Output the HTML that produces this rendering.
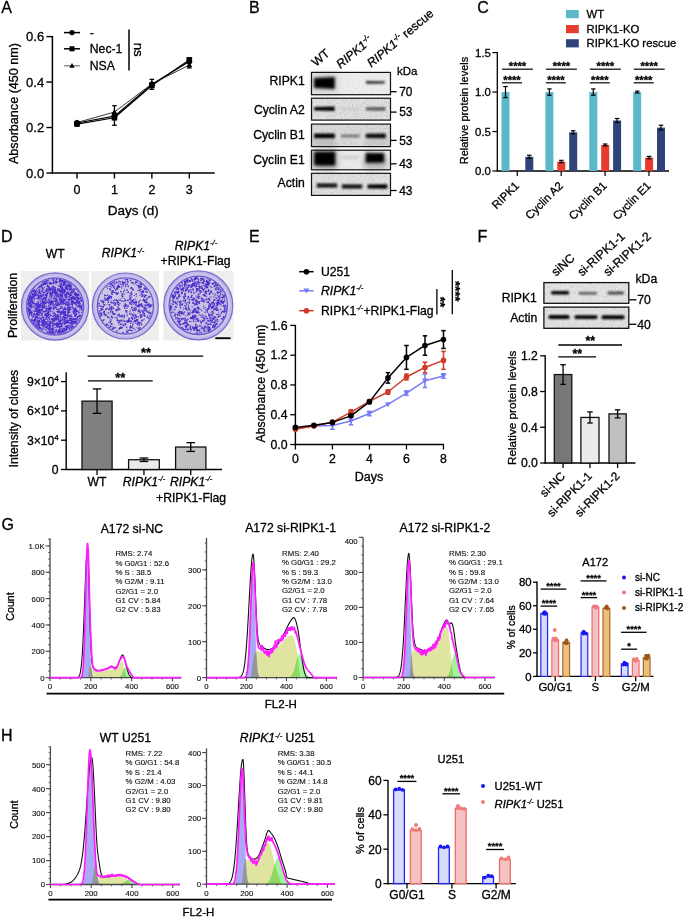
<!DOCTYPE html>
<html><head><meta charset="utf-8"><title>Figure</title>
<style>
html,body{margin:0;padding:0;background:#fff;width:685px;height:919px;overflow:hidden}
svg{display:block;font-family:"Liberation Sans",sans-serif}
text{stroke:#000;stroke-width:0.3px;stroke-linejoin:round}
</style></head><body>
<svg width="685" height="919" viewBox="0 0 685 919"><defs><filter id="bl1" x="-30%" y="-100%" width="160%" height="300%"><feGaussianBlur stdDeviation="1.3"/></filter><filter id="bl2" x="-30%" y="-80%" width="160%" height="260%"><feGaussianBlur stdDeviation="2"/></filter><filter id="bl05" x="-30%" y="-150%" width="160%" height="400%"><feGaussianBlur stdDeviation="0.9"/></filter><filter id="noise" x="0" y="0" width="100%" height="100%"><feTurbulence type="fractalNoise" baseFrequency="0.9" numOctaves="2" seed="3"/><feColorMatrix type="matrix" values="0 0 0 0 0  0 0 0 0 0  0 0 0 0 0  0 0 0 0.35 -0.05"/></filter><filter id="grain" x="0" y="0" width="100%" height="100%"><feTurbulence type="fractalNoise" baseFrequency="0.95" numOctaves="2" seed="4"/><feColorMatrix type="matrix" values="0 0 0 0 0  0 0 0 0 0  0 0 0 0 0  -0.9 0 0 0 0.5"/><feComposite in2="SourceGraphic" operator="in"/></filter><filter id="grainw" x="0" y="0" width="100%" height="100%"><feTurbulence type="fractalNoise" baseFrequency="0.6" numOctaves="2" seed="8"/><feColorMatrix type="matrix" values="0 0 0 0 1  0 0 0 0 1  0 0 0 0 1  1.3 0 0 0 -0.55"/><feComposite in2="SourceGraphic" operator="in"/></filter><filter id="bl15" x="-30%" y="-80%" width="160%" height="260%"><feGaussianBlur stdDeviation="1.5"/></filter><filter id="bl3" x="-30%" y="-80%" width="160%" height="260%"><feGaussianBlur stdDeviation="3"/></filter><clipPath id="cpD1"><circle cx="55.1" cy="306.5" r="28"/></clipPath><clipPath id="cpD2"><circle cx="125.4" cy="306" r="27.5"/></clipPath><clipPath id="cpD3"><circle cx="198.3" cy="305.4" r="28.6"/></clipPath><filter id="dblur"><feGaussianBlur stdDeviation="0.35"/></filter></defs><text x="1.3" y="13.4" text-anchor="start" fill="#000" style="font-size:16px">A</text>
<line x1="52.4" y1="36" x2="52.4" y2="173.7" stroke="#000" stroke-width="1.5"/>
<line x1="51.7" y1="173" x2="214.7" y2="173" stroke="#000" stroke-width="1.5"/>
<line x1="46.4" y1="173" x2="52.4" y2="173" stroke="#000" stroke-width="1.4"/>
<text x="44.2" y="177.6" text-anchor="end" fill="#000" style="font-size:13px">0.0</text>
<line x1="46.4" y1="127.53" x2="52.4" y2="127.53" stroke="#000" stroke-width="1.4"/>
<text x="44.2" y="132.13" text-anchor="end" fill="#000" style="font-size:13px">0.2</text>
<line x1="46.4" y1="82.07" x2="52.4" y2="82.07" stroke="#000" stroke-width="1.4"/>
<text x="44.2" y="86.67" text-anchor="end" fill="#000" style="font-size:13px">0.4</text>
<line x1="46.4" y1="36.6" x2="52.4" y2="36.6" stroke="#000" stroke-width="1.4"/>
<text x="44.2" y="41.2" text-anchor="end" fill="#000" style="font-size:13px">0.6</text>
<line x1="77" y1="173" x2="77" y2="178.5" stroke="#000" stroke-width="1.4"/>
<text x="77" y="193.6" text-anchor="middle" fill="#000" style="font-size:12.5px">0</text>
<line x1="114.43" y1="173" x2="114.43" y2="178.5" stroke="#000" stroke-width="1.4"/>
<text x="114.43" y="193.6" text-anchor="middle" fill="#000" style="font-size:12.5px">1</text>
<line x1="151.86" y1="173" x2="151.86" y2="178.5" stroke="#000" stroke-width="1.4"/>
<text x="151.86" y="193.6" text-anchor="middle" fill="#000" style="font-size:12.5px">2</text>
<line x1="189.29" y1="173" x2="189.29" y2="178.5" stroke="#000" stroke-width="1.4"/>
<text x="189.29" y="193.6" text-anchor="middle" fill="#000" style="font-size:12.5px">3</text>
<text x="133.3" y="214.6" text-anchor="middle" fill="#000" style="font-size:13.5px">Days (d)</text>
<text x="18.1" y="103.5" text-anchor="middle" fill="#000" style="font-size:12.6px" transform="rotate(-90 18.1 103.5)">Absorbance (450 nm)</text>
<polyline points="77,122.99 114.43,116.17 151.86,84.34 189.29,61.61" fill="none" stroke="#000" stroke-width="1.2" stroke-linejoin="round"/>
<polyline points="77,124.12 114.43,117.76 151.86,85.48 189.29,60.02" fill="none" stroke="#000" stroke-width="1.2" stroke-linejoin="round"/>
<polyline points="77,122.53 114.43,112.07 151.86,83.89 189.29,65.02" fill="none" stroke="#222" stroke-width="0.9" stroke-linejoin="round"/>
<line x1="77" y1="121.85" x2="77" y2="124.58" stroke="#000" stroke-width="1.3"/>
<line x1="74.75" y1="121.85" x2="79.25" y2="121.85" stroke="#000" stroke-width="1.3"/>
<line x1="74.75" y1="124.58" x2="79.25" y2="124.58" stroke="#000" stroke-width="1.3"/>
<line x1="114.43" y1="105.71" x2="114.43" y2="125.26" stroke="#000" stroke-width="1.3"/>
<line x1="112.18" y1="105.71" x2="116.68" y2="105.71" stroke="#000" stroke-width="1.3"/>
<line x1="112.18" y1="125.26" x2="116.68" y2="125.26" stroke="#000" stroke-width="1.3"/>
<line x1="151.86" y1="79.34" x2="151.86" y2="89.34" stroke="#000" stroke-width="1.3"/>
<line x1="149.61" y1="79.34" x2="154.11" y2="79.34" stroke="#000" stroke-width="1.3"/>
<line x1="149.61" y1="89.34" x2="154.11" y2="89.34" stroke="#000" stroke-width="1.3"/>
<line x1="189.29" y1="57.74" x2="189.29" y2="67.97" stroke="#000" stroke-width="1.3"/>
<line x1="187.04" y1="57.74" x2="191.54" y2="57.74" stroke="#000" stroke-width="1.3"/>
<line x1="187.04" y1="67.97" x2="191.54" y2="67.97" stroke="#000" stroke-width="1.3"/>
<circle cx="77" cy="122.99" r="2.9" fill="#000" stroke="none" stroke-width="1"/>
<circle cx="114.43" cy="116.17" r="2.9" fill="#000" stroke="none" stroke-width="1"/>
<circle cx="151.86" cy="84.34" r="2.9" fill="#000" stroke="none" stroke-width="1"/>
<circle cx="189.29" cy="61.61" r="2.9" fill="#000" stroke="none" stroke-width="1"/>
<rect x="74.2" y="121.32" width="5.6" height="5.6" fill="#000" stroke="none" stroke-width="1"/>
<rect x="111.63" y="114.96" width="5.6" height="5.6" fill="#000" stroke="none" stroke-width="1"/>
<rect x="149.06" y="82.68" width="5.6" height="5.6" fill="#000" stroke="none" stroke-width="1"/>
<rect x="186.49" y="57.22" width="5.6" height="5.6" fill="#000" stroke="none" stroke-width="1"/>
<path d="M77 119.53L74 124.73L80 124.73Z" fill="#000" stroke="none" stroke-width="1"/>
<path d="M114.43 109.07L111.43 114.27L117.43 114.27Z" fill="#000" stroke="none" stroke-width="1"/>
<path d="M151.86 80.89L148.86 86.09L154.86 86.09Z" fill="#000" stroke="none" stroke-width="1"/>
<path d="M189.29 62.02L186.29 67.22L192.29 67.22Z" fill="#000" stroke="none" stroke-width="1"/>
<line x1="64" y1="32.6" x2="80" y2="32.6" stroke="#000" stroke-width="1.5"/>
<circle cx="72" cy="32.6" r="2.61" fill="#000" stroke="none" stroke-width="1"/>
<text x="89.8" y="37" text-anchor="start" fill="#000" style="font-size:12.2px">-</text>
<line x1="64" y1="48.8" x2="80" y2="48.8" stroke="#000" stroke-width="1.5"/>
<rect x="69.48" y="46.28" width="5.04" height="5.04" fill="#000" stroke="none" stroke-width="1"/>
<text x="89.8" y="53.2" text-anchor="start" fill="#000" style="font-size:12.2px">Nec-1</text>
<line x1="64" y1="65.8" x2="80" y2="65.8" stroke="#777" stroke-width="1.2"/>
<path d="M72 63.1L69.3 67.78L74.7 67.78Z" fill="#000" stroke="none" stroke-width="1"/>
<text x="89.8" y="70.2" text-anchor="start" fill="#000" style="font-size:12.2px">NSA</text>
<line x1="129" y1="29.5" x2="129" y2="70.4" stroke="#000" stroke-width="1.5"/>
<text x="134.3" y="49.7" text-anchor="middle" fill="#000" style="font-size:13.2px" transform="rotate(90 134.3 49.7)">ns</text>
<text x="249" y="13.4" text-anchor="start" fill="#000" style="font-size:16px">B</text>
<rect x="311.5" y="72.4" width="79" height="22.3" fill="#ededed" stroke="none" stroke-width="1"/>
<text x="304.7" y="85.1" text-anchor="end" fill="#000" style="font-size:12.2px">RIPK1</text>
<line x1="390.8" y1="91.7" x2="396.6" y2="91.7" stroke="#000" stroke-width="1.3"/>
<text x="399.2" y="96" text-anchor="start" fill="#000" style="font-size:11.9px">70</text>
<rect x="311.5" y="72.4" width="79" height="22.3" fill="#fff" filter="url(#grain)" opacity="0.15"/>
<rect x="311.5" y="98.2" width="79" height="21.9" fill="#e2e2e2" stroke="none" stroke-width="1"/>
<text x="304.7" y="114.1" text-anchor="end" fill="#000" style="font-size:12.2px">Cyclin A2</text>
<line x1="390.8" y1="112.1" x2="396.6" y2="112.1" stroke="#000" stroke-width="1.3"/>
<text x="399.2" y="116.4" text-anchor="start" fill="#000" style="font-size:11.9px">53</text>
<rect x="311.5" y="98.2" width="79" height="21.9" fill="#fff" filter="url(#grain)" opacity="0.45"/>
<rect x="311.5" y="124.1" width="79" height="22.5" fill="#dedede" stroke="none" stroke-width="1"/>
<text x="304.7" y="139.2" text-anchor="end" fill="#000" style="font-size:12.2px">Cyclin B1</text>
<line x1="390.8" y1="140.4" x2="396.6" y2="140.4" stroke="#000" stroke-width="1.3"/>
<text x="399.2" y="144.7" text-anchor="start" fill="#000" style="font-size:11.9px">53</text>
<rect x="311.5" y="124.1" width="79" height="22.5" fill="#fff" filter="url(#grain)" opacity="0.45"/>
<rect x="311.5" y="150.2" width="79" height="19.6" fill="#ededed" stroke="none" stroke-width="1"/>
<text x="304.7" y="163.6" text-anchor="end" fill="#000" style="font-size:12.2px">Cyclin E1</text>
<line x1="390.8" y1="163.8" x2="396.6" y2="163.8" stroke="#000" stroke-width="1.3"/>
<text x="399.2" y="168.1" text-anchor="start" fill="#000" style="font-size:11.9px">43</text>
<rect x="311.5" y="150.2" width="79" height="19.6" fill="#fff" filter="url(#grain)" opacity="0.2"/>
<rect x="311.5" y="173.3" width="79" height="22.1" fill="#e2e2e2" stroke="none" stroke-width="1"/>
<text x="304.7" y="187.2" text-anchor="end" fill="#000" style="font-size:12.2px">Actin</text>
<line x1="390.8" y1="190.5" x2="396.6" y2="190.5" stroke="#000" stroke-width="1.3"/>
<text x="399.2" y="194.8" text-anchor="start" fill="#000" style="font-size:11.9px">43</text>
<rect x="311.5" y="173.3" width="79" height="22.1" fill="#fff" filter="url(#grain)" opacity="0.4"/>
<text x="397" y="74.6" text-anchor="start" fill="#000" style="font-size:11.5px">kDa</text>
<rect x="312" y="73" width="26" height="21" fill="#d4d4d4" filter="url(#bl3)"/>
<rect x="313" y="139" width="23" height="7" fill="#bdbdbd" filter="url(#bl2)"/>
<rect x="365" y="139" width="23" height="7" fill="#c4c4c4" filter="url(#bl2)"/>
<rect x="313" y="151" width="24" height="18" fill="#9a9a9a" filter="url(#bl3)"/>
<rect x="364" y="156" width="23" height="13" fill="#b0b0b0" filter="url(#bl3)"/>
<path d="M314 78 Q324.4 77.5 334.8 77 L334.8 89 Q324.4 88.5 314 88 Z" fill="#000" opacity="1" filter="url(#bl15)"/>
<path d="M366 81.1 Q375.4 81.2 384.8 81.3 L384.8 83.5 Q375.4 83.6 366 83.7 Z" fill="#2a2a2a" opacity="1" filter="url(#bl05)"/>
<path d="M314.2 107 Q324.4 106.75 334.6 106.5 L334.6 111.1 Q324.4 110.85 314.2 110.6 Z" fill="#050505" opacity="1" filter="url(#bl05)"/>
<path d="M341 108 Q350.5 108 360 108 L360 110 Q350.5 110 341 110 Z" fill="#c8c8c8" opacity="1" filter="url(#bl1)"/>
<path d="M366 107.2 Q375.7 107.1 385.4 107 L385.4 110.8 Q375.7 110.7 366 110.6 Z" fill="#5a5a5a" opacity="1" filter="url(#bl05)"/>
<path d="M314.2 133.6 Q324.5 133.55 334.8 133.5 L334.8 138.3 Q324.5 138.25 314.2 138.2 Z" fill="#050505" opacity="1" filter="url(#bl05)"/>
<path d="M341 134.5 Q350.3 134.5 359.6 134.5 L359.6 137.5 Q350.3 137.5 341 137.5 Z" fill="#7a7a7a" opacity="1" filter="url(#bl05)"/>
<path d="M365.8 133.8 Q375.8 133.7 385.8 133.6 L385.8 138.2 Q375.8 138.1 365.8 138 Z" fill="#0a0a0a" opacity="1" filter="url(#bl05)"/>
<path d="M314.2 151.65 Q324.7 151.53 335.2 151.4 L335.2 165.4 Q324.7 165.28 314.2 165.15 Z" fill="#000" opacity="1" filter="url(#bl15)"/>
<path d="M341 155.2 Q350 155.2 359 155.2 L359 159.2 Q350 159.2 341 159.2 Z" fill="#d0d0d0" opacity="1" filter="url(#bl15)"/>
<path d="M365.6 152.8 Q374.9 152.93 384.2 153.05 L384.2 162.55 Q374.9 162.68 365.6 162.8 Z" fill="#000" opacity="1" filter="url(#bl15)"/>
<path d="M316.8 183.6 Q326.95 183.6 337.1 183.6 L337.1 187.6 Q326.95 187.6 316.8 187.6 Z" fill="#0a0a0a" opacity="1" filter="url(#bl05)"/>
<path d="M341.9 184.5 Q352.05 184.5 362.2 184.5 L362.2 188.5 Q352.05 188.5 341.9 188.5 Z" fill="#0a0a0a" opacity="1" filter="url(#bl05)"/>
<path d="M367.6 184.4 Q377.45 184.35 387.3 184.3 L387.3 188.7 Q377.45 188.65 367.6 188.6 Z" fill="#050505" opacity="1" filter="url(#bl05)"/>
<rect x="311.5" y="72.4" width="79" height="22.3" fill="none" stroke="#111" stroke-width="1.2"/>
<rect x="311.5" y="98.2" width="79" height="21.9" fill="none" stroke="#111" stroke-width="1.2"/>
<rect x="311.5" y="124.1" width="79" height="22.5" fill="none" stroke="#111" stroke-width="1.2"/>
<rect x="311.5" y="150.2" width="79" height="19.6" fill="none" stroke="#111" stroke-width="1.2"/>
<rect x="311.5" y="173.3" width="79" height="22.1" fill="none" stroke="#111" stroke-width="1.2"/>
<text x="316" y="67" text-anchor="start" fill="#000" style="font-size:12.2px" transform="rotate(-40 316 67)">WT</text>
<text x="340.5" y="69" text-anchor="start" fill="#000" style="font-size:12.2px" transform="rotate(-40 340.5 69)"><tspan style="font-style:italic">RIPK1</tspan><tspan dy="-4.6" style="font-size:7.8px;font-style:italic">-/-</tspan></text>
<text x="371.3" y="67.8" text-anchor="start" fill="#000" style="font-size:12.2px" transform="rotate(-40 371.3 67.8)"><tspan style="font-style:italic">RIPK1</tspan><tspan dy="-4.6" style="font-size:7.8px;font-style:italic">-/-</tspan><tspan dy="4.6"> rescue</tspan></text>
<text x="477.3" y="13.3" text-anchor="start" fill="#000" style="font-size:16px">C</text>
<rect x="566" y="10" width="12.8" height="8.2" fill="#5bb8c8" stroke="none" stroke-width="1"/>
<text x="586.5" y="18.2" text-anchor="start" fill="#000" style="font-size:11.3px">WT</text>
<rect x="566" y="25" width="12.8" height="8.2" fill="#e63b2e" stroke="none" stroke-width="1"/>
<text x="586.5" y="33.2" text-anchor="start" fill="#000" style="font-size:11.3px">RIPK1-KO</text>
<rect x="566" y="39.2" width="12.8" height="8.2" fill="#2e4479" stroke="none" stroke-width="1"/>
<text x="586.5" y="47.4" text-anchor="start" fill="#000" style="font-size:11.3px">RIPK1-KO rescue</text>
<line x1="497.3" y1="52" x2="497.3" y2="171.6" stroke="#000" stroke-width="1.3"/>
<line x1="496.7" y1="171" x2="669" y2="171" stroke="#000" stroke-width="1.3"/>
<line x1="492.4" y1="171" x2="497.3" y2="171" stroke="#000" stroke-width="1.2"/>
<text x="490.9" y="175.1" text-anchor="end" fill="#000" style="font-size:11.4px">0.0</text>
<line x1="492.4" y1="131.53" x2="497.3" y2="131.53" stroke="#000" stroke-width="1.2"/>
<text x="490.9" y="135.63" text-anchor="end" fill="#000" style="font-size:11.4px">0.5</text>
<line x1="492.4" y1="92.07" x2="497.3" y2="92.07" stroke="#000" stroke-width="1.2"/>
<text x="490.9" y="96.17" text-anchor="end" fill="#000" style="font-size:11.4px">1.0</text>
<line x1="492.4" y1="52.6" x2="497.3" y2="52.6" stroke="#000" stroke-width="1.2"/>
<text x="490.9" y="56.7" text-anchor="end" fill="#000" style="font-size:11.4px">1.5</text>
<text x="468" y="110.5" text-anchor="middle" fill="#000" style="font-size:11px" transform="rotate(-90 468 110.5)">Relative protein levels</text>
<rect x="501.5" y="92.07" width="8" height="78.93" fill="#5bb8c8" stroke="none" stroke-width="1"/>
<line x1="505.5" y1="86.54" x2="505.5" y2="97.6" stroke="#000" stroke-width="1.2"/>
<line x1="503.25" y1="86.54" x2="507.75" y2="86.54" stroke="#000" stroke-width="1.2"/>
<line x1="503.25" y1="97.6" x2="507.75" y2="97.6" stroke="#000" stroke-width="1.2"/>
<rect x="513.4" y="171" width="8" height="0" fill="#e63b2e" stroke="none" stroke-width="1"/>
<rect x="525.3" y="156.79" width="8" height="14.21" fill="#2e4479" stroke="none" stroke-width="1"/>
<line x1="529.3" y1="155.21" x2="529.3" y2="158.37" stroke="#000" stroke-width="1.2"/>
<line x1="527.05" y1="155.21" x2="531.55" y2="155.21" stroke="#000" stroke-width="1.2"/>
<line x1="527.05" y1="158.37" x2="531.55" y2="158.37" stroke="#000" stroke-width="1.2"/>
<line x1="517.3" y1="171" x2="517.3" y2="176" stroke="#000" stroke-width="1.2"/>
<text x="519.8" y="186.5" text-anchor="end" fill="#000" style="font-size:11.4px" transform="rotate(-45 519.8 186.5)">RIPK1</text>
<line x1="502" y1="69.2" x2="533" y2="69.2" stroke="#000" stroke-width="1.2"/>
<line x1="502" y1="82.8" x2="522" y2="82.8" stroke="#000" stroke-width="1.2"/>
<text x="517.5" y="69.88" text-anchor="middle" fill="#000" style="font-size:11.2px;font-weight:bold">****</text>
<text x="512" y="84.38" text-anchor="middle" fill="#000" style="font-size:11.2px;font-weight:bold">****</text>
<rect x="545.4" y="92.07" width="8" height="78.93" fill="#5bb8c8" stroke="none" stroke-width="1"/>
<line x1="549.4" y1="88.91" x2="549.4" y2="95.23" stroke="#000" stroke-width="1.2"/>
<line x1="547.15" y1="88.91" x2="551.65" y2="88.91" stroke="#000" stroke-width="1.2"/>
<line x1="547.15" y1="95.23" x2="551.65" y2="95.23" stroke="#000" stroke-width="1.2"/>
<rect x="557.3" y="161.53" width="8" height="9.47" fill="#e63b2e" stroke="none" stroke-width="1"/>
<line x1="561.3" y1="160.34" x2="561.3" y2="162.71" stroke="#000" stroke-width="1.2"/>
<line x1="559.05" y1="160.34" x2="563.55" y2="160.34" stroke="#000" stroke-width="1.2"/>
<line x1="559.05" y1="162.71" x2="563.55" y2="162.71" stroke="#000" stroke-width="1.2"/>
<rect x="569.2" y="132.32" width="8" height="38.68" fill="#2e4479" stroke="none" stroke-width="1"/>
<line x1="573.2" y1="130.75" x2="573.2" y2="133.9" stroke="#000" stroke-width="1.2"/>
<line x1="570.95" y1="130.75" x2="575.45" y2="130.75" stroke="#000" stroke-width="1.2"/>
<line x1="570.95" y1="133.9" x2="575.45" y2="133.9" stroke="#000" stroke-width="1.2"/>
<line x1="561.2" y1="171" x2="561.2" y2="176" stroke="#000" stroke-width="1.2"/>
<text x="563.7" y="186.5" text-anchor="end" fill="#000" style="font-size:11.4px" transform="rotate(-45 563.7 186.5)">Cyclin A2</text>
<line x1="545.9" y1="69.2" x2="576.9" y2="69.2" stroke="#000" stroke-width="1.2"/>
<line x1="545.9" y1="82.8" x2="565.9" y2="82.8" stroke="#000" stroke-width="1.2"/>
<text x="561.4" y="69.88" text-anchor="middle" fill="#000" style="font-size:11.2px;font-weight:bold">****</text>
<text x="555.9" y="84.38" text-anchor="middle" fill="#000" style="font-size:11.2px;font-weight:bold">****</text>
<rect x="589.3" y="92.07" width="8" height="78.93" fill="#5bb8c8" stroke="none" stroke-width="1"/>
<line x1="593.3" y1="88.91" x2="593.3" y2="95.23" stroke="#000" stroke-width="1.2"/>
<line x1="591.05" y1="88.91" x2="595.55" y2="88.91" stroke="#000" stroke-width="1.2"/>
<line x1="591.05" y1="95.23" x2="595.55" y2="95.23" stroke="#000" stroke-width="1.2"/>
<rect x="601.2" y="144.95" width="8" height="26.05" fill="#e63b2e" stroke="none" stroke-width="1"/>
<line x1="605.2" y1="144.01" x2="605.2" y2="145.9" stroke="#000" stroke-width="1.2"/>
<line x1="602.95" y1="144.01" x2="607.45" y2="144.01" stroke="#000" stroke-width="1.2"/>
<line x1="602.95" y1="145.9" x2="607.45" y2="145.9" stroke="#000" stroke-width="1.2"/>
<rect x="613.1" y="120.48" width="8" height="50.52" fill="#2e4479" stroke="none" stroke-width="1"/>
<line x1="617.1" y1="118.51" x2="617.1" y2="122.46" stroke="#000" stroke-width="1.2"/>
<line x1="614.85" y1="118.51" x2="619.35" y2="118.51" stroke="#000" stroke-width="1.2"/>
<line x1="614.85" y1="122.46" x2="619.35" y2="122.46" stroke="#000" stroke-width="1.2"/>
<line x1="605.1" y1="171" x2="605.1" y2="176" stroke="#000" stroke-width="1.2"/>
<text x="607.6" y="186.5" text-anchor="end" fill="#000" style="font-size:11.4px" transform="rotate(-45 607.6 186.5)">Cyclin B1</text>
<line x1="589.8" y1="69.2" x2="620.8" y2="69.2" stroke="#000" stroke-width="1.2"/>
<line x1="589.8" y1="82.8" x2="609.8" y2="82.8" stroke="#000" stroke-width="1.2"/>
<text x="605.3" y="69.88" text-anchor="middle" fill="#000" style="font-size:11.2px;font-weight:bold">****</text>
<text x="599.8" y="84.38" text-anchor="middle" fill="#000" style="font-size:11.2px;font-weight:bold">****</text>
<rect x="633.2" y="92.07" width="8" height="78.93" fill="#5bb8c8" stroke="none" stroke-width="1"/>
<line x1="637.2" y1="91.12" x2="637.2" y2="93.02" stroke="#000" stroke-width="1.2"/>
<line x1="634.95" y1="91.12" x2="639.45" y2="91.12" stroke="#000" stroke-width="1.2"/>
<line x1="634.95" y1="93.02" x2="639.45" y2="93.02" stroke="#000" stroke-width="1.2"/>
<rect x="645.1" y="157.58" width="8" height="13.42" fill="#e63b2e" stroke="none" stroke-width="1"/>
<line x1="649.1" y1="156.4" x2="649.1" y2="158.77" stroke="#000" stroke-width="1.2"/>
<line x1="646.85" y1="156.4" x2="651.35" y2="156.4" stroke="#000" stroke-width="1.2"/>
<line x1="646.85" y1="158.77" x2="651.35" y2="158.77" stroke="#000" stroke-width="1.2"/>
<rect x="657" y="127.59" width="8" height="43.41" fill="#2e4479" stroke="none" stroke-width="1"/>
<line x1="661" y1="125.22" x2="661" y2="129.96" stroke="#000" stroke-width="1.2"/>
<line x1="658.75" y1="125.22" x2="663.25" y2="125.22" stroke="#000" stroke-width="1.2"/>
<line x1="658.75" y1="129.96" x2="663.25" y2="129.96" stroke="#000" stroke-width="1.2"/>
<line x1="649" y1="171" x2="649" y2="176" stroke="#000" stroke-width="1.2"/>
<text x="651.5" y="186.5" text-anchor="end" fill="#000" style="font-size:11.4px" transform="rotate(-45 651.5 186.5)">Cyclin E1</text>
<line x1="633.7" y1="69.2" x2="664.7" y2="69.2" stroke="#000" stroke-width="1.2"/>
<line x1="633.7" y1="82.8" x2="653.7" y2="82.8" stroke="#000" stroke-width="1.2"/>
<text x="649.2" y="69.88" text-anchor="middle" fill="#000" style="font-size:11.2px;font-weight:bold">****</text>
<text x="643.7" y="84.38" text-anchor="middle" fill="#000" style="font-size:11.2px;font-weight:bold">****</text>
<text x="1.1" y="241.8" text-anchor="start" fill="#000" style="font-size:16px">D</text>
<text x="55.2" y="258" text-anchor="middle" fill="#000" style="font-size:12.2px">WT</text>
<text x="123" y="257.2" text-anchor="middle" fill="#000" style="font-size:12.2px"><tspan style="font-style:italic">RIPK1</tspan><tspan dy="-4.64" style="font-size:7.56px;font-style:italic">-/-</tspan></text>
<text x="196" y="249.5" text-anchor="middle" fill="#000" style="font-size:12.2px"><tspan style="font-style:italic">RIPK1</tspan><tspan dy="-4.64" style="font-size:7.56px;font-style:italic">-/-</tspan></text>
<text x="195.6" y="264.7" text-anchor="middle" fill="#000" style="font-size:12.2px">+RIPK1-Flag</text>
<text x="17.2" y="305.5" text-anchor="middle" fill="#000" style="font-size:12.2px" transform="rotate(-90 17.2 305.5)">Proliferation</text>
<rect x="20.9" y="271" width="68" height="69.4" fill="#eeeeec" stroke="none" stroke-width="1"/>
<circle cx="55.1" cy="306.5" r="33.6" fill="#bfb8e6" stroke="#7868d4" stroke-width="1.2"/>
<circle cx="55.1" cy="306.5" r="31.2" fill="#cbc6ea" stroke="none" stroke-width="1"/>
<circle cx="55.1" cy="306.5" r="28.6" fill="#bcb6e0" stroke="#6a58d0" stroke-width="1.3"/>
<g clip-path="url(#cpD1)"><g filter="url(#dblur)">
<path d="M82.9 310.0h0M81.7 308.1h0M71.6 297.5h0M72.5 298.5h0M43.3 284.6h0M66.9 326.5h0M43.0 330.7h0M63.3 291.8h0M38.1 307.7h0M63.6 283.1h0M39.4 286.5h0M39.6 287.3h0M37.4 322.3h0M36.9 323.9h0M38.2 320.3h0M37.6 320.7h0M50.1 287.8h0M48.3 287.8h0M30.1 304.5h0M68.7 310.8h0M67.9 308.8h0M71.3 307.5h0M78.2 298.1h0M41.2 288.3h0M52.7 319.4h0M45.1 284.2h0M66.9 326.8h0M42.0 322.9h0M42.9 326.1h0M76.0 307.3h0M79.3 305.1h0M79.7 305.1h0M40.3 293.5h0M51.0 307.6h0M61.5 289.6h0M72.5 319.9h0M73.0 319.7h0M71.5 323.6h0M71.3 324.1h0M46.0 311.1h0M50.6 309.3h0M40.2 295.6h0M69.4 286.0h0M65.5 309.0h0M57.2 316.9h0M57.8 327.8h0M69.2 297.7h0M73.7 321.7h0M55.9 303.2h0M56.1 302.2h0M47.8 289.7h0M47.2 286.5h0M54.2 319.9h0M51.8 320.8h0M27.4 304.1h0M31.4 313.1h0M32.6 303.7h0M33.1 302.2h0M61.0 283.9h0M61.4 283.0h0M67.6 327.5h0M51.4 319.2h0M66.0 281.9h0M65.8 281.9h0M80.6 297.8h0M41.7 307.0h0M69.0 300.1h0M69.1 300.9h0M52.5 283.5h0M29.7 310.3h0M30.5 311.1h0M41.9 303.0h0M65.3 328.8h0M30.1 298.9h0M77.0 299.0h0M45.9 295.6h0M52.9 313.5h0M54.7 314.2h0M27.4 308.8h0M52.4 301.5h0M65.8 290.1h0M65.4 291.6h0M29.5 310.6h0M41.6 309.6h0M71.2 327.1h0M72.5 327.7h0M32.8 290.9h0M39.3 297.9h0M39.5 297.7h0M46.8 289.0h0M73.8 311.8h0M73.3 313.0h0M60.6 293.7h0M58.7 321.1h0M54.4 305.1h0M71.1 295.0h0M71.3 294.1h0M56.5 281.3h0M75.8 323.2h0M81.1 309.4h0M64.1 324.2h0M62.3 310.7h0M71.4 288.7h0M63.7 279.5h0M41.9 319.4h0M42.6 321.7h0M34.4 287.8h0M62.0 316.6h0M72.5 297.4h0M73.3 297.0h0M64.9 313.1h0M48.0 332.6h0M60.6 308.6h0M67.0 287.3h0M56.6 297.0h0M58.1 296.7h0M58.4 297.3h0M63.0 304.5h0M75.8 294.5h0M38.4 296.5h0M29.6 297.4h0M63.9 291.9h0M57.9 303.3h0M63.3 289.7h0M44.6 315.9h0M45.1 314.6h0M49.1 309.6h0M66.6 287.4h0M58.5 302.7h0M76.3 300.2h0M52.9 332.8h0M74.5 294.6h0M58.9 302.5h0M63.5 314.2h0M42.7 314.9h0M42.6 316.9h0M41.6 321.2h0M43.5 321.8h0M60.3 279.2h0M61.3 282.1h0M39.4 314.7h0M64.8 300.6h0M73.7 298.7h0M75.9 294.3h0M76.4 294.1h0M46.8 325.1h0M65.6 310.7h0M30.7 310.1h0M78.0 316.8h0M64.7 295.5h0M65.6 296.0h0M51.0 308.4h0M70.1 294.8h0M54.8 295.6h0M54.5 298.2h0M66.2 315.5h0M81.4 312.3h0M38.3 304.7h0M48.2 279.9h0M55.3 324.6h0M66.7 321.3h0M69.3 328.8h0M36.1 322.3h0M42.6 304.3h0M44.4 305.2h0M64.1 294.5h0M62.1 294.7h0M39.1 310.1h0M64.1 282.9h0M65.6 284.1h0M74.8 301.9h0M43.8 307.7h0M33.9 297.2h0M44.3 321.2h0M79.0 313.6h0M64.4 280.6h0M65.0 330.5h0M60.8 286.5h0M60.1 286.8h0M34.1 323.1h0M34.9 323.3h0M33.8 323.7h0M59.9 326.4h0M52.4 293.4h0M58.5 301.0h0M35.1 298.4h0M51.1 304.1h0M51.3 318.7h0M49.9 288.8h0M43.8 282.0h0M44.6 281.5h0M70.2 282.9h0M69.9 282.3h0M45.2 295.2h0M47.4 295.6h0M29.7 303.7h0M59.3 312.9h0M59.6 311.4h0M46.9 283.2h0M57.1 304.8h0M52.5 289.0h0M52.6 283.2h0M65.8 293.9h0M65.0 294.7h0M57.3 289.8h0M65.7 311.1h0M67.6 310.6h0M62.2 329.6h0M61.3 328.8h0M40.4 318.3h0M65.6 290.8h0M67.2 287.2h0M66.8 293.6h0M32.0 305.5h0M28.6 311.2h0M62.4 318.4h0M31.8 321.6h0M47.5 287.0h0M31.8 312.5h0M59.6 301.2h0M52.8 288.6h0M50.7 289.3h0M46.3 294.8h0M59.4 281.3h0M82.3 301.5h0M31.7 305.7h0M59.2 323.2h0M36.2 315.6h0M35.0 314.3h0M46.8 291.0h0M50.9 331.6h0M53.5 309.5h0M54.6 301.6h0M68.7 332.0h0M67.7 331.9h0M67.4 331.7h0M76.9 295.1h0M45.0 314.4h0M34.4 309.8h0M65.4 314.7h0M50.7 315.5h0M51.4 315.4h0M63.7 312.9h0M71.5 298.8h0M67.9 292.2h0M66.6 293.7h0M39.3 323.0h0M56.0 314.7h0M57.8 315.2h0M39.6 321.2h0M53.3 315.9h0M52.6 316.5h0M53.7 285.0h0M72.4 301.9h0M44.6 287.4h0M69.7 289.9h0M47.1 309.8h0M81.5 299.8h0M70.0 329.5h0M44.0 299.8h0M36.5 310.7h0M37.2 310.2h0M50.1 322.5h0M60.8 319.8h0M34.5 320.4h0M34.9 318.6h0M64.7 324.4h0M64.5 324.1h0M56.7 305.6h0M57.8 305.3h0M46.3 306.4h0M26.9 300.1h0M26.8 299.4h0M65.5 286.8h0M66.1 287.4h0M71.7 318.5h0M49.5 282.8h0M71.2 300.2h0M72.1 302.6h0M61.4 285.8h0M49.3 283.0h0M67.9 290.8h0M29.5 296.4h0M59.6 289.1h0M60.5 281.3h0M60.7 279.9h0M61.3 280.1h0M63.0 285.7h0M69.2 300.8h0M39.6 320.4h0M50.2 323.4h0M66.1 326.4h0M64.4 328.2h0M62.9 330.7h0M73.2 291.1h0M57.5 300.0h0M40.8 297.0h0M41.2 295.9h0M50.3 327.4h0M50.0 327.4h0M74.9 318.8h0M59.4 330.5h0M40.7 311.9h0M41.1 310.8h0M39.4 317.4h0M37.4 316.8h0M70.6 308.1h0M64.1 290.6h0M35.9 308.2h0M43.7 294.5h0M54.1 317.2h0M53.1 318.2h0M59.9 328.3h0M35.0 315.8h0M29.3 303.3h0M35.9 325.9h0M66.0 301.8h0M66.3 301.6h0M44.0 305.9h0M42.6 305.4h0M60.7 315.5h0M47.0 307.3h0M45.8 307.1h0M65.5 305.4h0M42.1 305.9h0M63.3 291.7h0M59.8 290.7h0M55.5 304.2h0M45.8 295.2h0M83.3 304.9h0M82.5 304.4h0M71.3 320.6h0M61.7 284.4h0M67.1 282.0h0M35.6 303.7h0M65.7 307.5h0M51.7 303.5h0M58.7 319.6h0M39.8 311.4h0M39.9 311.2h0M69.6 318.5h0M41.3 286.8h0M40.0 287.9h0M50.2 329.8h0M50.1 331.3h0M51.5 330.8h0M51.8 301.9h0M52.8 316.3h0M35.5 320.0h0M35.5 321.2h0M38.7 287.5h0M38.9 286.8h0M45.9 279.6h0M47.9 292.2h0M53.8 309.5h0M57.3 295.3h0M41.1 294.2h0M41.3 294.7h0M48.2 308.9h0M64.4 322.8h0M49.1 288.7h0M47.5 290.6h0M46.2 322.5h0M46.5 283.2h0M61.5 287.6h0M43.3 298.7h0M63.4 298.2h0M49.1 305.1h0M54.4 318.9h0M67.2 332.0h0M65.4 332.3h0M53.4 279.3h0M37.3 326.9h0M79.4 318.5h0M60.8 314.2h0M58.2 321.2h0M36.9 311.3h0M48.6 302.3h0M49.1 300.9h0M52.2 298.1h0M29.6 313.3h0M45.6 306.5h0M47.6 326.4h0M63.4 299.5h0M67.1 292.1h0M54.7 299.6h0M55.2 300.3h0M52.4 331.8h0M76.3 288.9h0M66.5 318.0h0M53.9 328.0h0M38.9 307.6h0M40.1 310.5h0M50.4 315.1h0M48.5 314.2h0M51.6 323.2h0M62.5 307.8h0M63.4 279.7h0M63.1 280.7h0M60.9 306.7h0M69.5 293.3h0M31.4 299.1h0M72.6 292.7h0M58.6 317.3h0M60.1 317.0h0M48.2 282.8h0M37.1 324.7h0M47.0 303.8h0M57.7 333.0h0M66.1 284.0h0M68.8 300.4h0M67.7 299.7h0M75.5 322.7h0M53.6 306.9h0M67.5 288.7h0M77.6 294.5h0M38.8 327.8h0M69.7 298.4h0M63.1 304.3h0M39.6 312.5h0M47.3 302.3h0M42.3 324.0h0M42.5 323.3h0M44.1 323.2h0M35.9 296.0h0M74.2 310.5h0M73.2 309.2h0M75.3 304.7h0M76.7 305.4h0M67.7 321.2h0M39.3 290.6h0M36.2 294.0h0M67.6 314.0h0M57.7 333.1h0M37.6 311.3h0M38.4 306.7h0M57.1 323.9h0M49.3 298.5h0M71.7 320.2h0M73.0 298.3h0M67.0 317.5h0M56.0 330.8h0M38.1 314.3h0M53.7 281.1h0M40.2 306.6h0M66.7 321.1h0M41.8 303.6h0M78.5 299.7h0M27.0 310.3h0M40.5 319.7h0M68.7 314.7h0M40.7 321.7h0M41.5 320.1h0M42.4 292.6h0M76.1 323.2h0M76.2 324.0h0M58.9 330.2h0M74.9 312.8h0M61.4 283.5h0M62.1 331.7h0M67.8 314.3h0M59.5 333.2h0M34.9 321.6h0M70.7 289.4h0M65.0 294.2h0M40.0 325.5h0M35.6 309.0h0M53.6 333.7h0M58.6 334.6h0M49.3 328.8h0M63.6 313.1h0M55.6 290.0h0M49.2 331.2h0M50.1 331.3h0M78.8 304.4h0M55.6 283.1h0M56.2 284.0h0M50.6 293.9h0M51.6 294.8h0M56.7 291.4h0M55.2 292.3h0M68.4 312.0h0M67.9 311.7h0M52.6 332.3h0M42.3 307.6h0M64.4 329.5h0M54.6 323.5h0M71.5 329.7h0M72.8 328.4h0M44.7 292.9h0M42.7 291.1h0M44.5 292.3h0M69.7 295.4h0M65.0 317.4h0M37.3 322.3h0M49.2 287.1h0M48.3 299.4h0M47.8 314.1h0M75.3 293.1h0M58.7 290.8h0M68.1 296.7h0M56.4 331.3h0M55.1 319.6h0M62.4 330.7h0M74.5 296.7h0M46.9 324.5h0M63.9 308.7h0M63.5 330.3h0M34.3 299.5h0M35.8 295.6h0M63.5 315.6h0M63.6 317.3h0M51.7 295.2h0M51.5 294.4h0M55.7 306.6h0M54.4 307.3h0M58.0 310.9h0M58.6 312.6h0M29.5 295.8h0M73.8 320.9h0M57.0 326.5h0M38.8 309.9h0M70.7 286.2h0M41.4 314.2h0M62.9 298.3h0M60.9 285.6h0M49.9 289.6h0M58.8 332.8h0M58.5 332.3h0M32.3 289.3h0M57.1 279.2h0M44.9 304.2h0M63.3 331.5h0M68.0 325.9h0M68.5 325.4h0M43.6 326.1h0M31.6 312.6h0M46.7 315.5h0M47.0 314.4h0M76.5 314.5h0M54.0 313.8h0M75.3 293.3h0M40.9 315.3h0M72.0 325.7h0M55.2 317.6h0M42.3 309.2h0M53.7 334.1h0M59.4 324.0h0M60.0 330.2h0M60.7 299.3h0M48.7 330.7h0M80.2 299.1h0M64.1 291.7h0M36.1 316.2h0M57.2 323.9h0M30.4 313.7h0M63.9 287.8h0M46.8 330.3h0M32.8 293.2h0M52.8 328.1h0M52.3 320.8h0M61.9 298.8h0M54.3 314.0h0M58.3 306.2h0M80.0 301.7h0M67.7 305.5h0M38.7 313.1h0M40.4 311.9h0M40.0 328.0h0M36.7 312.2h0M52.8 326.1h0M34.6 295.9h0M71.1 318.1h0M47.6 313.0h0M67.7 321.2h0M28.6 307.4h0M28.3 309.5h0M27.5 309.7h0M71.1 304.7h0M69.6 304.5h0M67.3 308.6h0M42.0 296.5h0M67.9 296.6h0M37.8 318.8h0M32.4 302.5h0M42.2 323.2h0M33.7 290.1h0M51.8 318.5h0M50.8 297.1h0M40.4 295.7h0M72.2 298.5h0M79.0 295.9h0M37.0 326.8h0M66.1 302.4h0M42.8 324.0h0M75.4 316.1h0M62.7 327.3h0M61.3 328.1h0M44.7 319.9h0M50.9 289.9h0M49.3 290.0h0M51.3 278.8h0M52.7 301.2h0M51.8 301.4h0M33.6 294.3h0M34.2 293.9h0M48.4 312.6h0M44.7 324.7h0M33.4 293.9h0M62.6 331.8h0M62.1 333.3h0M57.7 312.3h0M57.6 312.2h0M63.4 290.0h0M45.9 319.1h0M55.6 306.8h0M55.5 307.4h0M36.4 290.6h0M37.8 316.1h0M73.5 323.7h0M72.9 323.2h0M54.3 281.2h0M40.1 293.5h0M37.9 295.1h0M55.4 287.6h0M75.7 302.9h0M56.9 301.4h0M57.2 300.1h0M32.0 300.4h0M33.1 298.8h0M38.3 327.9h0M46.8 326.7h0M56.5 281.9h0M36.9 292.0h0M49.5 293.9h0M44.9 283.5h0M48.6 313.1h0M37.1 325.0h0M56.0 282.6h0M37.2 291.6h0M67.3 321.4h0M43.0 302.1h0M74.2 288.6h0M73.3 288.6h0M46.7 296.9h0M48.0 319.0h0M50.1 320.9h0M56.1 303.6h0M55.5 303.6h0M32.3 310.8h0M76.0 289.5h0M52.6 311.8h0M66.9 292.8h0M68.2 294.5h0M51.3 282.8h0M43.5 320.2h0M43.3 285.8h0M45.8 308.6h0M49.1 293.2h0M71.8 324.6h0M62.5 294.2h0M33.3 322.6h0M46.1 297.2h0M70.2 285.9h0M68.8 286.4h0M67.8 285.5h0M67.5 316.9h0M61.5 304.7h0M44.3 284.3h0M77.9 291.8h0M73.2 297.8h0M48.8 289.5h0" stroke="#4a28cc" stroke-width="1.0" stroke-linecap="round" opacity="0.92"/>
<path d="M66.4 326.6h0M67.3 325.6h0M40.2 304.6h0M63.2 293.0h0M63.4 283.2h0M70.1 324.0h0M70.0 322.3h0M39.1 287.0h0M38.2 318.5h0M49.9 325.5h0M50.2 325.4h0M49.0 287.4h0M69.1 309.5h0M71.4 314.8h0M70.8 315.5h0M41.5 284.6h0M70.7 306.8h0M77.9 298.8h0M42.5 287.8h0M63.6 321.4h0M61.9 323.3h0M71.1 297.6h0M42.6 302.1h0M66.9 323.2h0M50.0 295.6h0M49.5 296.9h0M50.2 309.3h0M47.7 285.0h0M66.7 328.8h0M58.7 331.9h0M42.7 324.5h0M79.8 303.5h0M40.9 293.5h0M63.6 316.7h0M59.8 282.1h0M73.5 318.6h0M53.6 306.6h0M76.0 297.0h0M69.6 296.8h0M66.5 329.8h0M43.4 303.3h0M44.5 304.0h0M71.3 320.3h0M72.1 321.2h0M67.3 303.7h0M49.3 287.4h0M26.3 305.4h0M72.5 306.6h0M33.0 302.7h0M59.9 283.4h0M55.3 318.0h0M49.8 319.5h0M59.3 294.5h0M58.8 295.3h0M59.2 293.6h0M64.8 282.0h0M39.3 305.9h0M42.3 308.3h0M58.8 321.1h0M62.3 325.3h0M68.5 299.4h0M44.1 298.8h0M33.9 301.0h0M38.0 321.0h0M71.4 302.1h0M69.8 312.5h0M69.9 310.9h0M29.1 309.6h0M39.2 320.9h0M74.0 322.5h0M54.6 292.4h0M69.9 315.8h0M53.8 286.4h0M42.0 302.1h0M42.6 300.9h0M29.6 315.8h0M32.2 307.3h0M33.8 307.5h0M29.9 298.9h0M77.5 298.6h0M54.4 313.9h0M28.8 308.8h0M50.3 303.2h0M64.2 292.7h0M30.7 311.7h0M71.7 328.5h0M65.3 319.7h0M46.1 289.3h0M48.0 315.6h0M59.8 322.2h0M60.0 321.2h0M55.9 307.1h0M69.5 309.6h0M68.8 309.6h0M68.8 309.2h0M45.3 291.7h0M56.8 279.5h0M31.2 319.6h0M48.9 324.3h0M50.7 304.2h0M81.9 309.4h0M61.7 324.2h0M27.7 307.9h0M66.1 330.2h0M71.1 286.9h0M42.0 320.1h0M65.6 315.7h0M55.5 316.8h0M55.9 316.6h0M75.3 310.2h0M58.5 309.6h0M57.2 304.6h0M50.5 329.8h0M34.7 311.6h0M33.7 311.1h0M67.2 289.4h0M53.3 288.9h0M63.6 303.4h0M62.8 301.8h0M75.2 293.4h0M37.8 294.4h0M61.3 292.6h0M55.9 293.3h0M55.8 301.8h0M65.0 291.6h0M43.6 294.5h0M60.5 302.7h0M49.8 308.1h0M49.9 308.2h0M67.3 285.7h0M57.7 302.6h0M64.7 321.9h0M36.0 292.8h0M64.4 313.7h0M42.4 321.1h0M52.5 304.2h0M41.6 315.2h0M40.9 329.9h0M64.9 299.6h0M65.2 300.2h0M31.2 313.9h0M51.2 283.6h0M30.7 312.4h0M66.7 309.4h0M59.6 288.9h0M28.9 302.8h0M36.6 289.7h0M37.7 288.4h0M37.3 307.8h0M28.7 308.9h0M69.6 294.9h0M62.5 313.3h0M68.5 312.4h0M68.2 311.9h0M82.1 312.6h0M49.5 308.1h0M60.1 280.6h0M65.8 299.4h0M58.0 330.3h0M55.7 323.8h0M79.1 312.4h0M77.8 323.7h0M69.9 285.9h0M63.9 291.1h0M72.1 317.2h0M38.9 310.8h0M58.0 331.2h0M64.9 283.2h0M58.6 311.9h0M58.9 312.1h0M65.8 281.9h0M63.9 283.4h0M64.8 280.8h0M45.3 303.0h0M60.9 331.8h0M52.0 287.7h0M32.3 295.4h0M44.5 322.0h0M70.1 327.2h0M63.8 311.3h0M41.0 284.9h0M59.9 326.9h0M54.2 291.0h0M33.9 306.3h0M59.6 298.3h0M47.3 313.3h0M52.0 332.2h0M34.4 298.4h0M50.7 303.0h0M81.6 301.0h0M47.9 325.5h0M76.5 297.4h0M70.1 282.4h0M76.7 301.3h0M78.5 320.3h0M59.3 312.4h0M51.0 310.7h0M75.6 302.8h0M75.7 299.9h0M75.8 302.4h0M35.9 318.1h0M70.4 309.2h0M70.8 309.2h0M75.2 316.0h0M75.4 314.9h0M60.2 323.4h0M30.2 307.0h0M31.0 308.3h0M62.8 329.1h0M39.0 317.7h0M67.1 294.9h0M62.2 302.6h0M62.6 301.1h0M31.8 304.8h0M38.2 298.8h0M51.3 288.9h0M36.9 316.4h0M44.9 326.4h0M31.9 314.3h0M54.0 325.4h0M52.0 324.5h0M76.4 294.0h0M75.1 318.7h0M57.9 281.7h0M74.4 321.6h0M75.0 321.9h0M74.4 322.8h0M42.4 309.9h0M59.6 323.6h0M72.5 305.0h0M62.4 313.6h0M61.3 314.2h0M47.8 292.6h0M50.8 333.0h0M76.3 288.5h0M66.4 322.8h0M51.7 300.2h0M53.2 283.3h0M53.7 282.9h0M39.7 304.8h0M39.8 304.7h0M65.6 314.8h0M48.7 303.2h0M50.8 315.4h0M30.0 298.2h0M62.2 313.5h0M72.0 297.2h0M73.1 297.0h0M30.4 296.5h0M29.0 297.9h0M68.2 293.8h0M58.8 314.9h0M53.7 316.0h0M73.1 302.6h0M71.7 301.3h0M69.4 290.1h0M69.8 289.3h0M55.8 331.5h0M50.2 283.7h0M38.4 310.2h0M51.2 322.6h0M78.9 319.7h0M62.4 280.5h0M64.6 329.0h0M46.6 309.8h0M51.6 301.6h0M55.2 327.3h0M39.5 320.8h0M31.7 320.4h0M66.3 328.5h0M34.8 311.5h0M66.0 285.3h0M70.1 319.5h0M70.9 318.4h0M47.3 283.2h0M33.3 290.7h0M47.4 335.0h0M62.1 286.0h0M79.6 309.8h0M48.2 286.5h0M45.0 282.0h0M41.3 281.2h0M31.8 302.7h0M30.5 302.4h0M31.7 301.8h0M33.0 303.1h0M33.5 303.0h0M36.8 304.7h0M51.8 332.0h0M52.4 291.4h0M52.6 292.3h0M82.2 300.8h0M29.4 296.8h0M30.4 294.3h0M56.1 291.5h0M48.2 288.5h0M75.6 308.8h0M76.1 310.1h0M63.3 285.3h0M68.5 302.2h0M49.2 308.2h0M52.1 278.1h0M52.4 278.6h0M60.9 294.1h0M61.9 294.6h0M62.5 294.0h0M72.4 292.7h0M73.9 291.9h0M42.0 295.9h0M49.2 327.3h0M77.0 319.5h0M58.7 329.8h0M42.1 311.1h0M39.0 296.6h0M40.4 318.7h0M59.9 300.2h0M68.9 308.4h0M67.4 309.1h0M67.8 308.0h0M35.8 317.6h0M36.2 316.8h0M57.8 294.2h0M58.0 294.0h0M68.7 308.2h0M63.2 291.2h0M29.4 312.5h0M74.8 322.8h0M75.9 321.9h0M64.8 308.5h0M53.3 303.7h0M42.0 295.2h0M46.3 315.8h0M54.0 318.7h0M75.0 312.3h0M36.0 307.9h0M64.5 308.8h0M60.3 328.8h0M59.9 329.0h0M50.8 289.0h0M51.8 289.3h0M30.1 305.1h0M30.9 304.2h0M66.7 301.9h0M29.8 303.1h0M60.1 316.9h0M58.9 316.8h0M60.2 291.6h0M46.0 295.8h0M60.6 290.6h0M61.3 288.9h0M60.4 303.8h0M83.5 303.7h0M72.1 319.2h0M59.5 308.6h0M60.0 309.0h0M68.3 280.8h0M67.7 281.9h0M32.8 316.9h0M35.9 304.2h0M64.9 307.4h0M60.5 295.7h0M53.8 298.7h0M53.5 298.6h0M65.2 309.3h0M70.9 292.3h0M40.5 293.2h0M50.7 301.7h0M48.2 309.8h0M48.1 309.5h0M47.9 308.5h0M81.3 300.1h0M51.9 302.5h0M52.9 302.0h0M71.1 316.4h0M41.7 286.0h0M53.3 301.1h0M35.6 319.6h0M33.9 296.2h0M60.6 285.6h0M52.0 293.6h0M50.5 292.5h0M55.9 295.2h0M45.8 281.2h0M80.1 305.0h0M50.5 291.9h0M57.0 297.8h0M75.6 293.7h0M48.7 309.2h0M59.8 297.3h0M49.1 290.2h0M46.3 293.8h0M48.1 310.4h0M45.9 323.0h0M45.4 321.5h0M42.9 302.8h0M57.7 325.5h0M60.8 287.5h0M61.4 298.0h0M36.9 322.6h0M50.2 302.9h0M65.3 286.9h0M54.2 307.5h0M79.9 316.9h0M59.0 314.8h0M60.9 308.0h0M60.4 322.2h0M59.9 322.2h0M49.3 301.3h0M66.4 280.8h0M48.8 328.5h0M56.1 318.4h0M76.5 296.6h0M44.9 325.4h0M32.7 322.7h0M70.2 287.8h0M51.8 331.8h0M50.4 329.6h0M74.7 290.0h0M62.1 292.2h0M57.4 282.1h0M28.6 308.1h0M57.8 322.8h0M46.1 314.0h0M70.6 320.6h0M71.9 320.5h0M62.2 308.2h0M61.1 306.6h0M71.6 287.0h0M62.1 307.0h0M60.3 312.2h0M54.0 320.8h0M32.3 299.9h0M78.7 298.5h0M46.7 282.6h0M36.0 325.7h0M45.5 306.4h0M65.4 285.0h0M48.7 280.0h0M66.5 304.0h0M65.3 304.6h0M64.3 284.2h0M67.5 288.8h0M38.2 329.2h0M70.7 298.2h0M69.4 296.2h0M61.6 301.6h0M63.2 299.9h0M46.8 317.9h0M46.4 316.5h0M48.6 300.2h0M69.1 284.2h0M50.8 304.2h0M64.9 303.6h0M52.4 305.8h0M46.9 301.1h0M44.8 301.0h0M44.3 302.3h0M67.0 322.7h0M38.7 292.4h0M49.2 333.9h0M31.1 297.6h0M45.3 319.3h0M39.9 322.2h0M39.3 320.1h0M74.5 297.8h0M75.7 298.7h0M38.1 307.1h0M39.7 307.7h0M77.1 296.9h0M50.3 299.4h0M49.9 300.8h0M53.8 329.2h0M52.5 330.8h0M37.6 314.8h0M37.8 312.9h0M55.3 315.5h0M41.2 306.8h0M56.9 311.3h0M43.3 327.1h0M44.0 328.7h0M41.1 303.7h0M63.6 303.0h0M68.2 288.5h0M69.5 309.0h0M69.1 308.7h0M69.1 308.9h0M77.8 300.6h0M77.9 301.7h0M42.4 320.7h0M70.2 289.2h0M77.2 295.3h0M75.9 294.8h0M68.4 284.7h0M68.3 282.4h0M34.9 321.4h0M33.4 322.6h0M53.8 333.9h0M75.9 308.2h0M50.4 328.7h0M49.4 329.7h0M38.1 305.7h0M79.3 315.7h0M69.4 304.8h0M68.2 305.5h0M54.4 290.5h0M80.3 303.8h0M61.1 312.7h0M61.8 313.7h0M74.3 299.3h0M68.6 311.9h0M52.2 332.7h0M42.1 307.0h0M43.2 306.6h0M31.8 305.8h0M79.7 298.1h0M79.9 298.6h0M30.0 302.3h0M68.4 294.2h0M43.0 317.0h0M54.5 291.8h0M61.6 326.0h0M61.0 326.4h0M64.7 316.0h0M56.0 324.3h0M48.2 285.7h0M49.0 286.8h0M55.5 289.3h0M76.1 314.6h0M69.0 284.6h0M69.1 285.5h0M47.2 313.0h0M46.6 313.6h0M76.0 294.4h0M75.7 295.1h0M63.3 331.2h0M62.8 330.1h0M45.4 324.6h0M63.7 309.5h0M63.1 330.1h0M36.1 295.0h0M36.4 298.3h0M62.8 317.2h0M47.3 319.6h0M56.0 308.3h0M59.3 310.8h0M50.5 289.2h0M71.4 301.3h0M42.0 298.6h0M67.4 321.6h0M72.5 321.5h0M57.1 325.9h0M39.0 310.2h0M71.0 285.5h0M62.6 296.7h0M49.6 288.9h0M33.7 291.2h0M56.0 279.0h0M44.2 302.7h0M64.0 331.4h0M65.1 332.3h0M43.3 323.3h0M42.7 326.6h0M55.9 292.1h0M64.6 281.4h0M39.2 291.3h0M29.8 312.1h0M48.6 314.7h0M50.0 316.4h0M74.8 314.7h0M55.3 313.7h0M54.0 312.1h0M72.8 300.8h0M54.6 334.2h0M60.0 299.5h0M49.7 331.8h0M62.0 291.1h0M57.5 323.5h0M61.3 319.8h0M33.6 290.5h0M39.1 289.3h0M45.7 329.6h0M32.6 294.4h0M56.7 326.8h0M56.9 325.7h0M54.6 301.1h0M61.6 298.1h0M61.2 303.0h0M62.2 301.9h0M54.8 315.4h0M53.7 313.1h0M34.9 323.9h0M79.9 301.4h0M46.6 281.5h0M49.8 332.1h0M47.7 334.6h0M36.4 311.5h0M34.6 295.1h0M63.9 313.0h0M68.8 316.6h0M69.7 318.2h0M45.4 290.8h0M64.5 318.2h0M41.4 287.1h0M34.7 290.0h0M30.8 298.7h0M66.9 320.5h0M71.6 304.3h0M43.8 295.6h0M68.9 306.7h0M44.5 297.3h0M65.7 296.1h0M52.9 332.4h0M35.2 319.0h0M40.0 300.3h0M40.6 300.9h0M32.2 319.0h0M79.5 302.3h0M34.7 291.4h0M52.1 318.6h0M40.1 296.0h0M37.8 325.0h0M74.2 319.2h0M45.0 324.0h0M56.3 307.3h0M68.2 315.4h0M73.0 319.3h0M73.0 319.1h0M59.9 327.3h0M43.5 320.5h0M47.0 319.3h0M77.8 299.4h0M53.3 296.0h0M51.5 297.4h0M51.6 296.4h0M70.4 294.7h0M71.8 295.5h0M65.1 287.1h0M38.0 299.0h0M47.1 326.3h0M76.0 315.4h0M78.8 302.4h0M61.9 331.8h0M58.1 311.6h0M45.2 317.7h0M55.9 307.4h0M33.9 320.5h0M33.1 290.9h0M77.5 295.8h0M76.5 295.1h0M36.2 316.6h0M64.4 328.4h0M66.3 326.6h0M74.6 323.6h0M55.5 332.2h0M71.2 285.0h0M68.3 282.6h0M40.0 292.8h0M29.9 298.5h0M53.6 286.8h0M54.0 287.6h0M46.4 317.1h0M56.3 298.8h0M62.7 295.8h0M39.3 327.2h0M28.8 299.3h0M56.1 282.7h0M57.1 282.3h0M51.8 295.3h0M77.8 305.5h0M48.4 313.2h0M36.8 327.2h0M36.8 326.8h0M35.7 292.3h0M37.2 291.3h0M73.6 289.2h0M48.8 321.2h0M50.4 283.6h0M43.8 321.3h0M43.9 322.7h0M61.1 288.2h0M46.0 310.7h0M59.8 330.9h0M46.3 297.1h0M46.3 295.6h0M58.9 324.7h0M62.3 323.2h0M63.2 303.1h0" stroke="#4a28cc" stroke-width="1.35" stroke-linecap="round" opacity="0.92"/>
<path d="M65.6 326.3h0M77.8 306.5h0M79.3 305.8h0M71.5 301.1h0M71.5 299.0h0M43.8 284.2h0M42.1 284.5h0M38.4 304.8h0M66.9 326.3h0M64.1 292.8h0M46.2 294.1h0M57.1 322.7h0M55.2 323.8h0M69.7 322.9h0M70.6 295.2h0M53.0 289.6h0M56.7 299.9h0M71.8 300.7h0M38.3 321.5h0M50.6 326.0h0M77.6 317.6h0M77.5 316.9h0M42.2 284.8h0M44.7 283.4h0M70.7 293.6h0M65.1 321.8h0M66.2 293.9h0M38.9 315.0h0M43.3 302.6h0M43.7 302.2h0M65.6 322.4h0M66.7 321.9h0M54.3 304.8h0M45.3 284.0h0M59.8 330.4h0M60.2 330.6h0M42.4 323.7h0M76.2 304.3h0M41.5 325.0h0M48.9 307.6h0M60.0 280.1h0M35.3 305.7h0M36.6 306.8h0M59.2 285.9h0M44.0 311.4h0M45.7 311.3h0M50.6 307.2h0M69.6 286.5h0M68.5 286.5h0M57.4 316.2h0M58.2 315.9h0M71.5 321.3h0M68.3 305.1h0M55.8 301.2h0M69.0 302.9h0M67.5 302.5h0M46.1 322.4h0M53.1 321.2h0M28.0 304.1h0M39.6 306.8h0M39.3 305.3h0M72.9 307.9h0M55.1 319.4h0M82.2 297.1h0M32.1 296.9h0M32.5 297.8h0M58.5 319.4h0M61.5 325.9h0M44.5 297.4h0M43.7 298.1h0M31.0 300.9h0M32.5 301.8h0M74.7 302.9h0M72.4 302.2h0M56.5 318.0h0M56.8 319.5h0M72.2 321.7h0M71.6 322.7h0M52.9 291.8h0M52.6 292.0h0M69.6 316.2h0M70.5 316.3h0M46.6 297.1h0M48.8 309.6h0M49.1 309.6h0M51.4 302.1h0M56.7 316.4h0M57.9 318.2h0M67.0 318.4h0M35.3 291.4h0M39.1 298.5h0M47.0 289.1h0M73.3 311.9h0M60.8 320.6h0M61.8 320.7h0M61.2 295.6h0M61.2 294.8h0M49.2 314.4h0M70.7 295.4h0M55.7 281.3h0M48.8 324.1h0M47.3 323.5h0M81.9 309.8h0M63.0 323.0h0M61.9 311.6h0M33.7 286.9h0M66.1 315.0h0M63.4 312.8h0M35.8 293.9h0M51.4 329.0h0M52.3 328.4h0M47.1 333.6h0M71.9 330.2h0M38.2 296.9h0M38.9 292.7h0M57.3 293.0h0M62.1 300.2h0M60.7 300.8h0M66.4 286.9h0M65.1 322.0h0M66.5 322.8h0M78.3 299.6h0M45.5 299.2h0M40.7 328.0h0M74.4 294.2h0M58.8 303.5h0M62.1 281.3h0M42.3 329.2h0M67.6 321.2h0M29.6 313.5h0M30.7 312.0h0M50.6 283.2h0M30.8 311.7h0M57.8 288.9h0M58.2 289.7h0M30.4 310.0h0M78.0 316.8h0M71.0 318.9h0M65.2 296.9h0M43.0 322.9h0M51.1 308.3h0M54.9 297.0h0M31.2 306.4h0M29.8 306.8h0M30.0 305.4h0M38.5 303.0h0M49.4 309.3h0M47.5 280.3h0M56.0 324.4h0M78.1 311.7h0M76.9 323.8h0M81.7 305.8h0M80.4 306.7h0M35.8 324.5h0M64.7 290.7h0M44.1 304.4h0M59.8 327.1h0M62.1 295.4h0M39.4 310.2h0M58.7 311.7h0M65.3 281.7h0M76.9 301.1h0M42.3 305.6h0M40.7 304.6h0M27.3 309.0h0M27.4 308.7h0M51.1 288.6h0M42.8 307.8h0M44.0 307.6h0M43.0 288.4h0M43.3 321.4h0M63.9 282.8h0M62.8 282.1h0M68.0 327.1h0M68.4 327.5h0M64.8 309.0h0M49.7 322.9h0M50.2 322.8h0M44.4 321.0h0M58.9 326.2h0M46.2 314.7h0M53.3 334.8h0M51.9 333.7h0M41.2 296.6h0M39.9 295.3h0M33.0 297.5h0M49.9 301.9h0M50.4 290.0h0M77.2 301.9h0M28.4 303.1h0M28.4 305.0h0M81.2 318.9h0M47.3 315.8h0M41.5 309.8h0M50.4 311.5h0M57.2 304.9h0M35.5 317.3h0M76.2 311.7h0M75.0 316.0h0M59.3 324.3h0M60.8 323.5h0M28.6 314.7h0M69.9 307.3h0M61.8 300.1h0M30.4 303.6h0M28.9 310.8h0M28.3 311.3h0M63.0 319.5h0M37.2 317.3h0M45.4 327.3h0M75.9 318.9h0M74.6 319.0h0M52.9 290.9h0M45.9 294.9h0M47.4 293.4h0M82.1 299.9h0M58.6 323.7h0M71.3 304.1h0M72.1 304.1h0M62.1 312.1h0M46.3 291.1h0M53.2 308.4h0M75.5 320.9h0M76.8 321.8h0M53.8 282.4h0M46.4 314.8h0M28.6 298.5h0M29.5 297.9h0M29.8 298.3h0M38.3 324.3h0M39.0 324.6h0M47.8 312.1h0M48.2 312.9h0M57.5 315.7h0M39.1 321.4h0M81.3 300.3h0M69.5 328.8h0M50.6 283.9h0M49.6 282.6h0M38.7 305.6h0M40.5 305.5h0M45.7 298.6h0M59.8 320.7h0M59.7 320.5h0M60.7 280.5h0M60.8 280.6h0M54.7 293.3h0M38.0 307.8h0M56.2 329.8h0M55.8 332.4h0M63.5 328.6h0M46.2 308.5h0M52.5 302.0h0M34.5 319.7h0M64.7 323.6h0M38.8 321.3h0M66.6 329.6h0M66.7 328.7h0M35.4 311.1h0M29.5 300.6h0M74.1 303.2h0M72.6 304.1h0M71.6 304.2h0M34.7 303.7h0M36.8 304.5h0M71.6 303.4h0M33.5 291.3h0M47.2 332.1h0M50.4 283.4h0M42.7 282.4h0M38.3 301.9h0M33.6 303.5h0M50.2 332.6h0M68.1 292.3h0M54.8 292.2h0M59.7 280.8h0M76.6 310.3h0M63.4 284.6h0M50.0 323.7h0M65.4 295.8h0M66.0 296.0h0M66.0 295.1h0M66.3 327.6h0M53.4 279.5h0M46.4 327.0h0M64.0 332.3h0M62.0 331.5h0M73.7 290.9h0M73.2 291.4h0M73.5 291.2h0M55.0 288.0h0M59.5 298.5h0M60.7 299.5h0M78.1 302.8h0M54.1 291.9h0M68.4 307.7h0M64.6 289.9h0M54.5 335.1h0M57.1 309.3h0M76.7 321.3h0M43.4 294.9h0M61.6 301.4h0M78.4 294.2h0M48.8 328.9h0M34.7 326.3h0M27.8 303.3h0M52.5 286.8h0M34.8 314.7h0M34.4 313.6h0M83.2 307.6h0M81.4 306.8h0M62.1 289.9h0M65.0 315.2h0M65.6 312.2h0M61.0 292.1h0M56.3 305.3h0M43.5 318.3h0M59.7 304.6h0M72.9 321.8h0M60.6 286.3h0M65.1 308.9h0M60.2 296.1h0M74.2 321.7h0M71.0 292.0h0M49.9 302.8h0M52.2 302.8h0M59.8 279.6h0M60.3 279.2h0M61.3 281.2h0M34.2 296.0h0M33.3 296.3h0M61.2 284.3h0M40.2 286.2h0M56.6 294.8h0M55.8 294.3h0M68.2 312.2h0M70.4 286.4h0M49.7 325.9h0M65.6 288.6h0M69.7 325.9h0M57.0 296.2h0M38.6 292.8h0M75.5 294.3h0M76.5 293.8h0M37.9 314.0h0M38.0 312.2h0M37.4 312.8h0M31.7 297.7h0M49.8 290.2h0M49.6 309.3h0M57.8 326.7h0M43.8 298.7h0M37.5 321.8h0M50.5 304.7h0M65.2 330.4h0M53.2 280.4h0M53.3 279.0h0M38.8 325.9h0M39.3 326.2h0M46.9 302.0h0M45.6 302.9h0M53.8 308.4h0M72.1 289.8h0M60.7 314.0h0M45.2 311.5h0M43.3 311.8h0M37.5 310.0h0M44.3 305.9h0M43.7 307.1h0M74.4 308.9h0M74.9 309.5h0M74.3 310.0h0M52.6 329.9h0M49.3 326.9h0M56.3 319.7h0M30.8 292.4h0M31.9 293.3h0M31.1 291.5h0M49.0 305.6h0M64.4 299.6h0M68.7 294.0h0M33.2 320.5h0M70.5 288.4h0M55.4 298.7h0M47.1 324.5h0M36.9 303.4h0M66.5 317.8h0M38.8 309.4h0M61.5 302.7h0M74.2 313.7h0M47.8 315.3h0M45.3 314.2h0M48.3 317.0h0M50.0 322.8h0M49.4 323.5h0M53.4 330.9h0M53.0 331.3h0M75.5 295.2h0M57.9 290.4h0M41.5 310.1h0M59.8 312.2h0M38.0 310.5h0M54.6 320.9h0M71.8 291.8h0M59.2 296.0h0M64.4 284.5h0M69.4 299.8h0M46.5 280.5h0M66.1 287.0h0M31.1 292.2h0M77.8 294.8h0M38.4 328.7h0M79.8 307.3h0M80.1 306.8h0M71.1 299.1h0M63.6 302.2h0M63.9 300.7h0M75.5 298.3h0M40.0 312.1h0M39.9 313.0h0M46.0 302.2h0M50.1 321.7h0M64.9 303.4h0M68.4 322.4h0M39.5 290.2h0M42.2 313.5h0M43.8 311.7h0M38.1 295.6h0M36.0 294.8h0M43.6 320.3h0M44.1 319.9h0M58.4 332.5h0M37.8 311.8h0M38.6 311.2h0M39.3 320.6h0M56.2 324.9h0M56.5 324.3h0M45.5 315.0h0M57.4 314.8h0M51.3 293.1h0M49.8 292.7h0M48.2 290.7h0M65.0 320.2h0M65.6 321.6h0M76.2 309.9h0M76.6 311.1h0M41.0 303.1h0M41.6 317.5h0M66.6 288.7h0M43.5 292.4h0M75.8 311.6h0M75.4 293.7h0M62.3 330.7h0M60.8 332.9h0M71.0 289.6h0M69.7 289.4h0M35.8 309.2h0M49.5 327.2h0M48.8 325.6h0M37.9 306.2h0M79.9 315.2h0M67.8 305.6h0M68.7 310.1h0M64.9 313.6h0M55.4 290.1h0M48.9 332.4h0M68.0 313.4h0M66.8 304.7h0M51.8 293.5h0M60.9 312.3h0M73.4 298.8h0M56.1 292.4h0M74.0 327.3h0M27.8 311.6h0M31.4 306.7h0M80.6 297.5h0M29.2 309.6h0M55.0 291.9h0M55.4 289.9h0M65.0 317.5h0M62.9 280.9h0M38.3 323.3h0M38.9 323.0h0M54.7 287.9h0M54.5 289.9h0M75.3 316.0h0M76.4 313.9h0M46.1 299.9h0M69.9 284.1h0M46.2 308.8h0M25.2 312.7h0M76.5 318.6h0M59.9 290.5h0M59.5 291.3h0M66.9 297.8h0M53.3 320.8h0M62.6 301.5h0M63.3 300.9h0M63.0 302.5h0M46.8 323.5h0M50.6 294.7h0M81.4 316.2h0M73.2 301.5h0M29.6 296.4h0M30.6 295.9h0M41.7 291.0h0M42.8 289.7h0M40.9 298.3h0M42.3 299.4h0M69.1 320.4h0M71.2 322.6h0M40.1 309.4h0M40.6 312.9h0M61.0 299.2h0M59.4 334.1h0M32.3 291.0h0M43.2 323.8h0M39.6 291.7h0M73.5 311.1h0M74.5 311.5h0M32.0 312.9h0M66.9 327.8h0M66.8 326.5h0M49.2 318.3h0M43.5 322.7h0M72.1 301.4h0M75.3 292.8h0M71.6 326.9h0M73.1 326.5h0M53.7 318.9h0M54.5 320.2h0M53.9 333.0h0M52.5 322.1h0M52.6 321.9h0M61.2 331.8h0M61.4 300.0h0M62.1 291.0h0M37.4 314.6h0M36.5 313.9h0M57.1 325.3h0M34.3 290.5h0M60.6 318.0h0M57.3 302.6h0M30.9 312.7h0M31.6 312.9h0M38.3 297.5h0M61.9 287.6h0M42.5 321.8h0M43.3 321.4h0M47.3 286.0h0M51.7 328.5h0M57.9 323.9h0M46.8 294.4h0M52.7 322.9h0M61.8 302.8h0M58.0 305.1h0M79.3 301.3h0M45.8 283.4h0M49.5 334.1h0M37.3 328.1h0M37.5 310.5h0M52.8 325.8h0M52.8 328.0h0M34.3 295.2h0M64.3 311.5h0M64.2 313.9h0M64.4 318.7h0M33.7 290.7h0M31.7 298.8h0M68.5 320.3h0M69.2 308.1h0M73.9 298.6h0M74.2 298.8h0M36.3 319.8h0M32.1 320.3h0M43.4 325.3h0M43.3 325.2h0M52.0 319.0h0M41.9 296.1h0M73.2 296.7h0M73.2 298.2h0M78.1 295.5h0M78.7 294.9h0M43.9 324.2h0M73.5 319.3h0M44.4 321.0h0M47.6 321.3h0M77.8 297.8h0M36.4 308.7h0M66.4 287.8h0M66.0 287.6h0M38.3 298.2h0M49.9 289.7h0M64.3 312.9h0M63.3 310.0h0M34.0 294.2h0M48.6 311.7h0M48.5 313.0h0M43.6 323.4h0M78.6 303.4h0M78.0 303.3h0M34.4 293.5h0M35.0 293.9h0M81.2 307.8h0M34.7 321.2h0M34.1 291.5h0M68.5 284.1h0M67.2 285.3h0M28.6 301.3h0M28.5 300.2h0M80.0 315.8h0M74.9 302.9h0M76.9 302.4h0M63.1 289.0h0M62.6 288.2h0M47.1 316.3h0M62.1 297.2h0M31.7 299.9h0M39.8 327.9h0M28.4 299.9h0M47.2 328.3h0M47.4 328.2h0M35.3 291.8h0M52.6 293.8h0M56.4 281.3h0M53.8 334.3h0M52.7 335.0h0M42.4 300.6h0M43.6 301.8h0M33.9 314.6h0M31.8 315.5h0M33.4 316.5h0M67.0 293.0h0M50.2 283.8h0M60.9 287.3h0M61.6 286.9h0M66.7 297.6h0M78.7 294.3h0M72.4 324.0h0M71.8 324.8h0M33.4 323.2h0M58.9 331.9h0M59.2 330.9h0M60.8 323.8h0M67.4 315.8h0M44.0 283.4h0M78.0 291.0h0M71.4 298.1h0M53.8 324.1h0M61.0 291.4h0M61.1 290.3h0" stroke="#4a28cc" stroke-width="1.75" stroke-linecap="round" opacity="0.92"/>
</g></g>
<rect x="91" y="271" width="68" height="69.4" fill="#eeeeec" stroke="none" stroke-width="1"/>
<circle cx="125.4" cy="306" r="33" fill="#bfb8e6" stroke="#7868d4" stroke-width="1.2"/>
<circle cx="125.4" cy="306" r="30.6" fill="#cbc6ea" stroke="none" stroke-width="1"/>
<circle cx="125.4" cy="306" r="28.1" fill="#ccc8e0" stroke="#6a58d0" stroke-width="1.3"/>
<g clip-path="url(#cpD2)"><g filter="url(#dblur)">
<path d="M104.0 301.7h0M132.2 301.8h0M126.6 284.7h0M111.2 300.8h0M109.1 299.8h0M106.4 315.3h0M106.6 314.1h0M108.1 313.3h0M140.7 289.6h0M142.8 316.2h0M131.4 321.0h0M125.6 324.8h0M122.2 324.6h0M125.5 323.7h0M139.2 304.6h0M111.4 293.2h0M111.7 293.6h0M146.8 295.5h0M148.7 317.6h0M111.2 284.0h0M111.9 284.8h0M129.5 313.0h0M116.4 317.8h0M117.3 318.0h0M143.7 309.6h0M136.3 296.3h0M136.4 301.3h0M136.7 302.6h0M132.0 314.6h0M129.0 318.2h0M140.3 314.8h0M138.7 304.9h0M131.0 294.8h0M143.6 311.1h0M124.6 308.7h0M120.8 323.8h0M121.9 322.9h0M140.2 322.8h0M143.4 319.8h0M137.3 316.8h0M118.8 322.3h0M118.6 323.8h0M111.3 296.5h0M131.5 300.5h0M114.9 327.3h0M105.6 309.0h0M104.4 305.3h0M127.0 282.2h0M128.5 282.0h0M140.7 314.4h0M143.5 300.0h0M132.8 310.8h0M132.6 310.8h0M142.7 306.9h0M123.6 321.2h0M150.1 312.3h0M126.1 324.1h0M129.7 330.0h0M134.2 308.6h0M130.4 310.0h0M132.5 283.2h0M103.7 304.4h0M135.4 299.1h0M104.6 319.9h0M105.6 304.1h0M138.0 319.9h0M138.2 318.9h0M121.2 284.3h0M101.3 306.5h0M125.4 300.5h0M138.8 311.1h0M133.0 328.5h0M135.9 320.2h0M127.9 330.8h0M141.6 287.0h0M140.0 284.3h0M139.7 326.0h0M114.9 286.7h0M114.5 288.0h0M124.0 325.3h0M136.0 316.1h0M116.8 302.2h0M140.5 304.2h0M141.5 304.2h0M139.3 305.1h0M139.5 309.4h0M148.5 296.5h0M128.9 321.1h0M104.4 299.1h0M139.6 311.4h0M105.0 295.5h0M105.5 295.4h0M110.9 282.8h0M135.2 321.3h0M136.2 321.7h0M140.1 315.6h0M140.1 312.6h0M134.4 318.8h0M107.2 325.0h0M110.5 319.6h0M140.2 289.2h0M146.0 289.4h0M101.7 300.7h0M115.3 314.1h0M121.9 328.1h0M114.2 282.6h0M133.0 289.3h0M132.4 288.0h0M113.0 285.7h0M137.4 306.1h0M108.0 297.6h0M128.3 277.9h0M127.7 278.7h0M99.8 305.6h0M146.8 310.8h0M143.9 310.7h0M105.7 315.3h0M111.9 315.8h0M151.9 312.5h0M131.3 296.6h0M137.8 313.4h0M139.6 322.7h0M132.4 303.6h0M102.4 309.0h0M127.8 330.2h0M128.2 332.5h0M140.9 305.0h0M145.5 295.8h0M138.4 306.1h0M114.9 305.0h0M136.9 324.1h0M132.0 305.1h0M149.3 310.8h0M106.3 324.0h0M114.1 305.5h0M131.8 288.9h0M106.4 309.0h0M109.3 286.4h0M130.1 327.3h0M135.3 310.8h0M136.4 309.7h0M144.7 299.5h0M117.3 315.4h0M135.0 314.6h0M133.9 315.9h0M124.6 316.9h0M135.3 329.7h0M143.4 290.8h0M123.4 317.9h0M122.8 286.2h0M138.0 325.7h0M138.8 324.4h0M145.5 291.4h0M134.4 303.0h0M133.2 304.3h0M117.4 289.7h0M100.7 308.7h0M147.9 315.3h0M114.9 300.3h0M144.4 319.1h0M138.6 309.9h0M145.3 307.1h0M120.0 327.6h0M113.0 285.9h0M112.5 285.7h0M109.1 296.8h0M142.5 295.0h0M128.4 292.6h0M126.9 292.8h0M109.9 289.4h0M110.4 290.8h0M122.9 316.6h0M145.2 310.1h0M121.3 320.0h0M150.5 306.6h0M132.3 319.6h0M101.7 320.2h0M122.2 286.6h0M120.1 287.1h0M123.7 293.9h0M102.3 293.3h0M149.5 305.6h0M140.9 286.1h0M141.6 284.9h0M112.4 284.1h0M115.8 327.6h0M115.1 328.0h0M114.5 328.7h0M137.8 290.7h0M138.3 290.6h0M133.0 283.2h0M107.8 300.4h0M106.5 299.3h0M106.5 287.5h0M112.3 313.6h0M115.3 289.1h0M116.4 288.0h0M134.0 330.1h0M128.1 306.6h0M130.5 326.2h0M125.6 284.4h0M141.0 316.7h0M110.1 314.1h0M120.9 315.8h0M109.4 308.7h0M118.3 292.4h0M118.5 286.2h0M119.8 285.9h0M145.9 310.0h0M116.7 281.2h0M136.7 284.6h0M123.7 332.8h0M139.5 312.9h0M106.8 304.8h0M124.6 289.2h0M134.8 284.6h0M135.4 283.5h0M121.2 295.7h0M122.5 297.0h0M151.3 305.9h0M106.5 295.7h0M107.4 295.0h0M112.6 329.2h0M113.2 328.5h0M143.7 299.1h0M143.8 299.1h0M120.5 316.9h0M135.9 316.2h0M135.2 307.2h0M98.8 303.7h0M142.4 313.4h0M116.2 309.9h0M134.2 316.9h0M134.9 314.8h0M140.7 294.7h0M139.4 295.4h0M119.2 286.1h0M109.3 295.3h0M105.7 326.5h0M139.3 302.8h0M141.3 295.8h0M119.7 324.6h0M104.1 311.0h0M118.6 299.5h0M115.9 292.7h0M115.2 293.5h0M115.3 313.6h0M146.4 310.2h0M139.7 285.4h0M129.9 330.2h0M116.9 332.9h0M141.8 315.1h0M141.5 314.5h0M121.0 298.7h0" stroke="#4a28cc" stroke-width="1.0" stroke-linecap="round" opacity="0.92"/>
<path d="M128.3 305.9h0M119.6 328.7h0M130.6 323.3h0M103.1 312.5h0M101.0 314.0h0M115.1 317.7h0M130.9 280.0h0M130.5 280.7h0M141.2 289.5h0M141.2 316.7h0M129.3 321.4h0M126.9 308.3h0M146.1 295.3h0M144.9 294.9h0M133.3 321.9h0M112.0 285.3h0M118.7 286.1h0M131.3 313.3h0M116.9 317.8h0M144.5 308.3h0M135.8 307.3h0M125.1 281.6h0M148.9 297.6h0M144.5 310.8h0M126.7 308.4h0M141.3 322.9h0M123.7 306.1h0M124.2 305.1h0M138.6 316.6h0M119.5 322.5h0M111.9 326.6h0M111.6 296.4h0M133.4 300.1h0M107.4 308.2h0M110.2 323.5h0M127.1 315.7h0M133.7 310.6h0M149.4 303.9h0M125.3 324.9h0M114.1 313.6h0M131.0 330.3h0M118.0 322.1h0M145.1 288.4h0M147.1 308.2h0M129.9 311.3h0M133.9 299.5h0M136.6 319.4h0M108.5 312.6h0M121.4 284.6h0M101.0 306.1h0M102.8 306.6h0M121.1 320.5h0M116.9 288.7h0M127.0 327.8h0M123.9 301.5h0M143.3 311.9h0M142.9 312.6h0M143.7 312.6h0M101.3 308.5h0M124.7 290.6h0M123.6 291.5h0M120.4 281.9h0M120.1 283.7h0M118.0 283.1h0M126.6 327.1h0M134.8 321.1h0M128.2 330.8h0M141.4 286.4h0M110.0 327.1h0M124.6 307.3h0M140.2 327.9h0M114.4 288.6h0M123.0 325.0h0M110.5 286.5h0M112.5 285.7h0M111.6 287.8h0M110.7 310.9h0M120.3 327.2h0M141.0 310.6h0M106.2 299.3h0M104.6 295.8h0M135.3 322.7h0M130.2 293.3h0M125.2 306.9h0M142.2 291.4h0M100.4 300.7h0M115.0 283.5h0M114.8 281.5h0M138.5 302.7h0M124.0 298.3h0M133.1 289.1h0M114.1 285.0h0M137.9 305.4h0M108.8 322.3h0M111.7 302.4h0M111.8 302.7h0M118.2 310.1h0M118.4 308.0h0M140.1 291.9h0M152.4 313.0h0M150.7 313.3h0M138.4 310.4h0M137.3 324.1h0M133.9 302.8h0M101.6 309.6h0M139.3 306.2h0M140.0 305.6h0M145.2 295.9h0M140.3 329.4h0M138.7 305.1h0M115.5 304.1h0M137.0 327.8h0M131.1 304.5h0M122.9 282.4h0M114.5 302.8h0M108.0 286.4h0M136.2 308.5h0M132.6 325.9h0M144.6 300.6h0M145.6 301.5h0M117.8 315.0h0M132.7 314.8h0M124.7 317.0h0M140.2 300.3h0M133.8 328.2h0M146.2 291.3h0M123.1 320.1h0M139.3 324.8h0M115.8 290.0h0M115.8 290.6h0M101.8 309.4h0M127.5 300.4h0M128.0 285.8h0M128.4 286.5h0M138.6 324.2h0M132.3 307.3h0M132.2 309.6h0M146.9 311.3h0M141.5 320.5h0M102.9 300.2h0M109.6 317.8h0M120.8 326.9h0M108.8 298.6h0M127.4 315.1h0M118.8 287.6h0M122.7 316.8h0M119.6 309.4h0M111.1 319.9h0M111.0 320.1h0M109.6 297.9h0M147.1 297.9h0M147.1 299.0h0M149.1 318.4h0M119.8 303.6h0M132.8 319.6h0M131.7 318.0h0M130.9 321.3h0M117.0 320.0h0M112.0 293.3h0M111.0 296.3h0M112.0 294.0h0M146.3 300.9h0M146.0 302.4h0M126.9 312.7h0M114.3 292.3h0M112.3 294.6h0M124.0 294.1h0M146.0 299.7h0M111.4 283.4h0M148.1 305.3h0M136.0 321.4h0M137.2 323.4h0M125.3 303.7h0M126.6 304.9h0M126.0 304.9h0M102.0 315.5h0M106.9 299.5h0M107.7 299.9h0M139.1 301.2h0M131.3 302.2h0M104.7 294.8h0M107.8 288.3h0M113.0 307.9h0M108.5 297.4h0M130.4 326.0h0M127.9 321.6h0M128.3 320.8h0M125.5 310.6h0M132.4 301.5h0M133.2 301.0h0M122.1 321.1h0M109.9 307.0h0M118.1 293.3h0M117.5 293.4h0M120.0 303.6h0M122.8 332.4h0M124.7 333.3h0M125.0 300.6h0M125.3 300.7h0M140.2 312.2h0M111.6 329.1h0M121.7 287.9h0M135.4 282.6h0M135.1 304.3h0M122.6 296.8h0M150.7 306.7h0M149.5 307.0h0M103.5 303.0h0M107.4 295.3h0M134.4 310.0h0M117.3 302.3h0M134.2 295.6h0M113.2 292.4h0M114.4 292.4h0M99.4 303.7h0M133.2 315.7h0M142.9 291.1h0M112.1 290.7h0M108.6 325.8h0M129.5 303.9h0M135.7 301.1h0M136.3 303.3h0M134.9 302.3h0M131.3 287.5h0M104.3 311.3h0M118.1 302.0h0M133.3 315.1h0M133.8 313.1h0M116.5 310.8h0M138.9 286.2h0M140.6 286.5h0M140.5 286.6h0M116.8 332.4h0M113.3 300.9h0M141.7 315.4h0" stroke="#4a28cc" stroke-width="1.35" stroke-linecap="round" opacity="0.92"/>
<path d="M102.1 301.6h0M127.4 284.0h0M124.8 283.1h0M129.2 318.8h0M120.5 328.1h0M119.3 328.7h0M137.2 320.0h0M104.3 313.3h0M100.8 312.9h0M130.0 321.0h0M144.1 315.2h0M141.9 306.3h0M143.9 307.5h0M144.9 307.3h0M129.9 321.0h0M107.1 299.1h0M149.0 306.5h0M141.6 304.0h0M112.1 292.3h0M101.6 309.8h0M117.6 286.5h0M112.8 311.9h0M136.1 301.9h0M123.1 283.4h0M128.8 320.3h0M129.9 302.3h0M130.6 302.9h0M139.9 304.5h0M142.2 311.0h0M118.0 307.1h0M139.8 322.9h0M127.0 332.6h0M113.4 327.6h0M132.6 300.5h0M121.2 316.2h0M106.3 309.4h0M127.7 281.3h0M144.2 313.7h0M144.4 301.1h0M109.2 304.5h0M142.5 306.0h0M142.1 305.2h0M125.5 279.5h0M147.3 317.1h0M124.7 321.1h0M150.3 313.5h0M131.5 317.5h0M137.9 285.8h0M125.0 323.5h0M114.0 314.6h0M131.7 330.6h0M119.4 320.7h0M144.7 288.1h0M134.5 308.3h0M104.2 304.9h0M103.2 320.2h0M108.9 309.6h0M125.5 300.2h0M100.5 306.3h0M103.2 306.9h0M138.3 310.8h0M126.7 331.3h0M109.1 327.8h0M110.4 326.1h0M138.6 285.6h0M125.1 306.1h0M139.1 328.2h0M123.7 325.6h0M135.6 315.3h0M113.0 313.3h0M122.1 327.5h0M121.4 327.9h0M149.7 296.6h0M128.6 319.9h0M128.5 320.4h0M140.1 283.6h0M145.0 316.0h0M119.0 281.4h0M110.2 284.3h0M110.4 284.0h0M136.4 320.4h0M134.8 320.7h0M138.4 321.9h0M127.1 290.1h0M131.4 292.4h0M134.8 318.0h0M106.0 326.0h0M127.4 306.3h0M144.2 288.3h0M145.2 289.4h0M122.0 300.9h0M113.9 287.0h0M139.3 306.5h0M108.1 297.9h0M109.0 298.0h0M111.8 324.2h0M110.3 321.3h0M127.4 279.5h0M111.1 302.3h0M117.8 309.7h0M147.2 311.5h0M104.3 314.3h0M112.4 317.6h0M111.4 316.8h0M142.4 292.4h0M130.7 297.9h0M139.2 311.2h0M133.9 302.4h0M102.6 309.4h0M120.9 324.3h0M116.8 331.0h0M144.3 296.3h0M111.7 309.7h0M140.1 329.7h0M138.9 329.4h0M138.5 305.9h0M113.1 302.9h0M118.0 285.4h0M137.9 323.1h0M138.4 322.5h0M114.6 300.1h0M115.3 303.1h0M123.9 282.6h0M122.3 281.7h0M107.2 324.5h0M106.3 324.5h0M115.1 304.7h0M131.3 287.8h0M130.2 327.7h0M130.8 326.4h0M107.7 298.4h0M105.5 300.2h0M143.3 291.4h0M134.9 302.7h0M99.8 310.8h0M128.0 300.4h0M122.3 293.9h0M120.9 291.6h0M116.6 300.1h0M131.8 307.7h0M147.9 312.0h0M142.3 320.4h0M116.0 310.1h0M102.9 302.2h0M113.4 308.3h0M111.2 297.4h0M111.1 298.0h0M110.0 296.4h0M142.9 294.8h0M118.2 286.4h0M119.3 286.9h0M128.3 292.2h0M110.0 289.0h0M130.0 314.1h0M144.6 296.9h0M145.4 308.9h0M145.2 310.1h0M107.9 300.0h0M120.6 320.6h0M132.5 318.4h0M148.9 318.3h0M118.9 304.9h0M101.4 314.1h0M141.5 324.6h0M135.2 309.8h0M134.2 308.9h0M124.2 315.0h0M107.7 316.6h0M108.0 317.4h0M131.1 321.6h0M117.7 320.4h0M117.0 294.2h0M133.0 289.9h0M147.3 302.4h0M126.3 311.6h0M135.9 281.8h0M136.9 282.3h0M110.7 321.8h0M151.9 305.1h0M132.9 324.0h0M147.5 304.8h0M146.7 305.3h0M141.4 284.3h0M146.7 302.8h0M145.1 301.9h0M113.0 282.8h0M148.9 304.3h0M150.6 305.2h0M139.6 290.0h0M99.6 316.1h0M100.8 315.9h0M132.8 282.7h0M132.0 282.7h0M108.3 302.1h0M107.1 298.9h0M104.9 298.0h0M110.8 311.8h0M110.8 308.5h0M111.4 307.5h0M109.1 296.4h0M108.2 298.2h0M145.1 305.0h0M131.8 327.4h0M128.0 322.2h0M126.7 310.9h0M131.1 300.3h0M125.6 286.3h0M140.9 316.7h0M140.8 317.4h0M147.0 292.2h0M146.9 288.9h0M122.1 315.6h0M139.6 287.0h0M138.9 287.8h0M137.5 306.4h0M125.4 300.2h0M109.8 304.8h0M113.0 328.5h0M150.1 316.1h0M125.5 305.2h0M104.3 311.7h0M136.1 305.2h0M149.3 313.1h0M123.4 284.8h0M97.9 305.9h0M105.6 315.4h0M102.2 321.3h0M101.0 321.2h0M102.5 302.0h0M103.3 301.9h0M131.6 294.4h0M129.9 295.8h0M117.5 287.9h0M117.3 288.4h0M98.4 314.9h0M99.5 313.6h0M118.0 302.2h0M117.6 303.9h0M129.9 298.4h0M129.7 299.0h0M143.2 300.2h0M119.1 316.1h0M136.3 317.0h0M97.8 303.6h0M136.2 294.2h0M116.8 309.5h0M117.7 286.9h0M117.5 286.6h0M143.4 291.9h0M142.1 291.6h0M126.6 321.4h0M127.1 321.0h0M113.1 290.8h0M119.2 314.4h0M119.6 309.1h0M111.7 306.7h0M109.6 308.4h0M116.6 282.5h0M141.6 293.3h0M142.2 296.3h0M131.1 288.3h0M122.5 296.2h0M112.5 291.1h0M116.4 293.1h0M117.3 300.5h0M132.7 315.5h0M129.5 330.1h0M140.5 287.0h0M120.0 300.3h0" stroke="#4a28cc" stroke-width="1.75" stroke-linecap="round" opacity="0.92"/>
</g></g>
<rect x="163.3" y="271" width="70.1" height="69.4" fill="#eeeeec" stroke="none" stroke-width="1"/>
<circle cx="198.3" cy="305.4" r="34.5" fill="#bfb8e6" stroke="#7868d4" stroke-width="1.2"/>
<circle cx="198.3" cy="305.4" r="32.1" fill="#cbc6ea" stroke="none" stroke-width="1"/>
<circle cx="198.3" cy="305.4" r="29.2" fill="#c6c2e0" stroke="#6a58d0" stroke-width="1.3"/>
<g clip-path="url(#cpD3)"><g filter="url(#dblur)">
<path d="M186.6 326.1h0M224.8 308.6h0M216.7 298.4h0M222.5 319.7h0M188.3 325.0h0M188.3 325.3h0M208.4 289.7h0M195.0 328.5h0M194.9 327.7h0M204.5 317.4h0M215.3 309.5h0M201.3 330.1h0M172.1 296.9h0M173.0 297.5h0M188.7 329.3h0M180.4 321.7h0M203.8 290.9h0M211.1 290.7h0M186.1 303.6h0M187.8 302.5h0M188.0 304.4h0M193.4 292.6h0M199.7 282.4h0M200.5 282.2h0M201.8 278.8h0M216.5 320.9h0M215.3 322.0h0M217.5 320.3h0M185.6 306.9h0M197.0 289.3h0M185.9 299.7h0M197.7 284.0h0M196.5 284.9h0M214.1 294.0h0M213.7 306.1h0M193.2 311.6h0M180.9 288.2h0M180.5 287.5h0M224.2 312.0h0M194.6 284.5h0M174.5 298.3h0M198.1 315.4h0M184.7 325.8h0M186.7 325.4h0M187.2 312.3h0M180.8 311.5h0M180.6 313.0h0M224.5 309.5h0M224.3 308.5h0M222.4 294.8h0M220.5 295.9h0M211.4 320.0h0M185.3 301.1h0M216.4 314.6h0M216.6 314.5h0M206.2 281.2h0M180.3 303.6h0M208.6 327.4h0M221.8 301.0h0M173.4 294.7h0M223.6 303.3h0M202.0 300.7h0M203.3 299.7h0M197.5 308.5h0M196.2 311.7h0M195.9 312.4h0M215.3 298.0h0M188.8 298.7h0M172.8 302.7h0M173.5 301.9h0M181.7 293.4h0M201.0 301.1h0M216.4 285.6h0M206.1 329.3h0M211.9 311.1h0M213.5 310.8h0M197.4 311.8h0M188.0 306.2h0M178.7 318.8h0M172.4 300.3h0M196.1 281.6h0M194.8 282.0h0M209.2 324.5h0M181.4 318.6h0M189.6 313.5h0M202.3 287.2h0M187.5 326.8h0M226.5 308.7h0M183.1 312.9h0M211.6 302.9h0M206.8 296.6h0M206.1 296.0h0M183.4 288.5h0M185.3 308.1h0M184.7 302.4h0M186.6 304.6h0M183.5 307.8h0M196.5 286.7h0M179.6 326.0h0M180.8 327.5h0M176.2 299.5h0M211.5 287.2h0M210.5 286.5h0M207.2 282.7h0M201.0 280.3h0M198.0 278.4h0M222.9 294.6h0M224.4 307.9h0M178.8 318.7h0M224.9 307.8h0M170.8 310.1h0M170.5 310.3h0M205.7 292.1h0M205.2 295.4h0M194.4 299.1h0M193.6 298.6h0M193.9 299.9h0M205.2 312.7h0M188.1 319.4h0M203.8 280.8h0M184.6 323.3h0M210.7 314.3h0M211.7 314.1h0M172.7 296.8h0M173.6 296.4h0M171.8 296.6h0M189.1 329.3h0M186.9 324.0h0M186.6 323.6h0M197.2 307.5h0M197.2 307.5h0M183.7 290.5h0M209.2 323.9h0M181.9 312.6h0M196.9 312.3h0M224.5 298.2h0M180.4 316.3h0M178.3 294.8h0M182.2 288.7h0M194.9 334.6h0M185.2 320.7h0M188.4 287.5h0M173.6 295.4h0M199.5 301.7h0M180.1 296.9h0M181.7 324.5h0M182.7 327.2h0M201.1 325.7h0M182.8 284.7h0M181.9 284.1h0M201.8 310.7h0M201.7 310.4h0M202.2 291.1h0M186.6 321.3h0M179.5 305.2h0M200.8 326.2h0M201.1 323.7h0M173.1 311.0h0M171.1 308.8h0M190.7 280.6h0M200.6 292.8h0M199.2 291.0h0M211.9 308.0h0M177.5 321.5h0M211.2 312.2h0M188.2 280.2h0M175.0 313.3h0M226.2 309.6h0M216.1 319.0h0M180.8 286.0h0M201.1 328.4h0M198.4 289.6h0M209.0 308.9h0M183.6 309.7h0M203.5 320.3h0M221.7 297.6h0M188.1 281.4h0M183.5 297.2h0M185.5 296.5h0M202.9 294.8h0M186.9 288.9h0M217.6 300.1h0M211.2 291.7h0M184.5 286.2h0M214.5 327.7h0M184.6 320.4h0M199.8 286.1h0M207.5 325.7h0M206.6 326.8h0M194.3 317.5h0M196.9 286.0h0M196.1 278.5h0M214.8 295.9h0M217.6 293.8h0M185.0 293.8h0M207.4 308.5h0M204.7 326.0h0M196.2 295.9h0M206.2 318.9h0M201.3 300.3h0M197.2 330.3h0M222.5 311.3h0M224.9 310.5h0M199.9 288.0h0M180.1 321.1h0M208.5 308.4h0M192.1 306.8h0M192.3 306.8h0M195.2 279.6h0M193.7 310.3h0M213.9 327.9h0M214.0 286.7h0M213.7 319.5h0M193.3 321.6h0M184.3 282.4h0M206.6 291.2h0M206.8 293.6h0M182.6 303.4h0M194.3 312.3h0M194.3 279.9h0M203.4 308.5h0M195.6 300.7h0M203.4 282.0h0M202.6 283.5h0M181.9 302.1h0M206.3 323.5h0M179.5 322.7h0M203.1 301.2h0M209.7 278.7h0M208.7 284.4h0M207.0 282.9h0M220.2 315.1h0M226.7 310.8h0M226.4 310.7h0M218.7 314.9h0M212.0 319.4h0M213.0 317.7h0M206.7 331.4h0M207.8 287.0h0M179.3 324.3h0M198.2 308.9h0M220.6 293.5h0M222.0 294.3h0M199.1 308.9h0M197.6 308.3h0M197.8 308.8h0M206.4 293.8h0M208.5 324.8h0M209.4 327.0h0M194.8 328.0h0M196.1 329.1h0M193.2 313.3h0M195.6 283.3h0M183.6 298.7h0M190.5 331.7h0M184.6 318.6h0M199.7 303.6h0M197.5 326.6h0M189.5 314.3h0M224.4 309.4h0M192.9 312.9h0M212.3 320.4h0M211.1 317.7h0M211.3 318.1h0M205.7 290.9h0M181.6 281.8h0M185.7 283.6h0M186.0 285.1h0M191.7 321.4h0M203.8 330.8h0M190.0 313.8h0M200.4 278.8h0M205.9 285.7h0M182.2 291.2h0M172.4 296.5h0M189.4 280.4h0M212.6 306.3h0M171.7 295.5h0M218.0 309.3h0M186.3 308.8h0M186.4 309.6h0M190.1 312.1h0M189.2 312.4h0M218.1 303.6h0M171.2 303.3h0M199.0 295.9h0M199.6 296.6h0M188.4 306.1h0M188.6 305.8h0M196.1 296.9h0M196.2 311.2h0M215.1 282.5h0M205.1 327.5h0M210.0 280.4h0M216.3 300.5h0M215.6 295.0h0M215.2 294.1h0M195.3 317.3h0M195.3 315.0h0M201.6 317.3h0M179.3 295.4h0M179.0 295.9h0M213.1 284.4h0M176.5 289.8h0M177.7 289.4h0M209.3 284.3h0M208.4 301.7h0M217.3 308.2h0M204.2 301.0h0M204.7 301.9h0M198.1 306.7h0M210.9 329.1h0M191.8 290.0h0M195.9 328.2h0M216.1 309.7h0M217.0 308.3h0M185.8 280.2h0M183.3 323.6h0M207.6 301.9h0M206.8 302.4h0M183.9 288.0h0M208.5 291.0h0M180.1 311.0h0M179.7 312.4h0M170.4 306.7h0M207.3 318.3h0M181.4 291.0h0M181.4 292.5h0M184.8 285.5h0M185.0 284.2h0M184.6 286.3h0M191.6 279.1h0M186.2 307.2h0M190.8 310.7h0M175.6 316.1h0M210.5 317.5h0M209.0 283.5h0M208.4 282.0h0M198.3 310.0h0M222.2 292.0h0M221.9 290.4h0M184.4 284.8h0M209.4 300.6h0M217.4 302.3h0M179.2 302.5h0M212.0 287.5h0M187.5 298.3h0M197.1 297.6h0M209.7 298.1h0M208.1 329.8h0M194.1 293.5h0M191.0 292.9h0M224.2 300.2h0M224.2 298.7h0M224.9 300.1h0M205.1 324.7h0M220.7 315.5h0M219.1 314.3h0M216.0 303.0h0M182.5 293.5h0M181.3 290.4h0M181.0 289.7h0M172.2 295.2h0M208.0 301.5h0M181.3 304.4h0M178.2 301.0h0M204.8 281.3h0M217.2 289.2h0M179.3 313.9h0M190.0 281.6h0M218.4 312.2h0M200.9 315.5h0M202.5 314.7h0M201.6 317.3h0M210.2 278.8h0" stroke="#4a28cc" stroke-width="1.0" stroke-linecap="round" opacity="0.92"/>
<path d="M185.7 326.2h0M207.6 312.3h0M207.4 311.4h0M197.1 335.2h0M197.2 332.9h0M195.3 333.6h0M221.6 318.9h0M215.4 320.3h0M214.3 322.0h0M214.2 321.5h0M219.7 316.5h0M188.6 324.7h0M196.5 327.8h0M192.5 299.0h0M194.9 298.6h0M209.8 300.0h0M209.9 300.1h0M186.3 279.0h0M213.8 312.9h0M197.7 334.1h0M198.2 333.6h0M186.1 286.6h0M187.3 287.4h0M173.8 297.5h0M181.8 313.6h0M212.9 307.3h0M204.0 289.5h0M214.2 309.3h0M214.9 308.6h0M200.4 321.2h0M211.3 292.0h0M191.4 292.6h0M207.1 281.8h0M208.6 282.4h0M207.6 281.3h0M193.7 330.0h0M194.5 329.1h0M183.8 323.8h0M182.2 323.6h0M197.8 288.4h0M199.1 288.7h0M199.7 296.5h0M198.2 298.3h0M217.6 292.5h0M220.4 294.9h0M196.2 299.3h0M213.0 293.6h0M192.8 310.9h0M184.9 281.2h0M186.4 280.8h0M210.5 304.2h0M212.8 304.0h0M179.5 286.0h0M192.4 284.8h0M219.2 296.0h0M197.2 282.0h0M196.6 283.8h0M204.5 288.5h0M203.2 285.7h0M204.4 285.1h0M187.0 309.2h0M187.3 310.3h0M210.5 320.6h0M187.6 324.9h0M196.7 327.1h0M208.8 328.0h0M207.8 327.5h0M224.2 301.3h0M224.5 301.4h0M209.3 279.0h0M209.1 280.8h0M222.9 302.4h0M198.1 308.6h0M196.9 310.1h0M196.2 304.5h0M195.8 303.6h0M196.1 278.2h0M185.1 284.7h0M186.1 284.7h0M193.4 292.8h0M199.6 282.6h0M173.3 312.6h0M213.6 309.8h0M188.4 307.4h0M178.1 320.0h0M191.2 317.5h0M191.2 317.5h0M217.6 304.2h0M217.3 302.8h0M206.7 278.8h0M194.4 281.1h0M193.5 317.8h0M180.9 301.5h0M180.1 301.9h0M180.7 301.0h0M195.7 312.1h0M220.9 291.7h0M220.5 291.4h0M194.2 327.3h0M192.8 328.2h0M186.1 325.3h0M199.2 312.8h0M216.4 306.2h0M190.8 297.6h0M211.1 324.6h0M205.0 307.6h0M204.8 307.6h0M181.3 312.1h0M209.1 318.9h0M196.3 284.8h0M196.1 283.1h0M182.7 289.1h0M193.0 286.0h0M192.5 286.5h0M207.9 284.8h0M212.5 322.5h0M203.6 329.7h0M188.4 292.0h0M189.3 290.7h0M190.5 289.7h0M209.7 315.1h0M189.0 309.8h0M217.7 291.3h0M218.2 287.9h0M202.0 279.7h0M222.2 299.3h0M214.6 300.2h0M209.2 303.6h0M180.3 320.9h0M173.2 298.7h0M201.3 286.2h0M197.4 289.1h0M196.4 291.1h0M194.3 303.3h0M193.5 303.2h0M194.7 316.3h0M192.4 317.4h0M190.0 321.6h0M189.5 321.5h0M205.6 299.6h0M206.3 299.7h0M203.6 295.1h0M205.0 312.0h0M187.7 318.8h0M189.4 303.2h0M186.7 303.1h0M208.6 328.1h0M187.2 329.0h0M188.0 329.8h0M187.5 324.6h0M188.2 297.2h0M218.1 292.4h0M183.7 291.1h0M214.7 305.4h0M181.7 314.0h0M196.5 312.0h0M219.7 300.9h0M223.7 310.8h0M222.0 311.8h0M178.4 296.6h0M198.9 301.3h0M201.9 322.5h0M199.9 326.2h0M199.7 325.5h0M200.0 286.8h0M184.4 284.5h0M201.7 291.7h0M185.0 321.8h0M169.9 309.4h0M197.9 319.0h0M198.3 321.5h0M212.2 306.9h0M212.3 307.3h0M203.1 289.3h0M197.8 283.8h0M199.3 284.3h0M178.4 322.0h0M177.4 321.1h0M192.5 315.9h0M212.8 313.2h0M188.6 280.2h0M186.8 282.0h0M215.4 320.1h0M206.1 316.9h0M205.7 316.3h0M205.1 315.8h0M220.8 304.6h0M221.3 305.6h0M172.9 297.6h0M184.8 318.3h0M215.8 317.3h0M177.3 304.8h0M176.2 303.9h0M168.8 301.5h0M170.4 300.7h0M198.7 289.5h0M208.5 309.2h0M211.2 308.2h0M184.3 312.1h0M184.8 311.9h0M194.8 304.4h0M187.9 282.4h0M205.6 296.1h0M184.7 298.3h0M198.6 330.7h0M185.6 289.8h0M187.3 288.3h0M211.0 291.2h0M198.2 302.0h0M197.4 302.0h0M200.9 315.8h0M203.1 315.3h0M208.7 306.5h0M185.7 320.1h0M184.0 329.9h0M183.6 329.1h0M194.4 283.0h0M198.8 286.1h0M190.9 287.4h0M197.3 313.1h0M194.3 317.7h0M196.2 286.3h0M213.7 297.1h0M217.1 292.4h0M212.9 279.7h0M195.7 321.6h0M214.5 285.6h0M225.6 305.2h0M224.3 306.2h0M175.2 306.4h0M178.9 285.3h0M179.2 285.3h0M206.4 285.1h0M190.8 317.1h0M189.7 309.4h0M201.3 300.9h0M197.5 329.7h0M191.6 318.5h0M223.1 311.5h0M217.9 286.0h0M217.8 321.5h0M185.1 288.0h0M194.9 282.3h0M219.8 297.4h0M184.8 296.8h0M183.3 296.3h0M182.8 313.2h0M179.2 311.8h0M209.1 304.4h0M206.2 287.3h0M196.0 300.9h0M185.4 301.8h0M179.8 323.7h0M196.7 291.0h0M195.1 292.3h0M210.7 279.6h0M207.2 282.8h0M199.9 314.6h0M196.6 303.4h0M218.3 314.9h0M210.5 286.6h0M213.7 317.3h0M217.3 295.6h0M207.8 287.3h0M207.3 287.6h0M204.2 294.2h0M193.9 319.1h0M193.4 318.7h0M192.6 318.4h0M206.2 293.2h0M205.1 291.5h0M205.9 291.3h0M194.4 330.3h0M199.4 330.5h0M185.7 315.8h0M184.2 297.4h0M198.9 330.7h0M196.6 331.9h0M206.6 298.9h0M195.3 317.5h0M200.6 290.6h0M202.8 327.9h0M202.2 327.2h0M199.3 302.9h0M197.6 325.9h0M197.4 327.7h0M188.8 313.2h0M185.6 329.5h0M184.6 329.9h0M181.6 282.3h0M186.1 284.6h0M193.6 321.4h0M190.9 328.8h0M190.6 328.6h0M201.6 332.7h0M201.0 278.2h0M205.6 284.0h0M206.3 286.2h0M224.4 317.1h0M224.1 317.0h0M195.2 328.4h0M193.7 283.5h0M211.4 306.7h0M197.5 289.7h0M196.6 288.9h0M197.6 320.7h0M212.6 315.1h0M212.8 315.9h0M200.2 290.4h0M186.1 308.5h0M189.5 313.9h0M220.8 309.5h0M217.8 314.3h0M171.0 309.3h0M170.5 308.2h0M198.1 294.9h0M178.2 291.3h0M178.8 290.9h0M204.2 328.0h0M215.0 299.6h0M213.2 301.4h0M202.4 317.0h0M178.9 288.2h0M215.7 283.3h0M177.4 289.1h0M210.0 328.0h0M215.4 307.8h0M210.1 329.4h0M193.6 300.7h0M193.6 298.0h0M190.1 286.1h0M187.4 280.7h0M212.7 325.7h0M215.3 324.9h0M184.9 288.1h0M178.4 288.1h0M174.1 302.4h0M173.7 301.8h0M171.7 307.9h0M204.8 326.7h0M207.4 328.0h0M187.5 287.7h0M192.4 279.9h0M193.2 279.9h0M222.1 301.5h0M222.4 301.3h0M209.7 282.7h0M199.0 307.9h0M200.1 309.5h0M223.3 290.4h0M184.5 283.8h0M216.9 304.0h0M176.8 302.9h0M177.6 301.3h0M180.8 305.4h0M180.4 305.8h0M209.7 299.5h0M221.8 301.9h0M216.6 303.0h0M214.6 317.1h0M201.3 298.7h0M215.4 283.3h0M193.5 319.9h0M181.4 293.6h0M177.5 292.7h0M193.4 279.7h0M222.8 311.6h0M182.3 304.2h0M208.3 285.6h0M207.6 284.9h0M211.0 296.8h0M209.2 294.0h0M203.5 305.9h0M194.7 279.0h0M195.7 279.0h0M216.0 324.4h0M216.1 290.0h0M218.2 301.0h0M197.5 304.6h0M176.0 319.0h0M175.6 317.8h0M209.5 294.4h0M216.7 298.0h0" stroke="#4a28cc" stroke-width="1.35" stroke-linecap="round" opacity="0.92"/>
<path d="M215.5 325.8h0M186.1 327.6h0M209.1 315.6h0M223.2 318.9h0M218.3 316.8h0M208.2 291.2h0M197.8 296.8h0M186.6 320.1h0M195.6 278.9h0M187.0 280.6h0M190.5 326.0h0M217.7 310.2h0M216.4 310.1h0M187.8 329.5h0M190.3 327.7h0M181.3 312.3h0M182.2 312.1h0M212.8 307.9h0M214.9 308.8h0M204.6 330.9h0M191.2 292.1h0M202.1 282.9h0M198.5 279.8h0M193.4 328.0h0M185.4 300.1h0M218.1 293.1h0M213.3 306.7h0M212.9 306.9h0M184.4 280.6h0M211.1 304.1h0M225.3 311.2h0M192.9 283.7h0M198.6 282.7h0M183.5 323.6h0M179.5 311.5h0M212.2 320.4h0M215.5 289.0h0M196.2 319.4h0M212.2 311.8h0M187.3 324.0h0M195.3 327.6h0M179.8 302.2h0M175.1 295.4h0M173.3 296.5h0M189.5 299.5h0M203.0 299.2h0M188.2 296.8h0M194.8 304.7h0M177.7 298.4h0M196.7 277.3h0M196.9 276.2h0M217.2 284.7h0M204.4 331.2h0M206.5 286.7h0M198.3 281.8h0M179.5 318.9h0M207.8 284.1h0M205.9 284.5h0M186.8 279.9h0M219.8 303.5h0M206.8 280.8h0M210.5 324.1h0M192.7 317.5h0M193.3 316.6h0M181.7 318.9h0M181.8 319.4h0M195.6 311.2h0M188.7 313.7h0M202.2 288.3h0M199.8 287.0h0M219.9 292.1h0M193.1 327.6h0M186.2 326.1h0M210.3 332.2h0M209.9 329.1h0M209.5 330.1h0M225.9 306.9h0M210.2 318.6h0M180.5 307.6h0M214.3 303.7h0M213.1 302.6h0M181.7 289.3h0M195.7 326.1h0M211.2 321.8h0M200.0 332.3h0M204.4 328.5h0M198.3 312.2h0M209.6 316.4h0M192.3 281.1h0M188.8 291.0h0M208.8 314.5h0M208.9 314.1h0M218.9 288.2h0M201.0 280.1h0M191.9 295.7h0M191.2 297.0h0M214.2 299.9h0M210.4 305.9h0M197.2 278.3h0M225.0 296.1h0M223.9 306.4h0M198.7 298.0h0M179.6 321.0h0M173.0 300.4h0M223.6 301.8h0M214.5 327.4h0M194.2 315.5h0M221.1 300.9h0M171.6 312.4h0M223.4 297.1h0M222.9 297.5h0M185.6 290.9h0M204.3 295.5h0M189.1 302.1h0M203.5 281.9h0M203.9 280.3h0M185.9 322.9h0M211.6 314.9h0M208.9 327.2h0M213.6 306.2h0M195.6 311.2h0M224.1 312.1h0M179.4 315.1h0M186.6 289.6h0M179.4 295.0h0M176.9 297.8h0M182.3 285.8h0M208.8 298.7h0M186.7 322.1h0M175.0 296.4h0M173.0 296.0h0M199.1 303.0h0M174.6 292.7h0M175.1 301.8h0M172.9 304.3h0M209.4 321.1h0M207.9 320.7h0M181.3 327.5h0M201.2 322.2h0M206.3 322.6h0M175.5 294.3h0M199.0 286.7h0M200.3 292.4h0M198.6 294.2h0M214.4 305.3h0M218.1 304.0h0M218.7 302.7h0M218.1 303.0h0M184.7 322.7h0M174.6 309.3h0M195.7 316.2h0M198.7 320.3h0M201.3 288.1h0M203.1 289.6h0M203.7 317.8h0M191.5 317.8h0M178.3 292.4h0M178.7 292.6h0M184.6 281.6h0M185.7 281.9h0M212.1 302.6h0M226.3 309.2h0M226.6 309.2h0M184.9 318.7h0M214.9 317.3h0M175.7 303.1h0M192.0 299.8h0M202.6 320.7h0M223.8 305.3h0M193.1 302.8h0M192.9 302.8h0M222.4 297.3h0M193.3 284.8h0M211.1 291.8h0M197.4 301.8h0M221.3 313.0h0M209.2 305.9h0M183.1 328.6h0M194.3 283.8h0M191.9 285.5h0M205.8 326.8h0M183.8 314.1h0M197.0 312.6h0M194.5 285.6h0M194.9 278.4h0M195.5 278.3h0M184.9 294.8h0M185.1 293.7h0M214.1 322.6h0M214.9 322.9h0M214.7 286.3h0M215.5 285.0h0M207.3 310.0h0M206.2 309.5h0M179.8 285.7h0M204.5 319.0h0M204.0 320.5h0M207.7 284.4h0M192.8 316.2h0M188.9 308.5h0M197.3 330.6h0M190.4 318.3h0M217.4 319.6h0M178.7 322.7h0M209.1 307.9h0M222.4 318.6h0M223.7 318.1h0M223.7 316.9h0M195.4 308.9h0M194.7 308.5h0M213.1 318.7h0M219.7 298.4h0M185.0 296.0h0M184.9 283.3h0M178.4 289.2h0M180.1 313.1h0M182.2 304.7h0M205.4 286.7h0M206.6 287.7h0M211.3 291.8h0M195.8 324.3h0M195.9 300.8h0M203.3 283.1h0M183.7 300.7h0M196.8 291.1h0M196.5 303.1h0M175.6 291.8h0M176.8 292.3h0M177.7 292.8h0M208.4 331.3h0M177.1 324.9h0M205.4 292.9h0M195.9 326.6h0M193.3 327.8h0M192.1 312.5h0M192.3 312.5h0M208.4 278.6h0M174.4 315.7h0M175.6 314.4h0M177.7 314.7h0M199.4 330.2h0M208.3 298.9h0M185.4 308.6h0M199.7 290.5h0M183.3 318.6h0M202.2 328.0h0M187.7 314.8h0M192.6 312.0h0M195.5 286.5h0M218.7 296.9h0M192.8 327.1h0M181.9 282.7h0M218.7 289.5h0M220.9 289.8h0M191.0 329.6h0M202.2 278.6h0M181.7 289.5h0M173.7 297.4h0M189.7 281.2h0M209.2 315.4h0M195.7 327.6h0M194.6 284.4h0M212.2 307.2h0M172.3 295.4h0M212.7 327.0h0M213.9 325.7h0M196.6 288.8h0M197.2 318.6h0M211.7 315.1h0M204.3 300.8h0M192.0 284.5h0M192.0 286.3h0M196.9 302.7h0M196.8 300.9h0M170.5 307.8h0M170.6 306.2h0M169.5 304.4h0M193.8 310.0h0M194.4 310.0h0M213.6 283.4h0M177.9 291.9h0M209.8 280.5h0M177.1 287.7h0M179.4 296.4h0M212.4 283.7h0M208.5 283.4h0M208.1 302.2h0M208.3 301.9h0M216.8 308.1h0M203.1 301.4h0M193.1 299.8h0M193.1 289.0h0M193.1 289.9h0M191.3 286.9h0M189.8 285.3h0M197.0 329.6h0M195.9 328.7h0M224.4 295.3h0M223.7 295.8h0M188.5 286.1h0M188.2 285.0h0M213.7 325.2h0M206.0 291.6h0M187.3 279.9h0M177.3 317.7h0M177.5 317.9h0M214.6 326.7h0M175.6 287.7h0M208.8 290.0h0M178.3 312.7h0M171.6 306.5h0M206.9 318.4h0M187.6 289.3h0M185.1 305.7h0M193.5 311.7h0M220.8 301.4h0M217.3 285.6h0M216.5 287.8h0M217.9 302.4h0M218.3 301.3h0M218.3 302.5h0M176.1 307.2h0M180.1 304.1h0M208.3 329.6h0M180.1 324.7h0M221.6 302.5h0M222.7 302.9h0M191.5 278.8h0M190.2 280.9h0M217.3 305.2h0M213.9 318.8h0M215.3 317.2h0M201.8 298.3h0M214.8 282.7h0M207.6 283.3h0M206.4 281.6h0M207.6 282.4h0M182.0 292.8h0M181.3 289.3h0M176.7 292.3h0M183.3 287.9h0M183.0 289.4h0M208.0 324.2h0M203.5 278.9h0M208.2 283.9h0M195.9 277.8h0M177.5 288.5h0M216.9 324.0h0M216.8 323.7h0M218.4 299.9h0M198.0 307.5h0M209.9 293.2h0" stroke="#4a28cc" stroke-width="1.75" stroke-linecap="round" opacity="0.92"/>
</g></g>
<line x1="215.3" y1="338.2" x2="230.6" y2="338.2" stroke="#000" stroke-width="1.8"/>
<line x1="87.6" y1="356.2" x2="203.2" y2="356.2" stroke="#000" stroke-width="1.3"/>
<text x="145.9" y="357.1" text-anchor="middle" fill="#000" style="font-size:12.8px;font-weight:bold">**</text>
<line x1="88" y1="380.8" x2="152.7" y2="380.8" stroke="#000" stroke-width="1.3"/>
<text x="120.3" y="381.9" text-anchor="middle" fill="#000" style="font-size:12.8px;font-weight:bold">**</text>
<line x1="66.2" y1="372.3" x2="66.2" y2="470.1" stroke="#000" stroke-width="1.4"/>
<line x1="65.5" y1="469.5" x2="222" y2="469.5" stroke="#000" stroke-width="1.4"/>
<line x1="61" y1="469.5" x2="66.2" y2="469.5" stroke="#000" stroke-width="1.3"/>
<text x="58.5" y="473.9" text-anchor="end" fill="#000" style="font-size:12.2px">0</text>
<line x1="61" y1="440.2" x2="66.2" y2="440.2" stroke="#000" stroke-width="1.3"/>
<text x="58.8" y="444.6" text-anchor="end" fill="#000" style="font-size:12.2px">3×10<tspan dy="-5" style="font-size:8px">4</tspan></text>
<line x1="61" y1="410.9" x2="66.2" y2="410.9" stroke="#000" stroke-width="1.3"/>
<text x="58.8" y="415.3" text-anchor="end" fill="#000" style="font-size:12.2px">6×10<tspan dy="-5" style="font-size:8px">4</tspan></text>
<line x1="61" y1="381.6" x2="66.2" y2="381.6" stroke="#000" stroke-width="1.3"/>
<text x="58.8" y="386" text-anchor="end" fill="#000" style="font-size:12.2px">9×10<tspan dy="-5" style="font-size:8px">4</tspan></text>
<rect x="82" y="401.13" width="30.1" height="68.37" fill="#808080" stroke="#111" stroke-width="1.3"/>
<line x1="97.05" y1="388.93" x2="97.05" y2="413.34" stroke="#000" stroke-width="1.3"/>
<line x1="92.75" y1="388.93" x2="101.35" y2="388.93" stroke="#000" stroke-width="1.3"/>
<line x1="92.75" y1="413.34" x2="101.35" y2="413.34" stroke="#000" stroke-width="1.3"/>
<line x1="97.05" y1="469.5" x2="97.05" y2="475" stroke="#000" stroke-width="1.3"/>
<rect x="128.6" y="459.73" width="30.7" height="9.77" fill="#ebebeb" stroke="#111" stroke-width="1.3"/>
<line x1="143.95" y1="457.98" x2="143.95" y2="461.49" stroke="#000" stroke-width="1.3"/>
<line x1="139.65" y1="457.98" x2="148.25" y2="457.98" stroke="#000" stroke-width="1.3"/>
<line x1="139.65" y1="461.49" x2="148.25" y2="461.49" stroke="#000" stroke-width="1.3"/>
<line x1="143.95" y1="469.5" x2="143.95" y2="475" stroke="#000" stroke-width="1.3"/>
<rect x="175.6" y="447.04" width="30.3" height="22.46" fill="#c0c0c0" stroke="#111" stroke-width="1.3"/>
<line x1="190.75" y1="442.64" x2="190.75" y2="451.43" stroke="#000" stroke-width="1.3"/>
<line x1="186.45" y1="442.64" x2="195.05" y2="442.64" stroke="#000" stroke-width="1.3"/>
<line x1="186.45" y1="451.43" x2="195.05" y2="451.43" stroke="#000" stroke-width="1.3"/>
<line x1="190.75" y1="469.5" x2="190.75" y2="475" stroke="#000" stroke-width="1.3"/>
<text x="97" y="485.7" text-anchor="middle" fill="#000" style="font-size:12.2px">WT</text>
<text x="144" y="485.7" text-anchor="middle" fill="#000" style="font-size:12.2px"><tspan style="font-style:italic">RIPK1</tspan><tspan dy="-4.64" style="font-size:7.56px;font-style:italic">-/-</tspan></text>
<text x="191.2" y="485.7" text-anchor="middle" fill="#000" style="font-size:12.2px"><tspan style="font-style:italic">RIPK1</tspan><tspan dy="-4.64" style="font-size:7.56px;font-style:italic">-/-</tspan></text>
<text x="191.1" y="502" text-anchor="middle" fill="#000" style="font-size:12.2px">+RIPK1-Flag</text>
<text x="18.3" y="418.7" text-anchor="middle" fill="#000" style="font-size:12.2px" transform="rotate(-90 18.3 418.7)">Intensity of clones</text>
<text x="249" y="241.8" text-anchor="start" fill="#000" style="font-size:16px">E</text>
<line x1="295.4" y1="325" x2="295.4" y2="445.1" stroke="#000" stroke-width="1.4"/>
<line x1="294.8" y1="444.5" x2="443.8" y2="444.5" stroke="#000" stroke-width="1.4"/>
<line x1="290.3" y1="444.5" x2="295.4" y2="444.5" stroke="#000" stroke-width="1.3"/>
<text x="287.6" y="448.8" text-anchor="end" fill="#000" style="font-size:12.3px">0.0</text>
<line x1="290.3" y1="414.72" x2="295.4" y2="414.72" stroke="#000" stroke-width="1.3"/>
<text x="287.6" y="419.02" text-anchor="end" fill="#000" style="font-size:12.3px">0.4</text>
<line x1="290.3" y1="384.95" x2="295.4" y2="384.95" stroke="#000" stroke-width="1.3"/>
<text x="287.6" y="389.25" text-anchor="end" fill="#000" style="font-size:12.3px">0.8</text>
<line x1="290.3" y1="355.17" x2="295.4" y2="355.17" stroke="#000" stroke-width="1.3"/>
<text x="287.6" y="359.47" text-anchor="end" fill="#000" style="font-size:12.3px">1.2</text>
<line x1="290.3" y1="325.4" x2="295.4" y2="325.4" stroke="#000" stroke-width="1.3"/>
<text x="287.6" y="329.7" text-anchor="end" fill="#000" style="font-size:12.3px">1.6</text>
<line x1="295.4" y1="444.5" x2="295.4" y2="449.5" stroke="#000" stroke-width="1.3"/>
<text x="295.4" y="463.3" text-anchor="middle" fill="#000" style="font-size:12.3px">0</text>
<line x1="332.42" y1="444.5" x2="332.42" y2="449.5" stroke="#000" stroke-width="1.3"/>
<text x="332.42" y="463.3" text-anchor="middle" fill="#000" style="font-size:12.3px">2</text>
<line x1="369.44" y1="444.5" x2="369.44" y2="449.5" stroke="#000" stroke-width="1.3"/>
<text x="369.44" y="463.3" text-anchor="middle" fill="#000" style="font-size:12.3px">4</text>
<line x1="406.46" y1="444.5" x2="406.46" y2="449.5" stroke="#000" stroke-width="1.3"/>
<text x="406.46" y="463.3" text-anchor="middle" fill="#000" style="font-size:12.3px">6</text>
<line x1="443.48" y1="444.5" x2="443.48" y2="449.5" stroke="#000" stroke-width="1.3"/>
<text x="443.48" y="463.3" text-anchor="middle" fill="#000" style="font-size:12.3px">8</text>
<text x="369" y="481.3" text-anchor="middle" fill="#000" style="font-size:12.5px">Days</text>
<text x="264.6" y="383.4" text-anchor="middle" fill="#000" style="font-size:12.3px" transform="rotate(-90 264.6 383.4)">Absorbance (450 nm)</text>
<polyline points="295.4,428.5 313.91,425.89 332.42,425.52 350.93,421.05 369.44,413.53 387.95,404.45 406.46,393.14 424.97,380.78 443.48,376.02" fill="none" stroke="#7a7cf6" stroke-width="1.5" stroke-linejoin="round"/>
<path d="M292.4 426.3L298.4 426.3L295.4 431.3Z" fill="#7a7cf6" stroke="none" stroke-width="1"/>
<path d="M310.91 423.69L316.91 423.69L313.91 428.69Z" fill="#7a7cf6" stroke="none" stroke-width="1"/>
<line x1="332.42" y1="421.8" x2="332.42" y2="429.24" stroke="#7a7cf6" stroke-width="1.5"/>
<line x1="330.17" y1="421.8" x2="334.67" y2="421.8" stroke="#7a7cf6" stroke-width="1.5"/>
<line x1="330.17" y1="429.24" x2="334.67" y2="429.24" stroke="#7a7cf6" stroke-width="1.5"/>
<path d="M329.42 423.32L335.42 423.32L332.42 428.32Z" fill="#7a7cf6" stroke="none" stroke-width="1"/>
<line x1="350.93" y1="417.33" x2="350.93" y2="424.77" stroke="#7a7cf6" stroke-width="1.5"/>
<line x1="348.68" y1="417.33" x2="353.18" y2="417.33" stroke="#7a7cf6" stroke-width="1.5"/>
<line x1="348.68" y1="424.77" x2="353.18" y2="424.77" stroke="#7a7cf6" stroke-width="1.5"/>
<path d="M347.93 418.85L353.93 418.85L350.93 423.85Z" fill="#7a7cf6" stroke="none" stroke-width="1"/>
<line x1="369.44" y1="411.3" x2="369.44" y2="415.77" stroke="#7a7cf6" stroke-width="1.5"/>
<line x1="367.19" y1="411.3" x2="371.69" y2="411.3" stroke="#7a7cf6" stroke-width="1.5"/>
<line x1="367.19" y1="415.77" x2="371.69" y2="415.77" stroke="#7a7cf6" stroke-width="1.5"/>
<path d="M366.44 411.33L372.44 411.33L369.44 416.33Z" fill="#7a7cf6" stroke="none" stroke-width="1"/>
<path d="M384.95 402.25L390.95 402.25L387.95 407.25Z" fill="#7a7cf6" stroke="none" stroke-width="1"/>
<line x1="406.46" y1="390.9" x2="406.46" y2="395.37" stroke="#7a7cf6" stroke-width="1.5"/>
<line x1="404.21" y1="390.9" x2="408.71" y2="390.9" stroke="#7a7cf6" stroke-width="1.5"/>
<line x1="404.21" y1="395.37" x2="408.71" y2="395.37" stroke="#7a7cf6" stroke-width="1.5"/>
<path d="M403.46 390.94L409.46 390.94L406.46 395.94Z" fill="#7a7cf6" stroke="none" stroke-width="1"/>
<line x1="424.97" y1="374.08" x2="424.97" y2="387.48" stroke="#7a7cf6" stroke-width="1.5"/>
<line x1="422.72" y1="374.08" x2="427.22" y2="374.08" stroke="#7a7cf6" stroke-width="1.5"/>
<line x1="422.72" y1="387.48" x2="427.22" y2="387.48" stroke="#7a7cf6" stroke-width="1.5"/>
<path d="M421.97 378.58L427.97 378.58L424.97 383.58Z" fill="#7a7cf6" stroke="none" stroke-width="1"/>
<line x1="443.48" y1="373.78" x2="443.48" y2="378.25" stroke="#7a7cf6" stroke-width="1.5"/>
<line x1="441.23" y1="373.78" x2="445.73" y2="373.78" stroke="#7a7cf6" stroke-width="1.5"/>
<line x1="441.23" y1="378.25" x2="445.73" y2="378.25" stroke="#7a7cf6" stroke-width="1.5"/>
<path d="M440.48 373.82L446.48 373.82L443.48 378.82Z" fill="#7a7cf6" stroke="none" stroke-width="1"/>
<polyline points="295.4,429.24 313.91,425.89 332.42,422.17 350.93,412.04 369.44,401.32 387.95,392.02 406.46,376.98 424.97,367.45 443.48,360.38" fill="none" stroke="#d03a2a" stroke-width="1.5" stroke-linejoin="round"/>
<circle cx="295.4" cy="429.24" r="2.8" fill="#d03a2a" stroke="none" stroke-width="1"/>
<circle cx="313.91" cy="425.89" r="2.8" fill="#d03a2a" stroke="none" stroke-width="1"/>
<circle cx="332.42" cy="422.17" r="2.8" fill="#d03a2a" stroke="none" stroke-width="1"/>
<line x1="350.93" y1="409.81" x2="350.93" y2="414.28" stroke="#d03a2a" stroke-width="1.5"/>
<line x1="348.68" y1="409.81" x2="353.18" y2="409.81" stroke="#d03a2a" stroke-width="1.5"/>
<line x1="348.68" y1="414.28" x2="353.18" y2="414.28" stroke="#d03a2a" stroke-width="1.5"/>
<circle cx="350.93" cy="412.04" r="2.8" fill="#d03a2a" stroke="none" stroke-width="1"/>
<line x1="369.44" y1="399.84" x2="369.44" y2="402.81" stroke="#d03a2a" stroke-width="1.5"/>
<line x1="367.19" y1="399.84" x2="371.69" y2="399.84" stroke="#d03a2a" stroke-width="1.5"/>
<line x1="367.19" y1="402.81" x2="371.69" y2="402.81" stroke="#d03a2a" stroke-width="1.5"/>
<circle cx="369.44" cy="401.32" r="2.8" fill="#d03a2a" stroke="none" stroke-width="1"/>
<line x1="387.95" y1="389.79" x2="387.95" y2="394.25" stroke="#d03a2a" stroke-width="1.5"/>
<line x1="385.7" y1="389.79" x2="390.2" y2="389.79" stroke="#d03a2a" stroke-width="1.5"/>
<line x1="385.7" y1="394.25" x2="390.2" y2="394.25" stroke="#d03a2a" stroke-width="1.5"/>
<circle cx="387.95" cy="392.02" r="2.8" fill="#d03a2a" stroke="none" stroke-width="1"/>
<line x1="406.46" y1="374.01" x2="406.46" y2="379.96" stroke="#d03a2a" stroke-width="1.5"/>
<line x1="404.21" y1="374.01" x2="408.71" y2="374.01" stroke="#d03a2a" stroke-width="1.5"/>
<line x1="404.21" y1="379.96" x2="408.71" y2="379.96" stroke="#d03a2a" stroke-width="1.5"/>
<circle cx="406.46" cy="376.98" r="2.8" fill="#d03a2a" stroke="none" stroke-width="1"/>
<line x1="424.97" y1="362.24" x2="424.97" y2="372.67" stroke="#d03a2a" stroke-width="1.5"/>
<line x1="422.72" y1="362.24" x2="427.22" y2="362.24" stroke="#d03a2a" stroke-width="1.5"/>
<line x1="422.72" y1="372.67" x2="427.22" y2="372.67" stroke="#d03a2a" stroke-width="1.5"/>
<circle cx="424.97" cy="367.45" r="2.8" fill="#d03a2a" stroke="none" stroke-width="1"/>
<line x1="443.48" y1="351.45" x2="443.48" y2="369.32" stroke="#d03a2a" stroke-width="1.5"/>
<line x1="441.23" y1="351.45" x2="445.73" y2="351.45" stroke="#d03a2a" stroke-width="1.5"/>
<line x1="441.23" y1="369.32" x2="445.73" y2="369.32" stroke="#d03a2a" stroke-width="1.5"/>
<circle cx="443.48" cy="360.38" r="2.8" fill="#d03a2a" stroke="none" stroke-width="1"/>
<polyline points="295.4,427.38 313.91,425.29 332.42,422.39 350.93,415.84 369.44,401.92 387.95,377.88 406.46,357.41 424.97,345.49 443.48,339.54" fill="none" stroke="#000" stroke-width="1.5" stroke-linejoin="round"/>
<circle cx="295.4" cy="427.38" r="2.8" fill="#000" stroke="none" stroke-width="1"/>
<circle cx="313.91" cy="425.29" r="2.8" fill="#000" stroke="none" stroke-width="1"/>
<circle cx="332.42" cy="422.39" r="2.8" fill="#000" stroke="none" stroke-width="1"/>
<line x1="350.93" y1="414.72" x2="350.93" y2="416.96" stroke="#000" stroke-width="1.5"/>
<line x1="348.68" y1="414.72" x2="353.18" y2="414.72" stroke="#000" stroke-width="1.5"/>
<line x1="348.68" y1="416.96" x2="353.18" y2="416.96" stroke="#000" stroke-width="1.5"/>
<circle cx="350.93" cy="415.84" r="2.8" fill="#000" stroke="none" stroke-width="1"/>
<line x1="369.44" y1="400.43" x2="369.44" y2="403.41" stroke="#000" stroke-width="1.5"/>
<line x1="367.19" y1="400.43" x2="371.69" y2="400.43" stroke="#000" stroke-width="1.5"/>
<line x1="367.19" y1="403.41" x2="371.69" y2="403.41" stroke="#000" stroke-width="1.5"/>
<circle cx="369.44" cy="401.92" r="2.8" fill="#000" stroke="none" stroke-width="1"/>
<line x1="387.95" y1="372.67" x2="387.95" y2="383.09" stroke="#000" stroke-width="1.5"/>
<line x1="385.7" y1="372.67" x2="390.2" y2="372.67" stroke="#000" stroke-width="1.5"/>
<line x1="385.7" y1="383.09" x2="390.2" y2="383.09" stroke="#000" stroke-width="1.5"/>
<circle cx="387.95" cy="377.88" r="2.8" fill="#000" stroke="none" stroke-width="1"/>
<line x1="406.46" y1="345.49" x2="406.46" y2="369.32" stroke="#000" stroke-width="1.5"/>
<line x1="404.21" y1="345.49" x2="408.71" y2="345.49" stroke="#000" stroke-width="1.5"/>
<line x1="404.21" y1="369.32" x2="408.71" y2="369.32" stroke="#000" stroke-width="1.5"/>
<circle cx="406.46" cy="357.41" r="2.8" fill="#000" stroke="none" stroke-width="1"/>
<line x1="424.97" y1="335.82" x2="424.97" y2="355.17" stroke="#000" stroke-width="1.5"/>
<line x1="422.72" y1="335.82" x2="427.22" y2="335.82" stroke="#000" stroke-width="1.5"/>
<line x1="422.72" y1="355.17" x2="427.22" y2="355.17" stroke="#000" stroke-width="1.5"/>
<circle cx="424.97" cy="345.49" r="2.8" fill="#000" stroke="none" stroke-width="1"/>
<line x1="443.48" y1="330.61" x2="443.48" y2="348.47" stroke="#000" stroke-width="1.5"/>
<line x1="441.23" y1="330.61" x2="445.73" y2="330.61" stroke="#000" stroke-width="1.5"/>
<line x1="441.23" y1="348.47" x2="445.73" y2="348.47" stroke="#000" stroke-width="1.5"/>
<circle cx="443.48" cy="339.54" r="2.8" fill="#000" stroke="none" stroke-width="1"/>
<line x1="299.2" y1="271.7" x2="313.6" y2="271.7" stroke="#000" stroke-width="1.5"/>
<circle cx="306.4" cy="271.7" r="2.8" fill="#000" stroke="none" stroke-width="1"/>
<line x1="299.2" y1="290.8" x2="313.6" y2="290.8" stroke="#7a7cf6" stroke-width="1.5"/>
<path d="M303.4 288.6L309.4 288.6L306.4 293.6Z" fill="#7a7cf6" stroke="none" stroke-width="1"/>
<line x1="299.2" y1="310.7" x2="313.6" y2="310.7" stroke="#d03a2a" stroke-width="1.5"/>
<circle cx="306.4" cy="310.7" r="2.8" fill="#d03a2a" stroke="none" stroke-width="1"/>
<text x="321" y="275.9" text-anchor="start" fill="#000" style="font-size:12.2px">U251</text>
<text x="321" y="295" text-anchor="start" fill="#000" style="font-size:12.2px"><tspan style="font-style:italic">RIPK1</tspan><tspan dy="-4.64" style="font-size:7.56px;font-style:italic">-/-</tspan></text>
<text x="321" y="315" text-anchor="start" fill="#000" style="font-size:12.2px">RIPK1<tspan dy="-4.6" style="font-size:7.6px;font-style:italic">-/-</tspan><tspan dy="4.6">+RIPK1-Flag</tspan></text>
<line x1="436.9" y1="289.1" x2="436.9" y2="314.5" stroke="#000" stroke-width="1.3"/>
<text x="435.6" y="302" text-anchor="middle" fill="#000" style="font-size:13.5px;font-weight:bold" transform="rotate(90 435.6 302)">**</text>
<line x1="452.3" y1="270.1" x2="452.3" y2="314.2" stroke="#000" stroke-width="1.3"/>
<text x="451.4" y="291.2" text-anchor="middle" fill="#000" style="font-size:13.2px;font-weight:bold" transform="rotate(90 451.4 291.2)">****</text>
<text x="477.5" y="241.9" text-anchor="start" fill="#000" style="font-size:16px">F</text>
<rect x="543.9" y="282.6" width="84.9" height="20.7" fill="#e6e6e6" stroke="none" stroke-width="1"/>
<rect x="543.9" y="307.1" width="84.9" height="21.2" fill="#e4e4e4" stroke="none" stroke-width="1"/>
<rect x="543.9" y="282.6" width="84.9" height="20.7" fill="#fff" filter="url(#grain)" opacity="0.4"/>
<rect x="543.9" y="307.1" width="84.9" height="21.2" fill="#fff" filter="url(#grain)" opacity="0.4"/>
<rect x="551" y="291.1" width="18.2" height="3.4" rx="1.5" fill="#000" filter="url(#bl05)"/>
<rect x="578.5" y="292" width="18.5" height="2.6" rx="1.5" fill="#555" filter="url(#bl05)"/>
<rect x="607.4" y="291.6" width="16.7" height="2.8" rx="1.5" fill="#444" filter="url(#bl05)"/>
<rect x="548.5" y="315.1" width="21" height="3.8" rx="1.5" fill="#000" filter="url(#bl05)"/>
<rect x="574.5" y="315.3" width="23" height="3.8" rx="1.5" fill="#000" filter="url(#bl05)"/>
<rect x="601.5" y="315.2" width="23" height="4" rx="1.5" fill="#000" filter="url(#bl05)"/>
<rect x="543.9" y="282.6" width="84.9" height="20.7" fill="none" stroke="#111" stroke-width="1.3"/>
<rect x="543.9" y="307.1" width="84.9" height="21.2" fill="none" stroke="#111" stroke-width="1.3"/>
<text x="536.9" y="302.1" text-anchor="end" fill="#000" style="font-size:12.2px">RIPK1</text>
<text x="537.3" y="321.9" text-anchor="end" fill="#000" style="font-size:12.2px">Actin</text>
<text x="635.5" y="283.1" text-anchor="start" fill="#000" style="font-size:12.2px">kDa</text>
<line x1="629.3" y1="299.8" x2="636.4" y2="299.8" stroke="#000" stroke-width="1.3"/>
<line x1="629.3" y1="324.3" x2="636.4" y2="324.3" stroke="#000" stroke-width="1.3"/>
<text x="637.2" y="304.2" text-anchor="start" fill="#000" style="font-size:12.2px">70</text>
<text x="637.2" y="328.7" text-anchor="start" fill="#000" style="font-size:12.2px">40</text>
<text x="556" y="276.8" text-anchor="start" fill="#000" style="font-size:12.2px" transform="rotate(-42 556 276.8)">siNC</text>
<text x="582" y="276.8" text-anchor="start" fill="#000" style="font-size:12.2px" transform="rotate(-42 582 276.8)">si-RIPK1-1</text>
<text x="608" y="276.8" text-anchor="start" fill="#000" style="font-size:12.2px" transform="rotate(-42 608 276.8)">si-RIPK1-2</text>
<line x1="545.2" y1="355.3" x2="545.2" y2="463.6" stroke="#000" stroke-width="1.4"/>
<line x1="544.6" y1="463" x2="635.5" y2="463" stroke="#000" stroke-width="1.4"/>
<line x1="540.2" y1="463" x2="545.2" y2="463" stroke="#000" stroke-width="1.3"/>
<text x="537.9" y="467.3" text-anchor="end" fill="#000" style="font-size:12.2px">0.0</text>
<line x1="540.2" y1="427.27" x2="545.2" y2="427.27" stroke="#000" stroke-width="1.3"/>
<text x="537.9" y="431.57" text-anchor="end" fill="#000" style="font-size:12.2px">0.4</text>
<line x1="540.2" y1="391.54" x2="545.2" y2="391.54" stroke="#000" stroke-width="1.3"/>
<text x="537.9" y="395.84" text-anchor="end" fill="#000" style="font-size:12.2px">0.8</text>
<line x1="540.2" y1="355.8" x2="545.2" y2="355.8" stroke="#000" stroke-width="1.3"/>
<text x="537.9" y="360.1" text-anchor="end" fill="#000" style="font-size:12.2px">1.2</text>
<rect x="554.3" y="374.56" width="17.5" height="88.44" fill="#777777" stroke="#111" stroke-width="1.3"/>
<line x1="563.05" y1="364.74" x2="563.05" y2="384.39" stroke="#000" stroke-width="1.3"/>
<line x1="560.3" y1="364.74" x2="565.8" y2="364.74" stroke="#000" stroke-width="1.3"/>
<line x1="560.3" y1="384.39" x2="565.8" y2="384.39" stroke="#000" stroke-width="1.3"/>
<line x1="563.05" y1="463" x2="563.05" y2="468" stroke="#000" stroke-width="1.3"/>
<text x="565.85" y="476.8" text-anchor="end" fill="#000" style="font-size:11.9px" transform="rotate(-45 565.85 476.8)">si-NC</text>
<rect x="580.9" y="417.44" width="18.1" height="45.56" fill="#ebebeb" stroke="#111" stroke-width="1.3"/>
<line x1="589.95" y1="411.9" x2="589.95" y2="422.98" stroke="#000" stroke-width="1.3"/>
<line x1="587.2" y1="411.9" x2="592.7" y2="411.9" stroke="#000" stroke-width="1.3"/>
<line x1="587.2" y1="422.98" x2="592.7" y2="422.98" stroke="#000" stroke-width="1.3"/>
<line x1="589.95" y1="463" x2="589.95" y2="468" stroke="#000" stroke-width="1.3"/>
<text x="592.75" y="476.8" text-anchor="end" fill="#000" style="font-size:11.9px" transform="rotate(-45 592.75 476.8)">si-RIPK1-1</text>
<rect x="609" y="413.87" width="17.2" height="49.13" fill="#c0c0c0" stroke="#111" stroke-width="1.3"/>
<line x1="617.6" y1="409.85" x2="617.6" y2="417.89" stroke="#000" stroke-width="1.3"/>
<line x1="614.85" y1="409.85" x2="620.35" y2="409.85" stroke="#000" stroke-width="1.3"/>
<line x1="614.85" y1="417.89" x2="620.35" y2="417.89" stroke="#000" stroke-width="1.3"/>
<line x1="617.6" y1="463" x2="617.6" y2="468" stroke="#000" stroke-width="1.3"/>
<text x="620.4" y="476.8" text-anchor="end" fill="#000" style="font-size:11.9px" transform="rotate(-45 620.4 476.8)">si-RIPK1-2</text>
<line x1="558.3" y1="356.8" x2="596" y2="356.8" stroke="#000" stroke-width="1.3"/>
<text x="577.2" y="357.64" text-anchor="middle" fill="#000" style="font-size:12.3px;font-weight:bold">**</text>
<line x1="558.3" y1="345" x2="622" y2="345" stroke="#000" stroke-width="1.3"/>
<text x="590.2" y="344.94" text-anchor="middle" fill="#000" style="font-size:12.3px;font-weight:bold">**</text>
<text x="516" y="407.8" text-anchor="middle" fill="#000" style="font-size:11.7px" transform="rotate(-90 516 407.8)">Relative protein levels</text>
<text x="1.4" y="529.8" text-anchor="start" fill="#000" style="font-size:16px">G</text>
<text x="131.9" y="532.5" text-anchor="middle" fill="#000" style="font-size:12.2px">A172 si-NC</text>
<text x="290.6" y="531.5" text-anchor="middle" fill="#000" style="font-size:12.2px">A172 si-RIPK1-1</text>
<text x="445" y="531.5" text-anchor="middle" fill="#000" style="font-size:12.2px">A172 si-RIPK1-2</text>
<text x="14.3" y="606.5" text-anchor="middle" fill="#000" style="font-size:10.6px" transform="rotate(-90 14.3 606.5)">Count</text>
<g style="isolation:isolate">
<path d="M88.35 677.7 L88.35 676.34 L88.56 674.34 L88.76 672.11 L88.96 670.03 L89.17 668.47 L89.37 667.47 L89.58 666.77 L89.78 666.33 L89.98 666.12 L90.19 666.1 L90.39 666.21 L90.6 666.38 L90.8 666.62 L91 666.89 L91.21 667.21 L91.41 667.54 L91.62 667.89 L91.82 668.25 L92.02 668.59 L92.23 668.91 L92.43 669.21 L92.64 669.46 L92.84 669.66 L93.04 669.79 L93.25 669.89 L93.45 669.98 L93.66 670.07 L93.86 670.16 L94.06 670.24 L94.27 670.32 L94.47 670.4 L94.68 670.47 L94.88 670.54 L95.08 670.6 L95.29 670.66 L95.49 670.72 L95.7 670.78 L95.9 670.83 L96.1 670.88 L96.31 670.93 L96.51 670.97 L96.72 671.01 L96.92 671.05 L97.12 671.09 L97.33 671.12 L97.53 671.15 L97.74 671.18 L97.94 671.2 L98.14 671.23 L98.35 671.25 L98.55 671.27 L98.76 671.29 L98.96 671.3 L99.16 671.32 L99.37 671.33 L99.57 671.34 L99.78 671.35 L99.98 671.36 L100.18 671.36 L100.39 671.37 L100.59 671.37 L100.8 671.37 L101 671.37 L101.2 671.37 L101.41 671.37 L101.61 671.36 L101.82 671.35 L102.02 671.33 L102.22 671.31 L102.43 671.29 L102.63 671.27 L102.84 671.24 L103.04 671.21 L103.24 671.18 L103.45 671.15 L103.65 671.11 L103.86 671.07 L104.06 671.03 L104.26 670.99 L104.47 670.95 L104.67 670.9 L104.88 670.86 L105.08 670.81 L105.28 670.76 L105.49 670.71 L105.69 670.66 L105.9 670.61 L106.1 670.56 L106.3 670.5 L106.51 670.45 L106.71 670.4 L106.92 670.35 L107.12 670.29 L107.32 670.24 L107.53 670.19 L107.73 670.13 L107.94 670.08 L108.14 670.03 L108.34 669.98 L108.55 669.93 L108.75 669.88 L108.96 669.84 L109.16 669.79 L109.36 669.75 L109.57 669.71 L109.77 669.67 L109.98 669.64 L110.18 669.61 L110.38 669.58 L110.59 669.56 L110.79 669.53 L111 669.51 L111.2 669.49 L111.4 669.47 L111.61 669.45 L111.81 669.43 L112.02 669.4 L112.22 669.38 L112.42 669.36 L112.63 669.34 L112.83 669.31 L113.04 669.28 L113.24 669.25 L113.44 669.22 L113.65 669.19 L113.85 669.15 L114.06 669.11 L114.26 669.06 L114.46 669.01 L114.67 668.95 L114.87 668.89 L115.08 668.83 L115.28 668.76 L115.48 668.68 L115.69 668.6 L115.89 668.51 L116.1 668.41 L116.3 668.31 L116.5 668.2 L116.71 668.08 L116.91 667.95 L117.12 667.82 L117.32 667.65 L117.52 667.46 L117.73 667.22 L117.93 666.96 L118.14 666.67 L118.34 666.35 L118.54 666.02 L118.75 665.67 L118.95 665.31 L119.16 664.94 L119.36 664.56 L119.56 664.18 L119.77 663.81 L119.97 663.44 L120.18 663.08 L120.38 662.74 L120.58 662.41 L120.79 662.11 L120.99 661.83 L121.2 661.58 L121.4 661.36 L121.6 661.19 L121.81 661.11 L122.01 661.11 L122.22 661.21 L122.42 661.42 L122.62 661.72 L122.83 662.15 L123.03 662.83 L123.24 663.81 L123.44 664.95 L123.64 666.11 L123.85 667.16 L124.05 668.09 L124.26 669.02 L124.46 669.93 L124.66 670.81 L124.87 671.64 L125.07 672.43 L125.28 673.2 L125.48 673.98 L125.68 674.75 L125.89 675.49 L126.09 676.18 L126.3 676.79 L126.5 677.3 L126.5 677.7Z" fill="#dfe4a0" style="mix-blend-mode:multiply"/>
<path d="M79.38 677.7 L79.38 677.69 L79.58 677.68 L79.78 677.67 L79.99 677.66 L80.19 677.64 L80.4 677.6 L80.6 677.55 L80.8 677.48 L81.01 677.37 L81.21 677.22 L81.42 677.01 L81.62 676.72 L81.82 676.32 L82.03 675.79 L82.23 675.08 L82.44 674.16 L82.64 672.97 L82.84 671.46 L83.05 669.56 L83.25 667.21 L83.46 664.36 L83.66 660.93 L83.86 656.89 L84.07 652.19 L84.27 646.81 L84.48 640.75 L84.68 634.05 L84.88 626.77 L85.09 619 L85.29 610.87 L85.5 602.56 L85.7 594.24 L85.9 586.14 L86.11 578.5 L86.31 571.52 L86.52 565.46 L86.72 560.5 L86.92 556.83 L87.13 554.57 L87.33 553.81 L87.54 554.57 L87.74 556.83 L87.94 560.5 L88.15 565.46 L88.35 571.52 L88.56 578.5 L88.76 586.14 L88.96 594.24 L89.17 602.56 L89.37 610.87 L89.58 619 L89.78 626.77 L89.98 634.05 L90.19 640.75 L90.39 646.81 L90.6 652.19 L90.8 656.89 L91 660.93 L91.21 664.36 L91.41 667.21 L91.62 669.56 L91.82 671.46 L92.02 672.97 L92.23 674.16 L92.43 675.08 L92.64 675.79 L92.84 676.32 L93.04 676.72 L93.25 677.01 L93.45 677.22 L93.66 677.37 L93.86 677.48 L94.06 677.55 L94.27 677.6 L94.47 677.64 L94.68 677.66 L94.88 677.67 L95.08 677.68 L95.29 677.69 L95.29 677.7Z" fill="#a9a9f5" style="mix-blend-mode:multiply"/>
<path d="M117.32 677.7 L117.32 677.66 L117.52 677.64 L117.73 677.63 L117.93 677.6 L118.14 677.58 L118.34 677.54 L118.54 677.5 L118.75 677.45 L118.95 677.38 L119.16 677.31 L119.36 677.21 L119.56 677.1 L119.77 676.97 L119.97 676.82 L120.18 676.64 L120.38 676.44 L120.58 676.2 L120.79 675.94 L120.99 675.64 L121.2 675.31 L121.4 674.94 L121.6 674.54 L121.81 674.11 L122.01 673.64 L122.22 673.15 L122.42 672.63 L122.62 672.09 L122.83 671.54 L123.03 670.98 L123.24 670.43 L123.44 669.88 L123.64 669.34 L123.85 668.83 L124.05 668.36 L124.26 667.93 L124.46 667.55 L124.66 667.23 L124.87 666.97 L125.07 666.78 L125.28 666.67 L125.48 666.63 L125.68 666.67 L125.89 666.81 L126.09 667.03 L126.3 667.34 L126.5 667.72 L126.7 668.16 L126.91 668.66 L127.11 669.2 L127.32 669.78 L127.52 670.38 L127.72 670.98 L127.93 671.59 L128.13 672.19 L128.34 672.77 L128.54 673.33 L128.74 673.86 L128.95 674.35 L129.15 674.8 L129.36 675.21 L129.56 675.58 L129.76 675.91 L129.97 676.2 L130.17 676.46 L130.38 676.68 L130.58 676.86 L130.78 677.02 L130.99 677.16 L131.19 677.27 L131.4 677.36 L131.4 677.7Z" fill="#a4f2a0" style="mix-blend-mode:multiply"/>
</g>
<line x1="50" y1="538.2" x2="50" y2="678.3" stroke="#4a4a4a" stroke-width="1.3"/>
<line x1="49.4" y1="677.7" x2="181.2" y2="677.7" stroke="#4a4a4a" stroke-width="1.3"/>
<line x1="48.2" y1="677.7" x2="50" y2="677.7" stroke="#4a4a4a" stroke-width="0.9"/>
<line x1="48.2" y1="671.11" x2="50" y2="671.11" stroke="#4a4a4a" stroke-width="0.9"/>
<line x1="48.2" y1="664.52" x2="50" y2="664.52" stroke="#4a4a4a" stroke-width="0.9"/>
<line x1="48.2" y1="657.93" x2="50" y2="657.93" stroke="#4a4a4a" stroke-width="0.9"/>
<line x1="48.2" y1="651.34" x2="50" y2="651.34" stroke="#4a4a4a" stroke-width="0.9"/>
<line x1="48.2" y1="644.75" x2="50" y2="644.75" stroke="#4a4a4a" stroke-width="0.9"/>
<line x1="48.2" y1="638.16" x2="50" y2="638.16" stroke="#4a4a4a" stroke-width="0.9"/>
<line x1="48.2" y1="631.57" x2="50" y2="631.57" stroke="#4a4a4a" stroke-width="0.9"/>
<line x1="48.2" y1="624.98" x2="50" y2="624.98" stroke="#4a4a4a" stroke-width="0.9"/>
<line x1="48.2" y1="618.39" x2="50" y2="618.39" stroke="#4a4a4a" stroke-width="0.9"/>
<line x1="48.2" y1="611.8" x2="50" y2="611.8" stroke="#4a4a4a" stroke-width="0.9"/>
<line x1="48.2" y1="605.21" x2="50" y2="605.21" stroke="#4a4a4a" stroke-width="0.9"/>
<line x1="48.2" y1="598.62" x2="50" y2="598.62" stroke="#4a4a4a" stroke-width="0.9"/>
<line x1="48.2" y1="592.03" x2="50" y2="592.03" stroke="#4a4a4a" stroke-width="0.9"/>
<line x1="48.2" y1="585.44" x2="50" y2="585.44" stroke="#4a4a4a" stroke-width="0.9"/>
<line x1="48.2" y1="578.85" x2="50" y2="578.85" stroke="#4a4a4a" stroke-width="0.9"/>
<line x1="48.2" y1="572.26" x2="50" y2="572.26" stroke="#4a4a4a" stroke-width="0.9"/>
<line x1="48.2" y1="565.67" x2="50" y2="565.67" stroke="#4a4a4a" stroke-width="0.9"/>
<line x1="48.2" y1="559.08" x2="50" y2="559.08" stroke="#4a4a4a" stroke-width="0.9"/>
<line x1="48.2" y1="552.49" x2="50" y2="552.49" stroke="#4a4a4a" stroke-width="0.9"/>
<line x1="48.2" y1="545.9" x2="50" y2="545.9" stroke="#4a4a4a" stroke-width="0.9"/>
<line x1="48.2" y1="539.31" x2="50" y2="539.31" stroke="#4a4a4a" stroke-width="0.9"/>
<line x1="45.6" y1="677.7" x2="50" y2="677.7" stroke="#4a4a4a" stroke-width="1.1"/>
<text x="44.6" y="680.6" text-anchor="end" fill="#111" style="font-size:7.8px;stroke-width:0.12px">0</text>
<line x1="45.6" y1="651.34" x2="50" y2="651.34" stroke="#4a4a4a" stroke-width="1.1"/>
<text x="44.6" y="654.24" text-anchor="end" fill="#111" style="font-size:7.8px;stroke-width:0.12px">200</text>
<line x1="45.6" y1="624.98" x2="50" y2="624.98" stroke="#4a4a4a" stroke-width="1.1"/>
<text x="44.6" y="627.88" text-anchor="end" fill="#111" style="font-size:7.8px;stroke-width:0.12px">400</text>
<line x1="45.6" y1="598.62" x2="50" y2="598.62" stroke="#4a4a4a" stroke-width="1.1"/>
<text x="44.6" y="601.52" text-anchor="end" fill="#111" style="font-size:7.8px;stroke-width:0.12px">600</text>
<line x1="45.6" y1="572.26" x2="50" y2="572.26" stroke="#4a4a4a" stroke-width="1.1"/>
<text x="44.6" y="575.16" text-anchor="end" fill="#111" style="font-size:7.8px;stroke-width:0.12px">800</text>
<line x1="45.6" y1="545.9" x2="50" y2="545.9" stroke="#4a4a4a" stroke-width="1.1"/>
<text x="44.6" y="548.8" text-anchor="end" fill="#111" style="font-size:7.8px;stroke-width:0.12px">1.0K</text>
<line x1="50" y1="677.7" x2="50" y2="681.3" stroke="#4a4a4a" stroke-width="1.1"/>
<text x="50" y="689.1" text-anchor="middle" fill="#111" style="font-size:7.8px;stroke-width:0.12px">0</text>
<line x1="60.2" y1="677.7" x2="60.2" y2="679.5" stroke="#4a4a4a" stroke-width="0.9"/>
<line x1="70.4" y1="677.7" x2="70.4" y2="679.5" stroke="#4a4a4a" stroke-width="0.9"/>
<line x1="80.6" y1="677.7" x2="80.6" y2="679.5" stroke="#4a4a4a" stroke-width="0.9"/>
<line x1="90.8" y1="677.7" x2="90.8" y2="681.3" stroke="#4a4a4a" stroke-width="1.1"/>
<text x="90.8" y="689.1" text-anchor="middle" fill="#111" style="font-size:7.8px;stroke-width:0.12px">200</text>
<line x1="101" y1="677.7" x2="101" y2="679.5" stroke="#4a4a4a" stroke-width="0.9"/>
<line x1="111.2" y1="677.7" x2="111.2" y2="679.5" stroke="#4a4a4a" stroke-width="0.9"/>
<line x1="121.4" y1="677.7" x2="121.4" y2="679.5" stroke="#4a4a4a" stroke-width="0.9"/>
<line x1="131.6" y1="677.7" x2="131.6" y2="681.3" stroke="#4a4a4a" stroke-width="1.1"/>
<text x="131.6" y="689.1" text-anchor="middle" fill="#111" style="font-size:7.8px;stroke-width:0.12px">400</text>
<line x1="141.8" y1="677.7" x2="141.8" y2="679.5" stroke="#4a4a4a" stroke-width="0.9"/>
<line x1="152" y1="677.7" x2="152" y2="679.5" stroke="#4a4a4a" stroke-width="0.9"/>
<line x1="162.2" y1="677.7" x2="162.2" y2="679.5" stroke="#4a4a4a" stroke-width="0.9"/>
<line x1="172.4" y1="677.7" x2="172.4" y2="681.3" stroke="#4a4a4a" stroke-width="1.1"/>
<text x="172.4" y="689.1" text-anchor="middle" fill="#111" style="font-size:7.8px;stroke-width:0.12px">600</text>
<polyline points="50,677.7 50.2,677.7 50.41,677.7 50.61,677.7 50.82,677.7 51.02,677.7 51.22,677.7 51.43,677.7 51.63,677.7 51.84,677.7 52.04,677.7 52.24,677.7 52.45,677.7 52.65,677.7 52.86,677.7 53.06,677.7 53.26,677.7 53.47,677.7 53.67,677.7 53.88,677.7 54.08,677.7 54.28,677.7 54.49,677.7 54.69,677.7 54.9,677.7 55.1,677.7 55.3,677.7 55.51,677.7 55.71,677.7 55.92,677.7 56.12,677.7 56.32,677.7 56.53,677.7 56.73,677.7 56.94,677.7 57.14,677.7 57.34,677.7 57.55,677.7 57.75,677.7 57.96,677.7 58.16,677.7 58.36,677.7 58.57,677.7 58.77,677.7 58.98,677.7 59.18,677.7 59.38,677.7 59.59,677.7 59.79,677.7 60,677.7 60.2,677.7 60.4,677.7 60.61,677.7 60.81,677.7 61.02,677.7 61.22,677.7 61.42,677.7 61.63,677.7 61.83,677.7 62.04,677.7 62.24,677.7 62.44,677.7 62.65,677.7 62.85,677.7 63.06,677.7 63.26,677.7 63.46,677.7 63.67,677.7 63.87,677.7 64.08,677.7 64.28,677.7 64.48,677.7 64.69,677.7 64.89,677.7 65.1,677.7 65.3,677.7 65.5,677.7 65.71,677.7 65.91,677.7 66.12,677.7 66.32,677.7 66.52,677.7 66.73,677.7 66.93,677.7 67.14,677.7 67.34,677.7 67.54,677.7 67.75,677.7 67.95,677.7 68.16,677.7 68.36,677.7 68.56,677.7 68.77,677.7 68.97,677.7 69.18,677.7 69.38,677.7 69.58,677.7 69.79,677.7 69.99,677.7 70.2,677.7 70.4,677.7 70.6,677.7 70.81,677.7 71.01,677.7 71.22,677.7 71.42,677.7 71.62,677.7 71.83,677.7 72.03,677.7 72.24,677.7 72.44,677.7 72.64,677.7 72.85,677.7 73.05,677.7 73.26,677.7 73.46,677.7 73.66,677.7 73.87,677.7 74.07,677.7 74.28,677.7 74.48,677.7 74.68,677.69 74.89,677.69 75.09,677.69 75.3,677.69 75.5,677.68 75.7,677.68 75.91,677.67 76.11,677.66 76.32,677.64 76.52,677.62 76.72,677.6 76.93,677.57 77.13,677.53 77.34,677.48 77.54,677.42 77.74,677.34 77.95,677.24 78.15,677.12 78.36,676.97 78.56,676.78 78.76,676.55 78.97,676.27 79.17,675.94 79.38,675.53 79.58,675.05 79.78,674.47 79.99,673.79 80.19,672.99 80.4,672.05 80.6,670.97 80.8,669.71 81.01,668.27 81.21,666.63 81.42,664.76 81.62,662.66 81.82,660.31 82.03,657.69 82.23,654.79 82.44,651.61 82.64,648.14 82.84,644.37 83.05,640.31 83.25,635.98 83.46,631.38 83.66,626.54 83.86,621.47 84.07,616.22 84.27,610.82 84.48,605.32 84.68,599.76 84.88,594.2 85.09,588.7 85.29,583.32 85.5,578.13 85.7,573.18 85.9,568.55 86.11,564.29 86.31,560.47 86.52,557.13 86.72,554.33 86.92,552.11 87.13,550.5 87.33,549.52 87.54,549.2 87.74,549.99 87.94,552.33 88.15,556.14 88.35,561.28 88.56,567.57 88.76,574.8 88.96,582.74 89.17,591.13 89.37,599.76 89.58,607.57 89.78,614.82 89.98,621.48 90.19,627.57 90.39,633.14 90.6,638.27 90.8,643.07 91,647.47 91.21,651.32 91.41,654.65 91.62,657.47 91.82,659.84 92.02,661.81 92.23,663.41 92.43,664.71 92.64,665.72 92.84,666.49 93.04,667.08 93.25,667.54 93.45,667.91 93.66,668.21 93.86,668.45 94.06,668.66 94.27,668.84 94.47,669.01 94.68,669.16 94.88,669.3 95.08,669.44 95.29,669.57 95.49,669.69 95.7,669.81 95.9,669.92 96.1,670.02 96.31,670.12 96.51,670.2 96.72,670.26 96.92,670.32 97.12,670.36 97.33,670.4 97.53,670.43 97.74,670.46 97.94,670.48 98.14,670.49 98.35,670.5 98.55,670.51 98.76,670.51 98.96,670.51 99.16,670.5 99.37,670.49 99.57,670.48 99.78,670.47 99.98,670.45 100.18,670.43 100.39,670.4 100.59,670.38 100.8,670.35 101,670.32 101.2,670.29 101.41,670.25 101.61,670.21 101.82,670.17 102.02,670.13 102.22,670.08 102.43,670.03 102.63,669.98 102.84,669.92 103.04,669.87 103.24,669.81 103.45,669.75 103.65,669.69 103.86,669.63 104.06,669.56 104.26,669.5 104.47,669.44 104.67,669.37 104.88,669.31 105.08,669.25 105.28,669.18 105.49,669.12 105.69,669.06 105.9,669 106.1,668.94 106.3,668.88 106.51,668.82 106.71,668.76 106.92,668.7 107.12,668.64 107.32,668.58 107.53,668.51 107.73,668.45 107.94,668.38 108.14,668.31 108.34,668.24 108.55,668.17 108.75,668.1 108.96,668.02 109.16,667.95 109.36,667.86 109.57,667.75 109.77,667.64 109.98,667.51 110.18,667.39 110.38,667.27 110.59,667.16 110.79,667.06 111,666.98 111.2,666.92 111.4,666.89 111.61,666.9 111.81,666.94 112.02,667.01 112.22,667.1 112.42,667.2 112.63,667.31 112.83,667.42 113.04,667.52 113.24,667.6 113.44,667.66 113.65,667.69 113.85,667.68 114.06,667.66 114.26,667.63 114.46,667.6 114.67,667.57 114.87,667.53 115.08,667.49 115.28,667.43 115.48,667.36 115.69,667.28 115.89,667.18 116.1,667.06 116.3,666.92 116.5,666.76 116.71,666.57 116.91,666.35 117.12,666.1 117.32,665.8 117.52,665.42 117.73,664.97 117.93,664.48 118.14,663.95 118.34,663.4 118.54,662.84 118.75,662.27 118.95,661.73 119.16,661.21 119.36,660.73 119.56,660.3 119.77,659.89 119.97,659.44 120.18,658.97 120.38,658.49 120.58,658.01 120.79,657.53 120.99,657.06 121.2,656.62 121.4,656.21 121.6,655.84 121.81,655.53 122.01,655.27 122.22,655.08 122.42,654.98 122.62,654.95 122.83,655.03 123.03,655.22 123.24,655.52 123.44,655.93 123.64,656.42 123.85,656.99 124.05,657.62 124.26,658.31 124.46,659.04 124.66,659.8 124.87,660.57 125.07,661.35 125.28,662.12 125.48,662.87 125.68,663.58 125.89,664.26 126.09,664.92 126.3,665.61 126.5,666.32 126.7,667.05 126.91,667.78 127.11,668.52 127.32,669.25 127.52,669.98 127.72,670.68 127.93,671.37 128.13,672.02 128.34,672.64 128.54,673.22 128.74,673.75 128.95,674.22 129.15,674.65 129.36,675.04 129.56,675.39 129.76,675.7 129.97,675.98 130.17,676.24 130.38,676.48 130.58,676.7 130.78,676.91 130.99,677.11 131.19,677.3 131.4,677.47 131.6,677.58 131.8,677.64 132.01,677.68 132.21,677.68 132.42,677.68 132.62,677.69 132.82,677.7 133.03,677.7 133.23,677.7 133.44,677.7 133.64,677.7 133.84,677.7 134.05,677.7 134.25,677.7 134.46,677.7 134.66,677.7 134.86,677.7 135.07,677.7 135.27,677.7 135.48,677.7 135.68,677.7 135.88,677.7 136.09,677.7 136.29,677.7 136.5,677.7 136.7,677.7 136.9,677.7 137.11,677.7 137.31,677.7 137.52,677.7 137.72,677.7 137.92,677.7 138.13,677.7 138.33,677.7 138.54,677.7 138.74,677.7 138.94,677.7 139.15,677.7 139.35,677.7 139.56,677.7 139.76,677.7 139.96,677.7 140.17,677.7 140.37,677.7 140.58,677.7 140.78,677.7 140.98,677.7 141.19,677.7 141.39,677.7 141.6,677.7 141.8,677.7 142,677.7 142.21,677.7 142.41,677.7 142.62,677.7 142.82,677.7 143.02,677.7 143.23,677.7 143.43,677.7 143.64,677.7 143.84,677.7 144.04,677.7 144.25,677.7 144.45,677.7 144.66,677.7 144.86,677.7 145.06,677.7 145.27,677.7 145.47,677.7 145.68,677.7 145.88,677.7 146.08,677.7 146.29,677.7 146.49,677.7 146.7,677.7 146.9,677.7 147.1,677.7 147.31,677.7 147.51,677.7 147.72,677.7 147.92,677.7 148.12,677.7 148.33,677.7 148.53,677.7 148.74,677.7 148.94,677.7 149.14,677.7 149.35,677.7 149.55,677.7 149.76,677.7 149.96,677.7 150.16,677.7 150.37,677.7 150.57,677.7 150.78,677.7 150.98,677.7 151.18,677.7 151.39,677.7 151.59,677.7 151.8,677.7 152,677.7 152.2,677.7 152.41,677.7 152.61,677.7 152.82,677.7 153.02,677.7 153.22,677.7 153.43,677.7 153.63,677.7 153.84,677.7 154.04,677.7 154.24,677.7 154.45,677.7 154.65,677.7 154.86,677.7 155.06,677.7 155.26,677.7 155.47,677.7 155.67,677.7 155.88,677.7 156.08,677.7 156.28,677.7 156.49,677.7 156.69,677.7 156.9,677.7 157.1,677.7 157.3,677.7 157.51,677.7 157.71,677.7 157.92,677.7 158.12,677.7 158.32,677.7 158.53,677.7 158.73,677.7 158.94,677.7 159.14,677.7 159.34,677.7 159.55,677.7 159.75,677.7 159.96,677.7 160.16,677.7 160.36,677.7 160.57,677.7 160.77,677.7 160.98,677.7 161.18,677.7 161.38,677.7 161.59,677.7 161.79,677.7 162,677.7 162.2,677.7 162.4,677.7 162.61,677.7 162.81,677.7 163.02,677.7 163.22,677.7 163.42,677.7 163.63,677.7 163.83,677.7 164.04,677.7 164.24,677.7 164.44,677.7 164.65,677.7 164.85,677.7 165.06,677.7 165.26,677.7 165.46,677.7 165.67,677.7 165.87,677.7 166.08,677.7 166.28,677.7 166.48,677.7 166.69,677.7 166.89,677.7 167.1,677.7 167.3,677.7 167.5,677.7 167.71,677.7 167.91,677.7 168.12,677.7 168.32,677.7 168.52,677.7 168.73,677.7 168.93,677.7 169.14,677.7 169.34,677.7 169.54,677.7 169.75,677.7 169.95,677.7 170.16,677.7 170.36,677.7 170.56,677.7 170.77,677.7 170.97,677.7 171.18,677.7 171.38,677.7 171.58,677.7 171.79,677.7 171.99,677.7 172.2,677.7 172.4,677.7 172.6,677.7 172.81,677.7 173.01,677.7 173.22,677.7 173.42,677.7 173.62,677.7 173.83,677.7 174.03,677.7 174.24,677.7 174.44,677.7 174.64,677.7 174.85,677.7 175.05,677.7 175.26,677.7 175.46,677.7 175.66,677.7 175.87,677.7 176.07,677.7 176.28,677.7 176.48,677.7 176.68,677.7 176.89,677.7 177.09,677.7 177.3,677.7 177.5,677.7 177.7,677.7 177.91,677.7 178.11,677.7 178.32,677.7 178.52,677.7 178.72,677.7 178.93,677.7 179.13,677.7 179.34,677.7 179.54,677.7 179.74,677.7 179.95,677.7 180.15,677.7 180.36,677.7 180.56,677.7 180.76,677.7 180.97,677.7 181.17,677.7" fill="none" stroke="#111" stroke-width="1.1" stroke-linejoin="round"/>
<polyline points="50,677.7 50.2,677.7 50.41,677.7 50.61,677.7 50.82,677.7 51.02,677.7 51.22,677.7 51.43,677.7 51.63,677.7 51.84,677.7 52.04,677.7 52.24,677.7 52.45,677.7 52.65,677.7 52.86,677.7 53.06,677.7 53.26,677.7 53.47,677.7 53.67,677.7 53.88,677.7 54.08,677.7 54.28,677.7 54.49,677.7 54.69,677.7 54.9,677.7 55.1,677.7 55.3,677.7 55.51,677.7 55.71,677.7 55.92,677.7 56.12,677.7 56.32,677.7 56.53,677.7 56.73,677.7 56.94,677.7 57.14,677.7 57.34,677.7 57.55,677.7 57.75,677.7 57.96,677.7 58.16,677.7 58.36,677.7 58.57,677.7 58.77,677.7 58.98,677.7 59.18,677.7 59.38,677.7 59.59,677.7 59.79,677.7 60,677.7 60.2,677.7 60.4,677.7 60.61,677.7 60.81,677.7 61.02,677.7 61.22,677.7 61.42,677.7 61.63,677.7 61.83,677.7 62.04,677.7 62.24,677.7 62.44,677.7 62.65,677.7 62.85,677.7 63.06,677.7 63.26,677.7 63.46,677.7 63.67,677.7 63.87,677.7 64.08,677.7 64.28,677.7 64.48,677.7 64.69,677.7 64.89,677.7 65.1,677.7 65.3,677.7 65.5,677.7 65.71,677.7 65.91,677.7 66.12,677.7 66.32,677.7 66.52,677.7 66.73,677.7 66.93,677.7 67.14,677.7 67.34,677.7 67.54,677.7 67.75,677.7 67.95,677.7 68.16,677.7 68.36,677.7 68.56,677.7 68.77,677.7 68.97,677.7 69.18,677.7 69.38,677.7 69.58,677.7 69.79,677.7 69.99,677.7 70.2,677.7 70.4,677.7 70.6,677.7 70.81,677.7 71.01,677.7 71.22,677.7 71.42,677.7 71.62,677.7 71.83,677.7 72.03,677.7 72.24,677.7 72.44,677.7 72.64,677.7 72.85,677.7 73.05,677.7 73.26,677.7 73.46,677.7 73.66,677.7 73.87,677.7 74.07,677.7 74.28,677.7 74.48,677.7 74.68,677.7 74.89,677.7 75.09,677.7 75.3,677.7 75.5,677.7 75.7,677.7 75.91,677.7 76.11,677.7 76.32,677.7 76.52,677.7 76.72,677.7 76.93,677.7 77.13,677.7 77.34,677.7 77.54,677.7 77.74,677.7 77.95,677.7 78.15,677.7 78.36,677.7 78.56,677.7 78.76,677.7 78.97,677.69 79.17,677.69 79.38,677.68 79.58,677.67 79.78,677.65 79.99,677.63 80.19,677.6 80.4,677.55 80.6,677.48 80.8,677.38 81.01,677.24 81.21,677.05 81.42,676.78 81.62,676.43 81.82,675.96 82.03,675.34 82.23,674.53 82.44,673.49 82.64,672.18 82.84,670.54 83.05,668.51 83.25,666.04 83.46,663.07 83.66,659.54 83.86,655.41 84.07,650.64 84.27,645.21 84.48,639.13 84.68,632.4 84.88,625.09 85.09,617.28 85.29,609.07 85.5,600.6 85.7,592.04 85.9,583.58 86.11,575.43 86.31,567.79 86.52,560.88 86.72,554.91 86.92,550.05 87.13,546.47 87.33,544.27 87.54,543.53 87.74,544.27 87.94,546.47 88.15,550.05 88.35,554.91 88.56,560.88 88.76,567.79 88.96,575.43 89.17,583.58 89.37,592.04 89.58,599.81 89.78,607.14 89.98,614 90.19,620.4 90.39,626.37 90.6,631.97 90.8,637.3 91,642.27 91.21,646.71 91.41,650.61 91.62,654.01 91.82,656.92 92.02,659.38 92.23,661.44 92.43,663.13 92.64,664.49 92.84,665.57 93.04,666.41 93.25,667.08 93.45,667.62 93.66,668.05 93.86,668.4 94.06,669.21 94.27,668.86 94.47,669.27 94.68,669.51 94.88,669.57 95.08,669.26 95.29,670.04 95.49,669.97 95.7,670.16 95.9,670.1 96.1,670.64 96.31,670.59 96.51,670.35 96.72,670.16 96.92,670.11 97.12,670.64 97.33,670.66 97.53,670.72 97.74,671.03 97.94,671.16 98.14,670.75 98.35,670.72 98.55,670.79 98.76,670.53 98.96,670.91 99.16,670.71 99.37,670.75 99.57,670.77 99.78,670.64 99.98,670.65 100.18,670.62 100.39,670.59 100.59,670.2 100.8,670.53 101,670.33 101.2,670.33 101.41,670.5 101.61,670.28 101.82,670.53 102.02,670.14 102.22,670.39 102.43,670.37 102.63,670.15 102.84,669.92 103.04,669.77 103.24,669.68 103.45,669.84 103.65,670 103.86,669.69 104.06,669.59 104.26,669.77 104.47,669.37 104.67,669.35 104.88,669.54 105.08,669.26 105.28,669.49 105.49,669.43 105.69,669.08 105.9,669.34 106.1,669.04 106.3,669.19 106.51,668.76 106.71,668.88 106.92,668.68 107.12,668.93 107.32,668.73 107.53,668.34 107.73,668.26 107.94,668.68 108.14,668.18 108.34,667.96 108.55,668.1 108.75,667.71 108.96,668.04 109.16,667.88 109.36,667.48 109.57,667.18 109.77,666.96 109.98,667.27 110.18,667.39 110.38,666.85 110.59,666.94 110.79,666.6 111,666.67 111.2,666.15 111.4,666.02 111.61,666.06 111.81,666.24 112.02,666.37 112.22,666.57 112.42,666.6 112.63,666.74 112.83,666.86 113.04,667.21 113.24,666.94 113.44,667.31 113.65,667.3 113.85,667.4 114.06,668.03 114.26,668.59 114.46,668.3 114.67,668.66 114.87,668.73 115.08,668.79 115.28,668.64 115.48,668.79 115.69,668.51 115.89,668.37 116.1,668.08 116.3,668.33 116.5,667.56 116.71,667.21 116.91,667.31 117.12,666.91 117.32,666.34 117.52,665.73 117.73,665.34 117.93,664.58 118.14,664.27 118.34,664.04 118.54,663.55 118.75,662.74 118.95,662.43 119.16,661.69 119.36,661.11 119.56,660.74 119.77,660.26 119.97,660.07 120.18,659.69 120.38,659.4 120.58,659.04 120.79,658.86 120.99,658.34 121.2,658.05 121.4,657.41 121.6,657.13 121.81,656.9 122.01,656.73 122.22,656.61 122.42,656.56 122.62,656.58 122.83,656.66 123.03,656.8 123.24,656.99 123.44,657.23 123.64,657.52 123.85,657.84 124.05,658.19 124.26,658.58 124.46,658.98 124.66,659.45 124.87,660 125.07,660.61 125.28,661.27 125.48,661.96 125.68,662.67 125.89,663.38 126.09,664.06 126.3,664.71 126.5,665.31 126.7,665.84 126.91,666.32 127.11,666.78 127.32,667.23 127.52,667.66 127.72,668.08 127.93,668.49 128.13,668.89 128.34,669.28 128.54,669.66 128.74,670.03 128.95,670.39 129.15,670.75 129.36,671.11 129.56,671.46 129.76,671.81 129.97,672.16 130.17,672.51 130.38,672.86 130.58,673.21 130.78,673.55 130.99,673.89 131.19,674.23 131.4,674.56 131.6,674.88 131.8,675.19 132.01,675.49 132.21,675.78 132.42,676.06 132.62,676.33 132.82,676.58 133.03,676.82 133.23,677.04 133.44,677.23 133.64,677.37 133.84,677.48 134.05,677.55 134.25,677.6 134.46,677.62 134.66,677.64 134.86,677.66 135.07,677.67 135.27,677.7 135.48,677.7 135.68,677.7 135.88,677.7 136.09,677.7 136.29,677.7 136.5,677.7 136.7,677.7 136.9,677.7 137.11,677.7 137.31,677.7 137.52,677.7 137.72,677.7 137.92,677.7 138.13,677.7 138.33,677.7 138.54,677.7 138.74,677.7 138.94,677.7 139.15,677.7 139.35,677.7 139.56,677.7 139.76,677.7 139.96,677.7 140.17,677.7 140.37,677.7 140.58,677.7 140.78,677.7 140.98,677.7 141.19,677.7 141.39,677.7 141.6,677.7 141.8,677.7 142,677.7 142.21,677.7 142.41,677.7 142.62,677.7 142.82,677.7 143.02,677.7 143.23,677.7 143.43,677.7 143.64,677.7 143.84,677.7 144.04,677.7 144.25,677.7 144.45,677.7 144.66,677.7 144.86,677.7 145.06,677.7 145.27,677.7 145.47,677.7 145.68,677.7 145.88,677.7 146.08,677.7 146.29,677.7 146.49,677.7 146.7,677.7 146.9,677.7 147.1,677.7 147.31,677.7 147.51,677.7 147.72,677.7 147.92,677.7 148.12,677.7 148.33,677.7 148.53,677.7 148.74,677.7 148.94,677.7 149.14,677.7 149.35,677.7 149.55,677.7 149.76,677.7 149.96,677.7 150.16,677.7 150.37,677.7 150.57,677.7 150.78,677.7 150.98,677.7 151.18,677.7 151.39,677.7 151.59,677.7 151.8,677.7 152,677.7 152.2,677.7 152.41,677.7 152.61,677.7 152.82,677.7 153.02,677.7 153.22,677.7 153.43,677.7 153.63,677.7 153.84,677.7 154.04,677.7 154.24,677.7 154.45,677.7 154.65,677.7 154.86,677.7 155.06,677.7 155.26,677.7 155.47,677.7 155.67,677.7 155.88,677.7 156.08,677.7 156.28,677.7 156.49,677.7 156.69,677.7 156.9,677.7 157.1,677.7 157.3,677.7 157.51,677.7 157.71,677.7 157.92,677.7 158.12,677.7 158.32,677.7 158.53,677.7 158.73,677.7 158.94,677.7 159.14,677.7 159.34,677.7 159.55,677.7 159.75,677.7 159.96,677.7 160.16,677.7 160.36,677.7 160.57,677.7 160.77,677.7 160.98,677.7 161.18,677.7 161.38,677.7 161.59,677.7 161.79,677.7 162,677.7 162.2,677.7 162.4,677.7 162.61,677.7 162.81,677.7 163.02,677.7 163.22,677.7 163.42,677.7 163.63,677.7 163.83,677.7 164.04,677.7 164.24,677.7 164.44,677.7 164.65,677.7 164.85,677.7 165.06,677.7 165.26,677.7 165.46,677.7 165.67,677.7 165.87,677.7 166.08,677.7 166.28,677.7 166.48,677.7 166.69,677.7 166.89,677.7 167.1,677.7 167.3,677.7 167.5,677.7 167.71,677.7 167.91,677.7 168.12,677.7 168.32,677.7 168.52,677.7 168.73,677.7 168.93,677.7 169.14,677.7 169.34,677.7 169.54,677.7 169.75,677.7 169.95,677.7 170.16,677.7 170.36,677.7 170.56,677.7 170.77,677.7 170.97,677.7 171.18,677.7 171.38,677.7 171.58,677.7 171.79,677.7 171.99,677.7 172.2,677.7 172.4,677.7 172.6,677.7 172.81,677.7 173.01,677.7 173.22,677.7 173.42,677.7 173.62,677.7 173.83,677.7 174.03,677.7 174.24,677.7 174.44,677.7 174.64,677.7 174.85,677.7 175.05,677.7 175.26,677.7 175.46,677.7 175.66,677.7 175.87,677.7 176.07,677.7 176.28,677.7 176.48,677.7 176.68,677.7 176.89,677.7 177.09,677.7 177.3,677.7 177.5,677.7 177.7,677.7 177.91,677.7 178.11,677.7 178.32,677.7 178.52,677.7 178.72,677.7 178.93,677.7 179.13,677.7 179.34,677.7 179.54,677.7 179.74,677.7 179.95,677.7 180.15,677.7 180.36,677.7 180.56,677.7 180.76,677.7 180.97,677.7 181.17,677.7" fill="none" stroke="#ff1cff" stroke-width="1.7" stroke-linejoin="round"/>
<text x="115.4" y="556.3" text-anchor="start" fill="#111" style="font-size:7.8px;stroke-width:0.12px">RMS: 2.74</text>
<text x="115.4" y="565.6" text-anchor="start" fill="#111" style="font-size:7.8px;stroke-width:0.12px">% G0/G1 : 52.6</text>
<text x="115.4" y="574.9" text-anchor="start" fill="#111" style="font-size:7.8px;stroke-width:0.12px">% S : 38.5</text>
<text x="115.4" y="584.2" text-anchor="start" fill="#111" style="font-size:7.8px;stroke-width:0.12px">% G2/M : 9.11</text>
<text x="115.4" y="593.5" text-anchor="start" fill="#111" style="font-size:7.8px;stroke-width:0.12px">G2/G1 = 2.0</text>
<text x="115.4" y="602.8" text-anchor="start" fill="#111" style="font-size:7.8px;stroke-width:0.12px">G1 CV : 5.84</text>
<text x="115.4" y="612.1" text-anchor="start" fill="#111" style="font-size:7.8px;stroke-width:0.12px">G2 CV : 5.83</text>
<g style="isolation:isolate">
<path d="M251.06 677.6 L251.06 676.6 L251.26 675.25 L251.45 673.64 L251.65 671.85 L251.85 669.94 L252.05 668 L252.25 666.1 L252.45 664.33 L252.65 662.75 L252.85 661.45 L253.05 660.32 L253.25 659.25 L253.45 658.22 L253.65 657.26 L253.85 656.36 L254.05 655.54 L254.25 654.79 L254.45 654.13 L254.65 653.56 L254.85 653.09 L255.05 652.72 L255.25 652.47 L255.45 652.29 L255.65 652.12 L255.85 651.97 L256.05 651.84 L256.25 651.73 L256.45 651.63 L256.65 651.55 L256.85 651.48 L257.05 651.43 L257.25 651.39 L257.45 651.36 L257.65 651.34 L257.85 651.33 L258.05 651.33 L258.25 651.34 L258.45 651.36 L258.65 651.38 L258.85 651.42 L259.05 651.45 L259.25 651.49 L259.45 651.54 L259.65 651.58 L259.85 651.63 L260.05 651.69 L260.25 651.74 L260.45 651.79 L260.65 651.84 L260.85 651.89 L261.05 651.93 L261.25 651.98 L261.44 652.01 L261.64 652.05 L261.84 652.07 L262.04 652.09 L262.24 652.11 L262.44 652.11 L262.64 652.11 L262.84 652.12 L263.04 652.14 L263.24 652.15 L263.44 652.17 L263.64 652.2 L263.84 652.23 L264.04 652.26 L264.24 652.29 L264.44 652.33 L264.64 652.37 L264.84 652.41 L265.04 652.45 L265.24 652.49 L265.44 652.53 L265.64 652.57 L265.84 652.61 L266.04 652.65 L266.24 652.69 L266.44 652.73 L266.64 652.76 L266.84 652.79 L267.04 652.82 L267.24 652.85 L267.44 652.87 L267.64 652.89 L267.84 652.9 L268.04 652.91 L268.24 652.91 L268.44 652.91 L268.64 652.9 L268.84 652.88 L269.04 652.86 L269.24 652.83 L269.44 652.79 L269.64 652.74 L269.84 652.69 L270.04 652.63 L270.24 652.55 L270.44 652.47 L270.64 652.38 L270.84 652.28 L271.04 652.18 L271.24 652.06 L271.44 651.95 L271.63 651.82 L271.83 651.69 L272.03 651.56 L272.23 651.42 L272.43 651.27 L272.63 651.12 L272.83 650.97 L273.03 650.81 L273.23 650.65 L273.43 650.48 L273.63 650.31 L273.83 650.14 L274.03 649.96 L274.23 649.78 L274.43 649.59 L274.63 649.41 L274.83 649.22 L275.03 649.03 L275.23 648.84 L275.43 648.64 L275.63 648.45 L275.83 648.25 L276.03 648.05 L276.23 647.85 L276.43 647.65 L276.63 647.45 L276.83 647.25 L277.03 647.05 L277.23 646.85 L277.43 646.66 L277.63 646.46 L277.83 646.26 L278.03 646.06 L278.23 645.87 L278.43 645.68 L278.63 645.49 L278.83 645.3 L279.03 645.11 L279.23 644.93 L279.43 644.75 L279.63 644.57 L279.83 644.39 L280.03 644.21 L280.23 644.03 L280.43 643.84 L280.63 643.65 L280.83 643.45 L281.03 643.26 L281.23 643.06 L281.43 642.86 L281.62 642.65 L281.82 642.45 L282.02 642.24 L282.22 642.03 L282.42 641.83 L282.62 641.62 L282.82 641.41 L283.02 641.19 L283.22 640.98 L283.42 640.77 L283.62 640.56 L283.82 640.35 L284.02 640.14 L284.22 639.93 L284.42 639.72 L284.62 639.52 L284.82 639.31 L285.02 639.11 L285.22 638.91 L285.42 638.71 L285.62 638.51 L285.82 638.32 L286.02 638.13 L286.22 637.94 L286.42 637.75 L286.62 637.57 L286.82 637.4 L287.02 637.22 L287.22 637.05 L287.42 636.89 L287.62 636.73 L287.82 636.57 L288.02 636.42 L288.22 636.28 L288.42 636.14 L288.62 636 L288.82 635.87 L289.02 635.75 L289.22 635.63 L289.42 635.52 L289.62 635.42 L289.82 635.33 L290.02 635.24 L290.22 635.16 L290.42 635.1 L290.62 635.06 L290.82 635.04 L291.02 635.05 L291.22 635.07 L291.42 635.12 L291.61 635.19 L291.81 635.29 L292.01 635.42 L292.21 635.58 L292.41 635.76 L292.61 635.98 L292.81 636.23 L293.01 636.51 L293.21 636.83 L293.41 637.18 L293.61 637.57 L293.81 638 L294.01 638.47 L294.21 638.99 L294.41 639.57 L294.61 640.21 L294.81 640.91 L295.01 641.66 L295.21 642.46 L295.41 643.31 L295.61 644.21 L295.81 645.16 L296.01 646.15 L296.21 647.17 L296.41 648.24 L296.61 649.34 L296.81 650.47 L297.01 651.64 L297.21 652.83 L297.41 654.16 L297.61 655.71 L297.81 657.43 L298.01 659.27 L298.21 661.19 L298.41 663.13 L298.61 665.05 L298.81 666.9 L299.01 668.62 L299.21 670.33 L299.41 672.09 L299.61 673.79 L299.81 675.34 L300.01 676.65 L300.01 677.6Z" fill="#dfe4a0" style="mix-blend-mode:multiply"/>
<path d="M242.86 677.6 L242.86 677.58 L243.06 677.57 L243.26 677.56 L243.46 677.55 L243.66 677.53 L243.86 677.51 L244.06 677.47 L244.26 677.43 L244.46 677.37 L244.66 677.29 L244.86 677.19 L245.06 677.06 L245.26 676.89 L245.46 676.68 L245.66 676.42 L245.86 676.08 L246.06 675.67 L246.26 675.17 L246.46 674.55 L246.66 673.81 L246.86 672.92 L247.06 671.85 L247.26 670.59 L247.46 669.12 L247.66 667.4 L247.86 665.43 L248.06 663.17 L248.26 660.61 L248.46 657.74 L248.66 654.54 L248.86 651.01 L249.06 647.16 L249.26 642.98 L249.46 638.51 L249.66 633.77 L249.86 628.78 L250.06 623.61 L250.26 618.31 L250.46 612.93 L250.66 607.55 L250.86 602.26 L251.06 597.12 L251.26 592.22 L251.45 587.66 L251.65 583.51 L251.85 579.84 L252.05 576.74 L252.25 574.26 L252.45 572.45 L252.65 571.35 L252.85 570.98 L253.05 571.46 L253.25 572.89 L253.45 575.24 L253.65 578.44 L253.85 582.41 L254.05 587.04 L254.25 592.22 L254.45 597.84 L254.65 603.76 L254.85 609.85 L255.05 616.01 L255.25 622.11 L255.45 628.06 L255.65 633.77 L255.85 639.17 L256.05 644.21 L256.25 648.85 L256.45 653.07 L256.65 656.86 L256.85 660.22 L257.05 663.17 L257.25 665.73 L257.45 667.92 L257.65 669.78 L257.85 671.34 L258.05 672.63 L258.25 673.69 L258.45 674.55 L258.65 675.25 L258.85 675.8 L259.05 676.24 L259.25 676.57 L259.45 676.84 L259.65 677.04 L259.85 677.19 L260.05 677.3 L260.25 677.39 L260.45 677.45 L260.65 677.49 L260.85 677.52 L261.05 677.55 L261.25 677.56 L261.44 677.58 L261.44 677.6Z" fill="#a9a9f5" style="mix-blend-mode:multiply"/>
<path d="M285.82 677.6 L285.82 677.58 L286.02 677.58 L286.22 677.57 L286.42 677.57 L286.62 677.56 L286.82 677.55 L287.02 677.54 L287.22 677.52 L287.42 677.51 L287.62 677.49 L287.82 677.47 L288.02 677.44 L288.22 677.41 L288.42 677.38 L288.62 677.34 L288.82 677.29 L289.02 677.23 L289.22 677.17 L289.42 677.1 L289.62 677.02 L289.82 676.92 L290.02 676.82 L290.22 676.7 L290.42 676.56 L290.62 676.41 L290.82 676.23 L291.02 676.04 L291.22 675.83 L291.42 675.59 L291.61 675.33 L291.81 675.05 L292.01 674.74 L292.21 674.39 L292.41 674.02 L292.61 673.62 L292.81 673.19 L293.01 672.72 L293.21 672.22 L293.41 671.69 L293.61 671.13 L293.81 670.53 L294.01 669.91 L294.21 669.25 L294.41 668.57 L294.61 667.86 L294.81 667.13 L295.01 666.37 L295.21 665.6 L295.41 664.82 L295.61 664.03 L295.81 663.23 L296.01 662.43 L296.21 661.64 L296.41 660.86 L296.61 660.09 L296.81 659.35 L297.01 658.63 L297.21 657.94 L297.41 657.29 L297.61 656.69 L297.81 656.13 L298.01 655.63 L298.21 655.19 L298.41 654.8 L298.61 654.48 L298.81 654.23 L299.01 654.05 L299.21 653.94 L299.41 653.91 L299.61 653.94 L299.81 654.02 L300.01 654.17 L300.21 654.38 L300.41 654.63 L300.61 654.95 L300.81 655.31 L301.01 655.73 L301.21 656.19 L301.4 656.69 L301.6 657.23 L301.8 657.81 L302 658.42 L302.2 659.05 L302.4 659.71 L302.6 660.39 L302.8 661.09 L303 661.8 L303.2 662.51 L303.4 663.23 L303.6 663.95 L303.8 664.66 L304 665.37 L304.2 666.07 L304.4 666.75 L304.6 667.42 L304.8 668.07 L305 668.71 L305.2 669.32 L305.4 669.91 L305.6 670.47 L305.8 671.01 L306 671.53 L306.2 672.01 L306.4 672.48 L306.6 672.91 L306.8 673.32 L307 673.7 L307.2 674.06 L307.4 674.39 L307.6 674.7 L307.8 674.99 L308 675.25 L308.2 675.49 L308.4 675.71 L308.6 675.92 L308.8 676.1 L309 676.27 L309.2 676.42 L309.4 676.56 L309.6 676.68 L309.8 676.79 L310 676.89 L310.2 676.98 L310.4 677.06 L310.6 677.13 L310.8 677.19 L311 677.25 L311.2 677.29 L311.39 677.34 L311.59 677.37 L311.79 677.41 L311.99 677.43 L312.19 677.46 L312.19 677.6Z" fill="#a4f2a0" style="mix-blend-mode:multiply"/>
</g>
<line x1="206.5" y1="537.8" x2="206.5" y2="678.2" stroke="#4a4a4a" stroke-width="1.3"/>
<line x1="205.9" y1="677.6" x2="337.1" y2="677.6" stroke="#4a4a4a" stroke-width="1.3"/>
<line x1="204.7" y1="677.6" x2="206.5" y2="677.6" stroke="#4a4a4a" stroke-width="0.9"/>
<line x1="204.7" y1="668.62" x2="206.5" y2="668.62" stroke="#4a4a4a" stroke-width="0.9"/>
<line x1="204.7" y1="659.65" x2="206.5" y2="659.65" stroke="#4a4a4a" stroke-width="0.9"/>
<line x1="204.7" y1="650.68" x2="206.5" y2="650.68" stroke="#4a4a4a" stroke-width="0.9"/>
<line x1="204.7" y1="641.7" x2="206.5" y2="641.7" stroke="#4a4a4a" stroke-width="0.9"/>
<line x1="204.7" y1="632.73" x2="206.5" y2="632.73" stroke="#4a4a4a" stroke-width="0.9"/>
<line x1="204.7" y1="623.75" x2="206.5" y2="623.75" stroke="#4a4a4a" stroke-width="0.9"/>
<line x1="204.7" y1="614.77" x2="206.5" y2="614.77" stroke="#4a4a4a" stroke-width="0.9"/>
<line x1="204.7" y1="605.8" x2="206.5" y2="605.8" stroke="#4a4a4a" stroke-width="0.9"/>
<line x1="204.7" y1="596.83" x2="206.5" y2="596.83" stroke="#4a4a4a" stroke-width="0.9"/>
<line x1="204.7" y1="587.85" x2="206.5" y2="587.85" stroke="#4a4a4a" stroke-width="0.9"/>
<line x1="204.7" y1="578.88" x2="206.5" y2="578.88" stroke="#4a4a4a" stroke-width="0.9"/>
<line x1="204.7" y1="569.9" x2="206.5" y2="569.9" stroke="#4a4a4a" stroke-width="0.9"/>
<line x1="204.7" y1="560.93" x2="206.5" y2="560.93" stroke="#4a4a4a" stroke-width="0.9"/>
<line x1="204.7" y1="551.95" x2="206.5" y2="551.95" stroke="#4a4a4a" stroke-width="0.9"/>
<line x1="204.7" y1="542.98" x2="206.5" y2="542.98" stroke="#4a4a4a" stroke-width="0.9"/>
<line x1="202.1" y1="677.6" x2="206.5" y2="677.6" stroke="#4a4a4a" stroke-width="1.1"/>
<text x="201.1" y="680.5" text-anchor="end" fill="#111" style="font-size:7.8px;stroke-width:0.12px">0</text>
<line x1="202.1" y1="641.7" x2="206.5" y2="641.7" stroke="#4a4a4a" stroke-width="1.1"/>
<text x="201.1" y="644.6" text-anchor="end" fill="#111" style="font-size:7.8px;stroke-width:0.12px">100</text>
<line x1="202.1" y1="605.8" x2="206.5" y2="605.8" stroke="#4a4a4a" stroke-width="1.1"/>
<text x="201.1" y="608.7" text-anchor="end" fill="#111" style="font-size:7.8px;stroke-width:0.12px">200</text>
<line x1="202.1" y1="569.9" x2="206.5" y2="569.9" stroke="#4a4a4a" stroke-width="1.1"/>
<text x="201.1" y="572.8" text-anchor="end" fill="#111" style="font-size:7.8px;stroke-width:0.12px">300</text>
<line x1="206.5" y1="677.6" x2="206.5" y2="681.2" stroke="#4a4a4a" stroke-width="1.1"/>
<text x="206.5" y="689" text-anchor="middle" fill="#111" style="font-size:7.8px;stroke-width:0.12px">0</text>
<line x1="216.49" y1="677.6" x2="216.49" y2="679.4" stroke="#4a4a4a" stroke-width="0.9"/>
<line x1="226.48" y1="677.6" x2="226.48" y2="679.4" stroke="#4a4a4a" stroke-width="0.9"/>
<line x1="236.47" y1="677.6" x2="236.47" y2="679.4" stroke="#4a4a4a" stroke-width="0.9"/>
<line x1="246.46" y1="677.6" x2="246.46" y2="681.2" stroke="#4a4a4a" stroke-width="1.1"/>
<text x="246.46" y="689" text-anchor="middle" fill="#111" style="font-size:7.8px;stroke-width:0.12px">200</text>
<line x1="256.45" y1="677.6" x2="256.45" y2="679.4" stroke="#4a4a4a" stroke-width="0.9"/>
<line x1="266.44" y1="677.6" x2="266.44" y2="679.4" stroke="#4a4a4a" stroke-width="0.9"/>
<line x1="276.43" y1="677.6" x2="276.43" y2="679.4" stroke="#4a4a4a" stroke-width="0.9"/>
<line x1="286.42" y1="677.6" x2="286.42" y2="681.2" stroke="#4a4a4a" stroke-width="1.1"/>
<text x="286.42" y="689" text-anchor="middle" fill="#111" style="font-size:7.8px;stroke-width:0.12px">400</text>
<line x1="296.41" y1="677.6" x2="296.41" y2="679.4" stroke="#4a4a4a" stroke-width="0.9"/>
<line x1="306.4" y1="677.6" x2="306.4" y2="679.4" stroke="#4a4a4a" stroke-width="0.9"/>
<line x1="316.39" y1="677.6" x2="316.39" y2="679.4" stroke="#4a4a4a" stroke-width="0.9"/>
<line x1="326.38" y1="677.6" x2="326.38" y2="681.2" stroke="#4a4a4a" stroke-width="1.1"/>
<text x="326.38" y="689" text-anchor="middle" fill="#111" style="font-size:7.8px;stroke-width:0.12px">600</text>
<line x1="336.37" y1="677.6" x2="336.37" y2="679.4" stroke="#4a4a4a" stroke-width="0.9"/>
<polyline points="206.5,677.6 206.7,677.6 206.9,677.6 207.1,677.6 207.3,677.6 207.5,677.6 207.7,677.6 207.9,677.6 208.1,677.6 208.3,677.6 208.5,677.6 208.7,677.6 208.9,677.6 209.1,677.6 209.3,677.6 209.5,677.6 209.7,677.6 209.9,677.6 210.1,677.6 210.3,677.6 210.5,677.6 210.7,677.6 210.9,677.6 211.1,677.6 211.3,677.6 211.5,677.6 211.69,677.6 211.89,677.6 212.09,677.6 212.29,677.6 212.49,677.6 212.69,677.6 212.89,677.6 213.09,677.6 213.29,677.6 213.49,677.6 213.69,677.6 213.89,677.6 214.09,677.6 214.29,677.6 214.49,677.6 214.69,677.6 214.89,677.6 215.09,677.6 215.29,677.6 215.49,677.6 215.69,677.6 215.89,677.6 216.09,677.6 216.29,677.6 216.49,677.6 216.69,677.6 216.89,677.6 217.09,677.6 217.29,677.6 217.49,677.6 217.69,677.6 217.89,677.6 218.09,677.6 218.29,677.6 218.49,677.6 218.69,677.6 218.89,677.6 219.09,677.6 219.29,677.6 219.49,677.6 219.69,677.6 219.89,677.6 220.09,677.6 220.29,677.6 220.49,677.6 220.69,677.6 220.89,677.6 221.09,677.6 221.29,677.6 221.49,677.6 221.68,677.6 221.88,677.6 222.08,677.6 222.28,677.6 222.48,677.6 222.68,677.6 222.88,677.6 223.08,677.6 223.28,677.6 223.48,677.6 223.68,677.6 223.88,677.6 224.08,677.6 224.28,677.6 224.48,677.6 224.68,677.6 224.88,677.6 225.08,677.6 225.28,677.6 225.48,677.6 225.68,677.6 225.88,677.6 226.08,677.6 226.28,677.6 226.48,677.6 226.68,677.6 226.88,677.6 227.08,677.6 227.28,677.6 227.48,677.6 227.68,677.6 227.88,677.6 228.08,677.6 228.28,677.6 228.48,677.6 228.68,677.6 228.88,677.6 229.08,677.6 229.28,677.6 229.48,677.6 229.68,677.6 229.88,677.6 230.08,677.6 230.28,677.6 230.48,677.6 230.68,677.6 230.88,677.6 231.08,677.6 231.28,677.6 231.47,677.6 231.67,677.6 231.87,677.6 232.07,677.6 232.27,677.6 232.47,677.6 232.67,677.6 232.87,677.6 233.07,677.6 233.27,677.6 233.47,677.6 233.67,677.6 233.87,677.6 234.07,677.6 234.27,677.6 234.47,677.6 234.67,677.6 234.87,677.6 235.07,677.6 235.27,677.59 235.47,677.59 235.67,677.59 235.87,677.59 236.07,677.59 236.27,677.58 236.47,677.58 236.67,677.57 236.87,677.57 237.07,677.56 237.27,677.55 237.47,677.54 237.67,677.53 237.87,677.51 238.07,677.49 238.27,677.47 238.47,677.44 238.67,677.41 238.87,677.37 239.07,677.33 239.27,677.28 239.47,677.22 239.67,677.15 239.87,677.07 240.07,676.97 240.27,676.86 240.47,676.74 240.67,676.59 240.87,676.42 241.07,676.23 241.27,676.01 241.47,675.76 241.66,675.47 241.86,675.15 242.06,674.79 242.26,674.37 242.46,673.91 242.66,673.4 242.86,672.82 243.06,672.17 243.26,671.46 243.46,670.67 243.66,669.79 243.86,668.83 244.06,667.77 244.26,666.62 244.46,665.36 244.66,663.98 244.86,662.5 245.06,660.89 245.26,659.15 245.46,657.29 245.66,655.29 245.86,653.16 246.06,650.89 246.26,648.49 246.46,645.94 246.66,643.26 246.86,640.45 247.06,637.51 247.26,634.44 247.46,631.25 247.66,627.95 247.86,624.55 248.06,621.06 248.26,617.49 248.46,613.85 248.66,610.16 248.86,606.44 249.06,602.7 249.26,598.95 249.46,595.23 249.66,591.55 249.86,587.92 250.06,584.38 250.26,580.94 250.46,577.62 250.66,574.45 250.86,571.44 251.06,568.62 251.26,566 251.45,563.6 251.65,561.44 251.85,559.54 252.05,557.9 252.25,556.55 252.45,555.49 252.65,554.72 252.85,554.26 253.05,554.1 253.25,554.53 253.45,555.81 253.65,557.9 253.85,560.14 254.05,562.95 254.25,566.28 254.45,570.07 254.65,574.23 254.85,578.71 255.05,583.42 255.25,588.29 255.45,593.22 255.65,598.17 255.85,603.06 256.05,607.84 256.25,612.47 256.45,616.83 256.65,620.83 256.85,624.44 257.05,627.66 257.25,630.5 257.45,632.97 257.65,635.08 257.85,636.88 258.05,638.38 258.25,639.62 258.45,640.65 258.65,641.5 258.85,642.22 259.05,642.84 259.25,643.37 259.45,643.82 259.65,644.21 259.85,644.56 260.05,644.86 260.25,645.12 260.45,645.35 260.65,645.56 260.85,645.74 261.05,645.89 261.25,646.01 261.44,646.11 261.64,646.22 261.84,646.33 262.04,646.45 262.24,646.58 262.44,646.71 262.64,646.85 262.84,647 263.04,647.16 263.24,647.32 263.44,647.49 263.64,647.65 263.84,647.82 264.04,647.98 264.24,648.14 264.44,648.29 264.64,648.43 264.84,648.57 265.04,648.69 265.24,648.79 265.44,648.88 265.64,648.96 265.84,649.03 266.04,649.11 266.24,649.18 266.44,649.25 266.64,649.31 266.84,649.37 267.04,649.43 267.24,649.48 267.44,649.52 267.64,649.56 267.84,649.6 268.04,649.62 268.24,649.65 268.44,649.66 268.64,649.66 268.84,649.66 269.04,649.65 269.24,649.63 269.44,649.6 269.64,649.56 269.84,649.51 270.04,649.45 270.24,649.38 270.44,649.3 270.64,649.21 270.84,649.12 271.04,649.02 271.24,648.92 271.44,648.81 271.63,648.69 271.83,648.57 272.03,648.45 272.23,648.33 272.43,648.2 272.63,648.08 272.83,647.95 273.03,647.82 273.23,647.69 273.43,647.57 273.63,647.44 273.83,647.32 274.03,647.21 274.23,647.1 274.43,647 274.63,646.89 274.83,646.79 275.03,646.69 275.23,646.58 275.43,646.47 275.63,646.35 275.83,646.23 276.03,646.1 276.23,645.96 276.43,645.8 276.63,645.64 276.83,645.46 277.03,645.26 277.23,645.05 277.43,644.82 277.63,644.57 277.83,644.31 278.03,644.04 278.23,643.76 278.43,643.47 278.63,643.18 278.83,642.88 279.03,642.57 279.23,642.26 279.43,641.94 279.63,641.62 279.83,641.3 280.03,640.96 280.23,640.63 280.43,640.29 280.63,639.94 280.83,639.6 281.03,639.25 281.23,638.89 281.43,638.54 281.62,638.18 281.82,637.82 282.02,637.45 282.22,637.09 282.42,636.73 282.62,636.36 282.82,635.99 283.02,635.63 283.22,635.26 283.42,634.89 283.62,634.53 283.82,634.16 284.02,633.79 284.22,633.41 284.42,633.03 284.62,632.63 284.82,632.23 285.02,631.83 285.22,631.42 285.42,631 285.62,630.58 285.82,630.16 286.02,629.74 286.22,629.31 286.42,628.89 286.62,628.46 286.82,628.04 287.02,627.61 287.22,627.19 287.42,626.78 287.62,626.36 287.82,625.95 288.02,625.55 288.22,625.15 288.42,624.76 288.62,624.37 288.82,624 289.02,623.63 289.22,623.27 289.42,622.93 289.62,622.59 289.82,622.27 290.02,621.96 290.22,621.64 290.42,621.33 290.62,621 290.82,620.67 291.02,620.34 291.22,620.02 291.42,619.7 291.61,619.4 291.81,619.11 292.01,618.83 292.21,618.57 292.41,618.34 292.61,618.14 292.81,617.96 293.01,617.82 293.21,617.71 293.41,617.64 293.61,617.62 293.81,617.64 294.01,617.71 294.21,617.83 294.41,618.01 294.61,618.25 294.81,618.55 295.01,618.91 295.21,619.34 295.41,619.82 295.61,620.36 295.81,620.94 296.01,621.58 296.21,622.27 296.41,623 296.61,623.78 296.81,624.59 297.01,625.45 297.21,626.34 297.41,627.26 297.61,628.22 297.81,629.2 298.01,630.21 298.21,631.29 298.41,632.46 298.61,633.72 298.81,635.06 299.01,636.46 299.21,637.91 299.41,639.41 299.61,640.93 299.81,642.47 300.01,644.02 300.21,645.56 300.41,647.09 300.61,648.6 300.81,650.06 301.01,651.47 301.21,652.83 301.4,654.16 301.6,655.51 301.8,656.87 302,658.23 302.2,659.59 302.4,660.94 302.6,662.26 302.8,663.55 303,664.81 303.2,666.02 303.4,667.18 303.6,668.28 303.8,669.31 304,670.27 304.2,671.14 304.4,671.93 304.6,672.64 304.8,673.29 305,673.88 305.2,674.41 305.4,674.89 305.6,675.32 305.8,675.7 306,676.05 306.2,676.36 306.4,676.65 306.6,676.91 306.8,677.15 307,677.38 307.2,677.6 307.4,677.6 307.6,677.6 307.8,677.6 308,677.6 308.2,677.6 308.4,677.6 308.6,677.6 308.8,677.6 309,677.6 309.2,677.6 309.4,677.6 309.6,677.6 309.8,677.6 310,677.6 310.2,677.6 310.4,677.6 310.6,677.6 310.8,677.6 311,677.6 311.2,677.6 311.39,677.6 311.59,677.6 311.79,677.6 311.99,677.6 312.19,677.6 312.39,677.6 312.59,677.6 312.79,677.6 312.99,677.6 313.19,677.6 313.39,677.6 313.59,677.6 313.79,677.6 313.99,677.6 314.19,677.6 314.39,677.6 314.59,677.6 314.79,677.6 314.99,677.6 315.19,677.6 315.39,677.6 315.59,677.6 315.79,677.6 315.99,677.6 316.19,677.6 316.39,677.6 316.59,677.6 316.79,677.6 316.99,677.6 317.19,677.6 317.39,677.6 317.59,677.6 317.79,677.6 317.99,677.6 318.19,677.6 318.39,677.6 318.59,677.6 318.79,677.6 318.99,677.6 319.19,677.6 319.39,677.6 319.59,677.6 319.79,677.6 319.99,677.6 320.19,677.6 320.39,677.6 320.59,677.6 320.79,677.6 320.99,677.6 321.19,677.6 321.38,677.6 321.58,677.6 321.78,677.6 321.98,677.6 322.18,677.6 322.38,677.6 322.58,677.6 322.78,677.6 322.98,677.6 323.18,677.6 323.38,677.6 323.58,677.6 323.78,677.6 323.98,677.6 324.18,677.6 324.38,677.6 324.58,677.6 324.78,677.6 324.98,677.6 325.18,677.6 325.38,677.6 325.58,677.6 325.78,677.6 325.98,677.6 326.18,677.6 326.38,677.6 326.58,677.6 326.78,677.6 326.98,677.6 327.18,677.6 327.38,677.6 327.58,677.6 327.78,677.6 327.98,677.6 328.18,677.6 328.38,677.6 328.58,677.6 328.78,677.6 328.98,677.6 329.18,677.6 329.38,677.6 329.58,677.6 329.78,677.6 329.98,677.6 330.18,677.6 330.38,677.6 330.58,677.6 330.78,677.6 330.98,677.6 331.18,677.6 331.38,677.6 331.57,677.6 331.77,677.6 331.97,677.6 332.17,677.6 332.37,677.6 332.57,677.6 332.77,677.6 332.97,677.6 333.17,677.6 333.37,677.6 333.57,677.6 333.77,677.6 333.97,677.6 334.17,677.6 334.37,677.6 334.57,677.6 334.77,677.6 334.97,677.6 335.17,677.6 335.37,677.6 335.57,677.6 335.77,677.6 335.97,677.6 336.17,677.6 336.37,677.6 336.57,677.6 336.77,677.6 336.97,677.6" fill="none" stroke="#111" stroke-width="1.1" stroke-linejoin="round"/>
<polyline points="206.5,677.6 206.7,677.6 206.9,677.6 207.1,677.6 207.3,677.6 207.5,677.6 207.7,677.6 207.9,677.6 208.1,677.6 208.3,677.6 208.5,677.6 208.7,677.6 208.9,677.6 209.1,677.6 209.3,677.6 209.5,677.6 209.7,677.6 209.9,677.6 210.1,677.6 210.3,677.6 210.5,677.6 210.7,677.6 210.9,677.6 211.1,677.6 211.3,677.6 211.5,677.6 211.69,677.6 211.89,677.6 212.09,677.6 212.29,677.6 212.49,677.6 212.69,677.6 212.89,677.6 213.09,677.6 213.29,677.6 213.49,677.6 213.69,677.6 213.89,677.6 214.09,677.6 214.29,677.6 214.49,677.6 214.69,677.6 214.89,677.6 215.09,677.6 215.29,677.6 215.49,677.6 215.69,677.6 215.89,677.6 216.09,677.6 216.29,677.6 216.49,677.6 216.69,677.6 216.89,677.6 217.09,677.6 217.29,677.6 217.49,677.6 217.69,677.6 217.89,677.6 218.09,677.6 218.29,677.6 218.49,677.6 218.69,677.6 218.89,677.6 219.09,677.6 219.29,677.6 219.49,677.6 219.69,677.6 219.89,677.6 220.09,677.6 220.29,677.6 220.49,677.6 220.69,677.6 220.89,677.6 221.09,677.6 221.29,677.6 221.49,677.6 221.68,677.6 221.88,677.6 222.08,677.6 222.28,677.6 222.48,677.6 222.68,677.6 222.88,677.6 223.08,677.6 223.28,677.6 223.48,677.6 223.68,677.6 223.88,677.6 224.08,677.6 224.28,677.6 224.48,677.6 224.68,677.6 224.88,677.6 225.08,677.6 225.28,677.6 225.48,677.6 225.68,677.6 225.88,677.6 226.08,677.6 226.28,677.6 226.48,677.6 226.68,677.6 226.88,677.6 227.08,677.6 227.28,677.6 227.48,677.6 227.68,677.6 227.88,677.6 228.08,677.6 228.28,677.6 228.48,677.6 228.68,677.6 228.88,677.6 229.08,677.6 229.28,677.6 229.48,677.6 229.68,677.6 229.88,677.6 230.08,677.6 230.28,677.6 230.48,677.6 230.68,677.6 230.88,677.6 231.08,677.6 231.28,677.6 231.47,677.6 231.67,677.6 231.87,677.6 232.07,677.6 232.27,677.6 232.47,677.6 232.67,677.6 232.87,677.6 233.07,677.6 233.27,677.6 233.47,677.6 233.67,677.6 233.87,677.6 234.07,677.6 234.27,677.6 234.47,677.6 234.67,677.6 234.87,677.6 235.07,677.6 235.27,677.6 235.47,677.6 235.67,677.6 235.87,677.6 236.07,677.6 236.27,677.6 236.47,677.6 236.67,677.6 236.87,677.6 237.07,677.6 237.27,677.6 237.47,677.6 237.67,677.6 237.87,677.6 238.07,677.6 238.27,677.6 238.47,677.6 238.67,677.6 238.87,677.6 239.07,677.6 239.27,677.6 239.47,677.6 239.67,677.6 239.87,677.6 240.07,677.6 240.27,677.6 240.47,677.6 240.67,677.6 240.87,677.6 241.07,677.6 241.27,677.6 241.47,677.6 241.66,677.6 241.86,677.6 242.06,677.59 242.26,677.59 242.46,677.59 242.66,677.59 242.86,677.58 243.06,677.57 243.26,677.56 243.46,677.55 243.66,677.53 243.86,677.5 244.06,677.47 244.26,677.42 244.46,677.37 244.66,677.29 244.86,677.19 245.06,677.07 245.26,676.91 245.46,676.72 245.66,676.47 245.86,676.16 246.06,675.78 246.26,675.32 246.46,674.76 246.66,674.08 246.86,673.26 247.06,672.29 247.26,671.15 247.46,669.81 247.66,668.25 247.86,666.45 248.06,664.39 248.26,662.05 248.46,659.41 248.66,656.46 248.86,653.19 249.06,649.59 249.26,645.66 249.46,641.41 249.66,636.86 249.86,632.04 250.06,626.96 250.26,621.68 250.46,616.24 250.66,610.71 250.86,605.14 251.06,599.6 251.26,594.18 251.45,588.95 251.65,583.99 251.85,579.39 252.05,575.22 252.25,571.55 252.45,568.45 252.65,565.98 252.85,564.18 253.05,563.09 253.25,562.72 253.45,563.19 253.65,564.6 253.85,566.91 254.05,570.07 254.25,573.39 254.45,577.23 254.65,581.52 254.85,586.16 255.05,591.05 255.25,596.11 255.45,601.23 255.65,606.33 255.85,611.33 256.05,616.17 256.25,620.78 256.45,625.15 256.65,629.16 256.85,632.73 257.05,635.85 257.25,638.53 257.45,640.79 257.65,642.67 257.85,644.19 258.05,645.39 258.25,646.32 258.45,647.03 258.65,647.57 258.85,647.97 259.05,648.26 259.25,648.44 259.45,648.54 259.65,648.57 259.85,648.56 260.05,648.53 260.25,648.48 260.45,648.43 260.65,646.36 260.85,648.74 261.05,648.08 261.25,647.75 261.44,650.76 261.64,647.57 261.84,648.1 262.04,649 262.24,645.67 262.44,647.64 262.64,649.69 262.84,649.59 263.04,648.79 263.24,648.29 263.44,649.5 263.64,651.21 263.84,651.72 264.04,652.2 264.24,652.85 264.44,651.72 264.64,652.12 264.84,651.59 265.04,652.77 265.24,653.32 265.44,652.61 265.64,652.66 265.84,650.6 266.04,652.89 266.24,652.17 266.44,652.34 266.64,654.27 266.84,652.1 267.04,652.19 267.24,655.52 267.44,652.87 267.64,651.51 267.84,653.54 268.04,650.72 268.24,651.95 268.44,654.26 268.64,652.62 268.84,653.35 269.04,654.98 269.24,656.67 269.44,653.8 269.64,654.14 269.84,652.22 270.04,651.84 270.24,652.92 270.44,653.22 270.64,649.94 270.84,648.78 271.04,649.61 271.24,651.37 271.44,652.75 271.63,652.25 271.83,649 272.03,649.44 272.23,650.52 272.43,652.08 272.63,650.48 272.83,651.26 273.03,650.1 273.23,648.49 273.43,647.29 273.63,648.04 273.83,648.81 274.03,648.07 274.23,645.37 274.43,646.25 274.63,648.87 274.83,645.35 275.03,645.75 275.23,641.05 275.43,644.8 275.63,645.35 275.83,645.6 276.03,644.49 276.23,645.24 276.43,646.56 276.63,647.44 276.83,644.98 277.03,644.48 277.23,644.21 277.43,640.09 277.63,640.38 277.83,639.91 278.03,641.86 278.23,641.26 278.43,641.63 278.63,641.61 278.83,640.12 279.03,639.67 279.23,639.81 279.43,639.95 279.63,642.14 279.83,641.79 280.03,639.95 280.23,640.25 280.43,640.82 280.63,639.29 280.83,640.46 281.03,640.4 281.23,638.05 281.43,638.88 281.62,636.51 281.82,636.85 282.02,636.44 282.22,635.72 282.42,640.03 282.62,638.45 282.82,639.5 283.02,638.56 283.22,637.59 283.42,635.2 283.62,636.05 283.82,633.82 284.02,635.96 284.22,635.89 284.42,635.49 284.62,633.97 284.82,634.68 285.02,635.56 285.22,635.28 285.42,636.52 285.62,633 285.82,632.31 286.02,632.35 286.22,632.4 286.42,633.5 286.62,633.43 286.82,631.52 287.02,632.97 287.22,633.31 287.42,629.94 287.62,628.66 287.82,629.89 288.02,629.85 288.22,630.2 288.42,628.44 288.62,630.35 288.82,630.14 289.02,629.36 289.22,627.61 289.42,629.26 289.62,629.03 289.82,629.86 290.02,630.26 290.22,630.28 290.42,629.14 290.62,627.5 290.82,629.07 291.02,629.39 291.22,629.15 291.42,627.92 291.61,626.94 291.81,629.29 292.01,627.8 292.21,629.16 292.41,627.2 292.61,628.86 292.81,629.62 293.01,629.38 293.21,628.42 293.41,629.47 293.61,628.23 293.81,628.01 294.01,628.17 294.21,628.13 294.41,627.46 294.61,629.7 294.81,629.7 295.01,630.01 295.21,633.25 295.41,630.78 295.61,631.28 295.81,631.8 296.01,632.37 296.21,632.96 296.41,633.6 296.61,634.26 296.81,634.96 297.01,635.68 297.21,636.43 297.41,637.2 297.61,637.98 297.81,638.78 298.01,639.6 298.21,640.42 298.41,641.25 298.61,642.08 298.81,642.92 299.01,643.75 299.21,644.57 299.41,645.39 299.61,646.2 299.81,646.99 300.01,647.77 300.21,648.52 300.41,649.27 300.61,650.02 300.81,650.78 301.01,651.54 301.21,652.31 301.4,653.07 301.6,653.83 301.8,654.59 302,655.34 302.2,656.09 302.4,656.83 302.6,657.56 302.8,658.28 303,658.99 303.2,659.68 303.4,660.36 303.6,661.02 303.8,661.66 304,662.28 304.2,662.88 304.4,663.46 304.6,664 304.8,664.53 305,665.03 305.2,665.51 305.4,665.96 305.6,666.4 305.8,666.82 306,667.22 306.2,667.61 306.4,667.99 306.6,668.35 306.8,668.7 307,669.04 307.2,669.37 307.4,669.7 307.6,670.01 307.8,670.29 308,670.55 308.2,670.79 308.4,671.01 308.6,671.21 308.8,671.41 309,671.59 309.2,671.78 309.4,671.95 309.6,672.13 309.8,672.32 310,672.51 310.2,672.72 310.4,672.93 310.6,673.16 310.8,673.41 311,673.66 311.2,673.92 311.39,674.19 311.59,674.46 311.79,674.73 311.99,675 312.19,675.27 312.39,675.54 312.59,675.8 312.79,676.05 312.99,676.3 313.19,676.53 313.39,676.75 313.59,676.96 313.79,677.15 313.99,677.32 314.19,677.47 314.39,677.6 314.59,677.6 314.79,677.6 314.99,677.6 315.19,677.6 315.39,677.6 315.59,677.6 315.79,677.6 315.99,677.6 316.19,677.6 316.39,677.6 316.59,677.6 316.79,677.6 316.99,677.6 317.19,677.6 317.39,677.6 317.59,677.6 317.79,677.6 317.99,677.6 318.19,677.6 318.39,677.6 318.59,677.6 318.79,677.6 318.99,677.6 319.19,677.6 319.39,677.6 319.59,677.6 319.79,677.6 319.99,677.6 320.19,677.6 320.39,677.6 320.59,677.6 320.79,677.6 320.99,677.6 321.19,677.6 321.38,677.6 321.58,677.6 321.78,677.6 321.98,677.6 322.18,677.6 322.38,677.6 322.58,677.6 322.78,677.6 322.98,677.6 323.18,677.6 323.38,677.6 323.58,677.6 323.78,677.6 323.98,677.6 324.18,677.6 324.38,677.6 324.58,677.6 324.78,677.6 324.98,677.6 325.18,677.6 325.38,677.6 325.58,677.6 325.78,677.6 325.98,677.6 326.18,677.6 326.38,677.6 326.58,677.6 326.78,677.6 326.98,677.6 327.18,677.6 327.38,677.6 327.58,677.6 327.78,677.6 327.98,677.6 328.18,677.6 328.38,677.6 328.58,677.6 328.78,677.6 328.98,677.6 329.18,677.6 329.38,677.6 329.58,677.6 329.78,677.6 329.98,677.6 330.18,677.6 330.38,677.6 330.58,677.6 330.78,677.6 330.98,677.6 331.18,677.6 331.38,677.6 331.57,677.6 331.77,677.6 331.97,677.6 332.17,677.6 332.37,677.6 332.57,677.6 332.77,677.6 332.97,677.6 333.17,677.6 333.37,677.6 333.57,677.6 333.77,677.6 333.97,677.6 334.17,677.6 334.37,677.6 334.57,677.6 334.77,677.6 334.97,677.6 335.17,677.6 335.37,677.6 335.57,677.6 335.77,677.6 335.97,677.6 336.17,677.6 336.37,677.6 336.57,677.6 336.77,677.6 336.97,677.6" fill="none" stroke="#ff1cff" stroke-width="1.7" stroke-linejoin="round"/>
<text x="282" y="556" text-anchor="start" fill="#111" style="font-size:7.8px;stroke-width:0.12px">RMS: 2.40</text>
<text x="282" y="565.3" text-anchor="start" fill="#111" style="font-size:7.8px;stroke-width:0.12px">% G0/G1 : 29.2</text>
<text x="282" y="574.6" text-anchor="start" fill="#111" style="font-size:7.8px;stroke-width:0.12px">% S : 59.3</text>
<text x="282" y="583.9" text-anchor="start" fill="#111" style="font-size:7.8px;stroke-width:0.12px">% G2/M : 13.0</text>
<text x="282" y="593.2" text-anchor="start" fill="#111" style="font-size:7.8px;stroke-width:0.12px">G2/G1 = 2.0</text>
<text x="282" y="602.5" text-anchor="start" fill="#111" style="font-size:7.8px;stroke-width:0.12px">G1 CV : 7.78</text>
<text x="282" y="611.8" text-anchor="start" fill="#111" style="font-size:7.8px;stroke-width:0.12px">G2 CV : 7.78</text>
<g style="isolation:isolate">
<path d="M409.59 677.5 L409.59 675.98 L409.79 673.86 L409.99 671.34 L410.2 668.58 L410.4 665.77 L410.6 663.08 L410.81 660.7 L411.01 658.8 L411.21 657.25 L411.41 655.83 L411.62 654.53 L411.82 653.39 L412.02 652.4 L412.23 651.58 L412.43 650.95 L412.63 650.52 L412.84 650.3 L413.04 650.2 L413.24 650.11 L413.44 650.03 L413.65 649.97 L413.85 649.91 L414.05 649.86 L414.26 649.83 L414.46 649.8 L414.66 649.78 L414.87 649.77 L415.07 649.77 L415.27 649.77 L415.47 649.79 L415.68 649.81 L415.88 649.83 L416.08 649.87 L416.29 649.91 L416.49 649.95 L416.69 650 L416.9 650.06 L417.1 650.11 L417.3 650.18 L417.5 650.24 L417.71 650.31 L417.91 650.38 L418.11 650.46 L418.32 650.54 L418.52 650.61 L418.72 650.69 L418.93 650.78 L419.13 650.86 L419.33 650.94 L419.53 651.02 L419.74 651.1 L419.94 651.18 L420.14 651.26 L420.35 651.34 L420.55 651.41 L420.75 651.48 L420.96 651.55 L421.16 651.62 L421.36 651.68 L421.56 651.74 L421.77 651.8 L421.97 651.85 L422.17 651.89 L422.38 651.93 L422.58 651.96 L422.78 651.99 L422.99 652.01 L423.19 652.02 L423.39 652.03 L423.59 652.03 L423.8 652.02 L424 652 L424.2 651.97 L424.41 651.94 L424.61 651.9 L424.81 651.86 L425.02 651.8 L425.22 651.75 L425.42 651.68 L425.62 651.61 L425.83 651.54 L426.03 651.46 L426.23 651.37 L426.44 651.28 L426.64 651.19 L426.84 651.09 L427.05 650.98 L427.25 650.88 L427.45 650.76 L427.65 650.65 L427.86 650.53 L428.06 650.41 L428.26 650.28 L428.47 650.15 L428.67 650.02 L428.87 649.88 L429.08 649.74 L429.28 649.6 L429.48 649.46 L429.68 649.32 L429.89 649.17 L430.09 649.02 L430.29 648.87 L430.5 648.72 L430.7 648.57 L430.9 648.41 L431.11 648.26 L431.31 648.1 L431.51 647.95 L431.71 647.79 L431.92 647.62 L432.12 647.46 L432.32 647.29 L432.53 647.12 L432.73 646.94 L432.93 646.77 L433.14 646.59 L433.34 646.4 L433.54 646.21 L433.74 646.02 L433.95 645.83 L434.15 645.63 L434.35 645.42 L434.56 645.22 L434.76 645 L434.96 644.79 L435.17 644.57 L435.37 644.34 L435.57 644.11 L435.77 643.88 L435.98 643.64 L436.18 643.39 L436.38 643.14 L436.59 642.88 L436.79 642.62 L436.99 642.35 L437.2 642.08 L437.4 641.8 L437.6 641.51 L437.8 641.21 L438.01 640.9 L438.21 640.58 L438.41 640.25 L438.62 639.91 L438.82 639.56 L439.02 639.2 L439.23 638.84 L439.43 638.48 L439.63 638.1 L439.83 637.72 L440.04 637.34 L440.24 636.96 L440.44 636.57 L440.65 636.18 L440.85 635.79 L441.05 635.4 L441.25 635.01 L441.46 634.63 L441.66 634.24 L441.86 633.86 L442.07 633.48 L442.27 633.1 L442.47 632.73 L442.68 632.36 L442.88 632 L443.08 631.65 L443.29 631.3 L443.49 630.96 L443.69 630.64 L443.89 630.32 L444.1 630.01 L444.3 629.71 L444.5 629.43 L444.71 629.15 L444.91 628.89 L445.11 628.65 L445.32 628.42 L445.52 628.2 L445.72 627.99 L445.92 627.79 L446.13 627.6 L446.33 627.45 L446.53 627.34 L446.74 627.29 L446.94 627.31 L447.14 627.42 L447.35 627.62 L447.55 627.94 L447.75 628.38 L447.95 628.96 L448.16 629.69 L448.36 630.58 L448.56 631.75 L448.77 633.25 L448.97 635.03 L449.17 637.03 L449.38 639.2 L449.58 641.49 L449.78 643.83 L449.98 646.18 L450.19 648.47 L450.39 650.66 L450.59 652.68 L450.8 654.6 L451 656.53 L451.2 658.44 L451.41 660.33 L451.61 662.18 L451.81 663.98 L452.01 665.73 L452.22 667.4 L452.42 669 L452.62 670.54 L452.83 672.02 L453.03 673.42 L453.23 674.7 L453.44 675.83 L453.64 676.77 L453.64 677.5Z" fill="#dfe4a0" style="mix-blend-mode:multiply"/>
<path d="M399.84 677.5 L399.84 677.48 L400.05 677.46 L400.25 677.45 L400.45 677.42 L400.66 677.38 L400.86 677.33 L401.06 677.26 L401.26 677.16 L401.47 677.03 L401.67 676.85 L401.87 676.61 L402.08 676.29 L402.28 675.88 L402.48 675.34 L402.69 674.66 L402.89 673.8 L403.09 672.72 L403.29 671.39 L403.5 669.77 L403.7 667.83 L403.9 665.5 L404.11 662.78 L404.31 659.61 L404.51 655.97 L404.72 651.85 L404.92 647.25 L405.12 642.18 L405.32 636.67 L405.53 630.76 L405.73 624.54 L405.93 618.09 L406.14 611.51 L406.34 604.93 L406.54 598.49 L406.75 592.34 L406.95 586.62 L407.15 581.48 L407.35 577.06 L407.56 573.49 L407.76 570.85 L407.96 569.24 L408.17 568.7 L408.37 569.24 L408.57 570.85 L408.78 573.49 L408.98 577.06 L409.18 581.48 L409.38 586.62 L409.59 592.34 L409.79 598.49 L409.99 604.93 L410.2 611.51 L410.4 618.09 L410.6 624.54 L410.81 630.76 L411.01 636.67 L411.21 642.18 L411.41 647.25 L411.62 651.85 L411.82 655.97 L412.02 659.61 L412.23 662.78 L412.43 665.5 L412.63 667.83 L412.84 669.77 L413.04 671.39 L413.24 672.72 L413.44 673.8 L413.65 674.66 L413.85 675.34 L414.05 675.88 L414.26 676.29 L414.46 676.61 L414.66 676.85 L414.87 677.03 L415.07 677.16 L415.27 677.26 L415.47 677.33 L415.68 677.38 L415.88 677.42 L416.08 677.45 L416.29 677.46 L416.49 677.48 L416.49 677.5Z" fill="#a9a9f5" style="mix-blend-mode:multiply"/>
<path d="M443.69 677.5 L443.69 677.47 L443.89 677.46 L444.1 677.45 L444.3 677.44 L444.5 677.42 L444.71 677.4 L444.91 677.38 L445.11 677.35 L445.32 677.32 L445.52 677.27 L445.72 677.22 L445.92 677.16 L446.13 677.09 L446.33 677.01 L446.53 676.91 L446.74 676.79 L446.94 676.65 L447.14 676.5 L447.35 676.32 L447.55 676.11 L447.75 675.87 L447.95 675.6 L448.16 675.29 L448.36 674.95 L448.56 674.57 L448.77 674.14 L448.97 673.67 L449.17 673.15 L449.38 672.59 L449.58 671.97 L449.78 671.31 L449.98 670.6 L450.19 669.84 L450.39 669.03 L450.59 668.18 L450.8 667.3 L451 666.37 L451.2 665.42 L451.41 664.44 L451.61 663.45 L451.81 662.45 L452.01 661.44 L452.22 660.45 L452.42 659.48 L452.62 658.53 L452.83 657.63 L453.03 656.77 L453.23 655.97 L453.44 655.24 L453.64 654.59 L453.84 654.02 L454.04 653.55 L454.25 653.17 L454.45 652.9 L454.65 652.74 L454.86 652.68 L455.06 652.74 L455.26 652.93 L455.47 653.24 L455.67 653.67 L455.87 654.21 L456.07 654.86 L456.28 655.6 L456.48 656.42 L456.68 657.31 L456.89 658.27 L457.09 659.27 L457.29 660.31 L457.5 661.37 L457.7 662.45 L457.9 663.52 L458.1 664.58 L458.31 665.63 L458.51 666.64 L458.71 667.62 L458.92 668.55 L459.12 669.44 L459.32 670.28 L459.53 671.06 L459.73 671.79 L459.93 672.46 L460.13 673.08 L460.34 673.64 L460.54 674.14 L460.74 674.6 L460.95 675 L461.15 675.36 L461.35 675.68 L461.56 675.96 L461.76 676.2 L461.96 676.41 L462.16 676.59 L462.37 676.74 L462.57 676.88 L462.77 676.99 L462.77 677.5Z" fill="#a4f2a0" style="mix-blend-mode:multiply"/>
</g>
<line x1="363.1" y1="537.4" x2="363.1" y2="678.1" stroke="#4a4a4a" stroke-width="1.3"/>
<line x1="362.5" y1="677.5" x2="495" y2="677.5" stroke="#4a4a4a" stroke-width="1.3"/>
<line x1="361.3" y1="677.5" x2="363.1" y2="677.5" stroke="#4a4a4a" stroke-width="0.9"/>
<line x1="361.3" y1="668.74" x2="363.1" y2="668.74" stroke="#4a4a4a" stroke-width="0.9"/>
<line x1="361.3" y1="659.99" x2="363.1" y2="659.99" stroke="#4a4a4a" stroke-width="0.9"/>
<line x1="361.3" y1="651.23" x2="363.1" y2="651.23" stroke="#4a4a4a" stroke-width="0.9"/>
<line x1="361.3" y1="642.47" x2="363.1" y2="642.47" stroke="#4a4a4a" stroke-width="0.9"/>
<line x1="361.3" y1="633.71" x2="363.1" y2="633.71" stroke="#4a4a4a" stroke-width="0.9"/>
<line x1="361.3" y1="624.96" x2="363.1" y2="624.96" stroke="#4a4a4a" stroke-width="0.9"/>
<line x1="361.3" y1="616.2" x2="363.1" y2="616.2" stroke="#4a4a4a" stroke-width="0.9"/>
<line x1="361.3" y1="607.44" x2="363.1" y2="607.44" stroke="#4a4a4a" stroke-width="0.9"/>
<line x1="361.3" y1="598.68" x2="363.1" y2="598.68" stroke="#4a4a4a" stroke-width="0.9"/>
<line x1="361.3" y1="589.92" x2="363.1" y2="589.92" stroke="#4a4a4a" stroke-width="0.9"/>
<line x1="361.3" y1="581.17" x2="363.1" y2="581.17" stroke="#4a4a4a" stroke-width="0.9"/>
<line x1="361.3" y1="572.41" x2="363.1" y2="572.41" stroke="#4a4a4a" stroke-width="0.9"/>
<line x1="361.3" y1="563.65" x2="363.1" y2="563.65" stroke="#4a4a4a" stroke-width="0.9"/>
<line x1="361.3" y1="554.89" x2="363.1" y2="554.89" stroke="#4a4a4a" stroke-width="0.9"/>
<line x1="361.3" y1="546.14" x2="363.1" y2="546.14" stroke="#4a4a4a" stroke-width="0.9"/>
<line x1="361.3" y1="537.38" x2="363.1" y2="537.38" stroke="#4a4a4a" stroke-width="0.9"/>
<line x1="358.7" y1="677.5" x2="363.1" y2="677.5" stroke="#4a4a4a" stroke-width="1.1"/>
<text x="357.7" y="680.4" text-anchor="end" fill="#111" style="font-size:7.8px;stroke-width:0.12px">0</text>
<line x1="358.7" y1="642.47" x2="363.1" y2="642.47" stroke="#4a4a4a" stroke-width="1.1"/>
<text x="357.7" y="645.37" text-anchor="end" fill="#111" style="font-size:7.8px;stroke-width:0.12px">100</text>
<line x1="358.7" y1="607.44" x2="363.1" y2="607.44" stroke="#4a4a4a" stroke-width="1.1"/>
<text x="357.7" y="610.34" text-anchor="end" fill="#111" style="font-size:7.8px;stroke-width:0.12px">200</text>
<line x1="358.7" y1="572.41" x2="363.1" y2="572.41" stroke="#4a4a4a" stroke-width="1.1"/>
<text x="357.7" y="575.31" text-anchor="end" fill="#111" style="font-size:7.8px;stroke-width:0.12px">300</text>
<line x1="358.7" y1="537.38" x2="363.1" y2="537.38" stroke="#4a4a4a" stroke-width="1.1"/>
<text x="357.7" y="543.88" text-anchor="end" fill="#111" style="font-size:7.8px;stroke-width:0.12px">400</text>
<line x1="363.1" y1="677.5" x2="363.1" y2="681.1" stroke="#4a4a4a" stroke-width="1.1"/>
<text x="363.1" y="688.9" text-anchor="middle" fill="#111" style="font-size:7.8px;stroke-width:0.12px">0</text>
<line x1="373.25" y1="677.5" x2="373.25" y2="679.3" stroke="#4a4a4a" stroke-width="0.9"/>
<line x1="383.4" y1="677.5" x2="383.4" y2="679.3" stroke="#4a4a4a" stroke-width="0.9"/>
<line x1="393.55" y1="677.5" x2="393.55" y2="679.3" stroke="#4a4a4a" stroke-width="0.9"/>
<line x1="403.7" y1="677.5" x2="403.7" y2="681.1" stroke="#4a4a4a" stroke-width="1.1"/>
<text x="403.7" y="688.9" text-anchor="middle" fill="#111" style="font-size:7.8px;stroke-width:0.12px">200</text>
<line x1="413.85" y1="677.5" x2="413.85" y2="679.3" stroke="#4a4a4a" stroke-width="0.9"/>
<line x1="424" y1="677.5" x2="424" y2="679.3" stroke="#4a4a4a" stroke-width="0.9"/>
<line x1="434.15" y1="677.5" x2="434.15" y2="679.3" stroke="#4a4a4a" stroke-width="0.9"/>
<line x1="444.3" y1="677.5" x2="444.3" y2="681.1" stroke="#4a4a4a" stroke-width="1.1"/>
<text x="444.3" y="688.9" text-anchor="middle" fill="#111" style="font-size:7.8px;stroke-width:0.12px">400</text>
<line x1="454.45" y1="677.5" x2="454.45" y2="679.3" stroke="#4a4a4a" stroke-width="0.9"/>
<line x1="464.6" y1="677.5" x2="464.6" y2="679.3" stroke="#4a4a4a" stroke-width="0.9"/>
<line x1="474.75" y1="677.5" x2="474.75" y2="679.3" stroke="#4a4a4a" stroke-width="0.9"/>
<line x1="484.9" y1="677.5" x2="484.9" y2="681.1" stroke="#4a4a4a" stroke-width="1.1"/>
<text x="484.9" y="688.9" text-anchor="middle" fill="#111" style="font-size:7.8px;stroke-width:0.12px">600</text>
<polyline points="363.1,677.5 363.3,677.5 363.51,677.5 363.71,677.5 363.91,677.5 364.12,677.5 364.32,677.5 364.52,677.5 364.72,677.5 364.93,677.5 365.13,677.5 365.33,677.5 365.54,677.5 365.74,677.5 365.94,677.5 366.15,677.5 366.35,677.5 366.55,677.5 366.75,677.5 366.96,677.5 367.16,677.5 367.36,677.5 367.57,677.5 367.77,677.5 367.97,677.5 368.18,677.5 368.38,677.5 368.58,677.5 368.78,677.5 368.99,677.5 369.19,677.5 369.39,677.5 369.6,677.5 369.8,677.5 370,677.5 370.21,677.5 370.41,677.5 370.61,677.5 370.81,677.5 371.02,677.5 371.22,677.5 371.42,677.5 371.63,677.5 371.83,677.5 372.03,677.5 372.24,677.5 372.44,677.5 372.64,677.5 372.84,677.5 373.05,677.5 373.25,677.5 373.45,677.5 373.66,677.5 373.86,677.5 374.06,677.5 374.27,677.5 374.47,677.5 374.67,677.5 374.87,677.5 375.08,677.5 375.28,677.5 375.48,677.5 375.69,677.5 375.89,677.5 376.09,677.5 376.3,677.5 376.5,677.5 376.7,677.5 376.9,677.5 377.11,677.5 377.31,677.5 377.51,677.5 377.72,677.5 377.92,677.5 378.12,677.5 378.33,677.5 378.53,677.5 378.73,677.5 378.93,677.5 379.14,677.5 379.34,677.5 379.54,677.5 379.75,677.5 379.95,677.5 380.15,677.5 380.36,677.5 380.56,677.5 380.76,677.5 380.96,677.5 381.17,677.5 381.37,677.5 381.57,677.5 381.78,677.5 381.98,677.5 382.18,677.5 382.39,677.5 382.59,677.5 382.79,677.5 382.99,677.5 383.2,677.5 383.4,677.5 383.6,677.5 383.81,677.5 384.01,677.5 384.21,677.5 384.42,677.5 384.62,677.5 384.82,677.5 385.02,677.5 385.23,677.5 385.43,677.5 385.63,677.5 385.84,677.5 386.04,677.5 386.24,677.5 386.45,677.5 386.65,677.5 386.85,677.5 387.05,677.5 387.26,677.5 387.46,677.5 387.66,677.5 387.87,677.5 388.07,677.5 388.27,677.5 388.48,677.5 388.68,677.5 388.88,677.5 389.08,677.5 389.29,677.5 389.49,677.5 389.69,677.5 389.9,677.5 390.1,677.5 390.3,677.5 390.5,677.5 390.71,677.5 390.91,677.5 391.11,677.5 391.32,677.5 391.52,677.5 391.72,677.5 391.93,677.5 392.13,677.5 392.33,677.5 392.54,677.5 392.74,677.5 392.94,677.5 393.14,677.5 393.35,677.49 393.55,677.49 393.75,677.49 393.96,677.49 394.16,677.48 394.36,677.48 394.57,677.47 394.77,677.47 394.97,677.46 395.17,677.45 395.38,677.43 395.58,677.42 395.78,677.4 395.99,677.37 396.19,677.34 396.39,677.3 396.6,677.26 396.8,677.2 397,677.13 397.2,677.05 397.41,676.95 397.61,676.84 397.81,676.7 398.02,676.54 398.22,676.35 398.42,676.12 398.62,675.86 398.83,675.55 399.03,675.2 399.23,674.78 399.44,674.31 399.64,673.77 399.84,673.14 400.05,672.44 400.25,671.63 400.45,670.73 400.66,669.71 400.86,668.57 401.06,667.3 401.26,665.88 401.47,664.32 401.67,662.59 401.87,660.7 402.08,658.64 402.28,656.4 402.48,653.97 402.69,651.35 402.89,648.54 403.09,645.53 403.29,642.34 403.5,638.97 403.7,635.41 403.9,631.69 404.11,627.81 404.31,623.78 404.51,619.64 404.72,615.38 404.92,611.05 405.12,606.65 405.32,602.23 405.53,597.81 405.73,593.42 405.93,589.09 406.14,584.86 406.34,580.77 406.54,576.84 406.75,573.12 406.95,569.63 407.15,566.41 407.35,563.49 407.56,560.89 407.76,558.65 407.96,556.79 408.17,555.32 408.37,554.26 408.57,553.61 408.78,553.4 408.98,553.83 409.18,555.11 409.38,557.22 409.59,559.48 409.79,562.32 409.99,565.68 410.2,569.49 410.4,573.7 410.6,578.21 410.81,582.97 411.01,587.89 411.21,592.89 411.41,597.91 411.62,602.89 411.82,607.76 412.02,612.42 412.23,616.75 412.43,620.72 412.63,624.32 412.84,627.54 413.04,630.4 413.24,632.9 413.44,635.07 413.65,636.94 413.85,638.54 414.05,639.92 414.26,641.11 414.46,642.15 414.66,643.07 414.87,643.88 415.07,644.58 415.27,645.2 415.47,645.74 415.68,646.2 415.88,646.59 416.08,646.92 416.29,647.19 416.49,647.4 416.69,647.58 416.9,647.73 417.1,647.86 417.3,647.97 417.5,648.08 417.71,648.18 417.91,648.27 418.11,648.37 418.32,648.46 418.52,648.56 418.72,648.65 418.93,648.75 419.13,648.84 419.33,648.94 419.53,649.04 419.74,649.13 419.94,649.22 420.14,649.31 420.35,649.4 420.55,649.48 420.75,649.55 420.96,649.62 421.16,649.69 421.36,649.77 421.56,649.86 421.77,649.95 421.97,650.05 422.17,650.15 422.38,650.26 422.58,650.36 422.78,650.46 422.99,650.56 423.19,650.65 423.39,650.74 423.59,650.82 423.8,650.89 424,650.94 424.2,650.98 424.41,651.01 424.61,651.02 424.81,651.01 425.02,650.98 425.22,650.94 425.42,650.89 425.62,650.83 425.83,650.77 426.03,650.71 426.23,650.64 426.44,650.57 426.64,650.49 426.84,650.4 427.05,650.31 427.25,650.22 427.45,650.12 427.65,650.02 427.86,649.91 428.06,649.8 428.26,649.68 428.47,649.56 428.67,649.43 428.87,649.3 429.08,649.16 429.28,649.02 429.48,648.88 429.68,648.73 429.89,648.58 430.09,648.42 430.29,648.26 430.5,648.1 430.7,647.93 430.9,647.76 431.11,647.58 431.31,647.4 431.51,647.22 431.71,647.04 431.92,646.87 432.12,646.68 432.32,646.5 432.53,646.32 432.73,646.13 432.93,645.94 433.14,645.74 433.34,645.55 433.54,645.34 433.74,645.14 433.95,644.93 434.15,644.71 434.35,644.48 434.56,644.25 434.76,644.02 434.96,643.77 435.17,643.52 435.37,643.26 435.57,642.99 435.77,642.71 435.98,642.42 436.18,642.12 436.38,641.81 436.59,641.49 436.79,641.16 436.99,640.82 437.2,640.47 437.4,640.1 437.6,639.72 437.8,639.31 438.01,638.88 438.21,638.44 438.41,637.98 438.62,637.5 438.82,637.01 439.02,636.51 439.23,635.99 439.43,635.46 439.63,634.93 439.83,634.38 440.04,633.84 440.24,633.28 440.44,632.72 440.65,632.16 440.85,631.6 441.05,631.04 441.25,630.48 441.46,629.92 441.66,629.36 441.86,628.82 442.07,628.28 442.27,627.74 442.47,627.22 442.68,626.71 442.88,626.21 443.08,625.73 443.29,625.25 443.49,624.8 443.69,624.35 443.89,623.91 444.1,623.47 444.3,623.03 444.5,622.61 444.71,622.21 444.91,621.83 445.11,621.48 445.32,621.15 445.52,620.86 445.72,620.6 445.92,620.39 446.13,620.22 446.33,620.1 446.53,620.04 446.74,620.06 446.94,620.17 447.14,620.36 447.35,620.61 447.55,620.92 447.75,621.27 447.95,621.64 448.16,622.03 448.36,622.41 448.56,622.77 448.77,623.1 448.97,623.39 449.17,623.62 449.38,623.78 449.58,623.84 449.78,623.81 449.98,623.71 450.19,623.55 450.39,623.37 450.59,623.18 450.8,623 451,622.86 451.2,622.78 451.41,622.78 451.61,622.88 451.81,623.1 452.01,623.45 452.22,623.92 452.42,624.5 452.62,625.18 452.83,625.96 453.03,626.83 453.23,627.78 453.44,628.8 453.64,629.9 453.84,631.11 454.04,632.46 454.25,633.92 454.45,635.46 454.65,637.04 454.86,638.64 455.06,640.22 455.26,641.75 455.47,643.19 455.67,644.52 455.87,645.78 456.07,647.05 456.28,648.32 456.48,649.59 456.68,650.86 456.89,652.12 457.09,653.38 457.29,654.62 457.5,655.86 457.7,657.08 457.9,658.28 458.1,659.47 458.31,660.64 458.51,661.78 458.71,662.91 458.92,664 459.12,665.07 459.32,666.1 459.53,667.1 459.73,668.07 459.93,669 460.13,669.85 460.34,670.6 460.54,671.26 460.74,671.84 460.95,672.35 461.15,672.81 461.35,673.22 461.56,673.6 461.76,673.96 461.96,674.32 462.16,674.68 462.37,675.05 462.57,675.46 462.77,675.87 462.98,676.24 463.18,676.57 463.38,676.87 463.59,677.12 463.79,677.33 463.99,677.5 464.19,677.5 464.4,677.5 464.6,677.5 464.8,677.5 465.01,677.5 465.21,677.5 465.41,677.5 465.62,677.5 465.82,677.5 466.02,677.5 466.22,677.5 466.43,677.5 466.63,677.5 466.83,677.5 467.04,677.5 467.24,677.5 467.44,677.5 467.65,677.5 467.85,677.5 468.05,677.5 468.25,677.5 468.46,677.5 468.66,677.5 468.86,677.5 469.07,677.5 469.27,677.5 469.47,677.5 469.68,677.5 469.88,677.5 470.08,677.5 470.28,677.5 470.49,677.5 470.69,677.5 470.89,677.5 471.1,677.5 471.3,677.5 471.5,677.5 471.71,677.5 471.91,677.5 472.11,677.5 472.31,677.5 472.52,677.5 472.72,677.5 472.92,677.5 473.13,677.5 473.33,677.5 473.53,677.5 473.74,677.5 473.94,677.5 474.14,677.5 474.34,677.5 474.55,677.5 474.75,677.5 474.95,677.5 475.16,677.5 475.36,677.5 475.56,677.5 475.77,677.5 475.97,677.5 476.17,677.5 476.37,677.5 476.58,677.5 476.78,677.5 476.98,677.5 477.19,677.5 477.39,677.5 477.59,677.5 477.8,677.5 478,677.5 478.2,677.5 478.4,677.5 478.61,677.5 478.81,677.5 479.01,677.5 479.22,677.5 479.42,677.5 479.62,677.5 479.83,677.5 480.03,677.5 480.23,677.5 480.43,677.5 480.64,677.5 480.84,677.5 481.04,677.5 481.25,677.5 481.45,677.5 481.65,677.5 481.86,677.5 482.06,677.5 482.26,677.5 482.46,677.5 482.67,677.5 482.87,677.5 483.07,677.5 483.28,677.5 483.48,677.5 483.68,677.5 483.89,677.5 484.09,677.5 484.29,677.5 484.49,677.5 484.7,677.5 484.9,677.5 485.1,677.5 485.31,677.5 485.51,677.5 485.71,677.5 485.92,677.5 486.12,677.5 486.32,677.5 486.52,677.5 486.73,677.5 486.93,677.5 487.13,677.5 487.34,677.5 487.54,677.5 487.74,677.5 487.95,677.5 488.15,677.5 488.35,677.5 488.55,677.5 488.76,677.5 488.96,677.5 489.16,677.5 489.37,677.5 489.57,677.5 489.77,677.5 489.98,677.5 490.18,677.5 490.38,677.5 490.58,677.5 490.79,677.5 490.99,677.5 491.19,677.5 491.4,677.5 491.6,677.5 491.8,677.5 492,677.5 492.21,677.5 492.41,677.5 492.61,677.5 492.82,677.5 493.02,677.5 493.22,677.5 493.43,677.5 493.63,677.5 493.83,677.5 494.04,677.5 494.24,677.5 494.44,677.5 494.64,677.5 494.85,677.5" fill="none" stroke="#111" stroke-width="1.1" stroke-linejoin="round"/>
<polyline points="363.1,677.5 363.3,677.5 363.51,677.5 363.71,677.5 363.91,677.5 364.12,677.5 364.32,677.5 364.52,677.5 364.72,677.5 364.93,677.5 365.13,677.5 365.33,677.5 365.54,677.5 365.74,677.5 365.94,677.5 366.15,677.5 366.35,677.5 366.55,677.5 366.75,677.5 366.96,677.5 367.16,677.5 367.36,677.5 367.57,677.5 367.77,677.5 367.97,677.5 368.18,677.5 368.38,677.5 368.58,677.5 368.78,677.5 368.99,677.5 369.19,677.5 369.39,677.5 369.6,677.5 369.8,677.5 370,677.5 370.21,677.5 370.41,677.5 370.61,677.5 370.81,677.5 371.02,677.5 371.22,677.5 371.42,677.5 371.63,677.5 371.83,677.5 372.03,677.5 372.24,677.5 372.44,677.5 372.64,677.5 372.84,677.5 373.05,677.5 373.25,677.5 373.45,677.5 373.66,677.5 373.86,677.5 374.06,677.5 374.27,677.5 374.47,677.5 374.67,677.5 374.87,677.5 375.08,677.5 375.28,677.5 375.48,677.5 375.69,677.5 375.89,677.5 376.09,677.5 376.3,677.5 376.5,677.5 376.7,677.5 376.9,677.5 377.11,677.5 377.31,677.5 377.51,677.5 377.72,677.5 377.92,677.5 378.12,677.5 378.33,677.5 378.53,677.5 378.73,677.5 378.93,677.5 379.14,677.5 379.34,677.5 379.54,677.5 379.75,677.5 379.95,677.5 380.15,677.5 380.36,677.5 380.56,677.5 380.76,677.5 380.96,677.5 381.17,677.5 381.37,677.5 381.57,677.5 381.78,677.5 381.98,677.5 382.18,677.5 382.39,677.5 382.59,677.5 382.79,677.5 382.99,677.5 383.2,677.5 383.4,677.5 383.6,677.5 383.81,677.5 384.01,677.5 384.21,677.5 384.42,677.5 384.62,677.5 384.82,677.5 385.02,677.5 385.23,677.5 385.43,677.5 385.63,677.5 385.84,677.5 386.04,677.5 386.24,677.5 386.45,677.5 386.65,677.5 386.85,677.5 387.05,677.5 387.26,677.5 387.46,677.5 387.66,677.5 387.87,677.5 388.07,677.5 388.27,677.5 388.48,677.5 388.68,677.5 388.88,677.5 389.08,677.5 389.29,677.5 389.49,677.5 389.69,677.5 389.9,677.5 390.1,677.5 390.3,677.5 390.5,677.5 390.71,677.5 390.91,677.5 391.11,677.5 391.32,677.5 391.52,677.5 391.72,677.5 391.93,677.5 392.13,677.5 392.33,677.5 392.54,677.5 392.74,677.5 392.94,677.5 393.14,677.5 393.35,677.5 393.55,677.5 393.75,677.5 393.96,677.5 394.16,677.5 394.36,677.5 394.57,677.5 394.77,677.5 394.97,677.5 395.17,677.5 395.38,677.5 395.58,677.5 395.78,677.5 395.99,677.5 396.19,677.5 396.39,677.5 396.6,677.5 396.8,677.5 397,677.5 397.2,677.5 397.41,677.5 397.61,677.5 397.81,677.5 398.02,677.5 398.22,677.49 398.42,677.49 398.62,677.49 398.83,677.48 399.03,677.47 399.23,677.46 399.44,677.45 399.64,677.42 399.84,677.4 400.05,677.36 400.25,677.31 400.45,677.24 400.66,677.16 400.86,677.05 401.06,676.9 401.26,676.72 401.47,676.49 401.67,676.2 401.87,675.83 402.08,675.38 402.28,674.83 402.48,674.15 402.69,673.33 402.89,672.35 403.09,671.17 403.29,669.79 403.5,668.17 403.7,666.28 403.9,664.11 404.11,661.63 404.31,658.81 404.51,655.65 404.72,652.13 404.92,648.25 405.12,644.01 405.32,639.42 405.53,634.5 405.73,629.28 405.93,623.8 406.14,618.11 406.34,612.27 406.54,606.35 406.75,600.44 406.95,594.61 407.15,588.96 407.35,583.57 407.56,578.55 407.76,573.98 407.96,569.95 408.17,566.54 408.37,563.81 408.57,561.82 408.78,560.61 408.98,560.2 409.18,560.68 409.38,562.12 409.59,564.48 409.79,567.7 409.99,571.14 410.2,575.14 410.4,579.61 410.6,584.45 410.81,589.56 411.01,594.83 411.21,600.17 411.41,605.47 411.62,610.66 411.82,615.66 412.02,620.41 412.23,624.87 412.43,628.92 412.63,632.47 412.84,635.53 413.04,638.13 413.24,640.29 413.44,642.08 413.65,643.53 413.85,644.72 414.05,645.69 414.26,646.52 414.46,647.22 414.66,647.79 414.87,648.25 415.07,648.62 415.27,648.91 415.47,649.15 415.68,649.34 415.88,649.5 416.08,649.63 416.29,649.75 416.49,648.43 416.69,650.15 416.9,649.53 417.1,650.14 417.3,648.69 417.5,651 417.71,651.64 417.91,651.61 418.11,650.54 418.32,651.5 418.52,650.26 418.72,649.77 418.93,649 419.13,649.47 419.33,648.55 419.53,650.62 419.74,651.62 419.94,652.28 420.14,652.57 420.35,653.58 420.55,651.68 420.75,651.45 420.96,654.35 421.16,652.76 421.36,653.06 421.56,653.47 421.77,652.82 421.97,650.67 422.17,651.44 422.38,654.59 422.58,652.64 422.78,653.62 422.99,650.65 423.19,652.51 423.39,652.65 423.59,652.9 423.8,653.86 424,653.64 424.2,653.19 424.41,649.94 424.61,651.57 424.81,651.59 425.02,652.08 425.22,652.1 425.42,651.85 425.62,650.28 425.83,655.49 426.03,654.17 426.23,653.93 426.44,651.5 426.64,652.8 426.84,650.81 427.05,649.87 427.25,651.64 427.45,650.7 427.65,651.65 427.86,650.16 428.06,649.97 428.26,648.9 428.47,648.92 428.67,651.26 428.87,648.7 429.08,649.59 429.28,648.41 429.48,649.2 429.68,648.23 429.89,650.6 430.09,647.96 430.29,650 430.5,649.49 430.7,648.35 430.9,650.48 431.11,648.59 431.31,648.28 431.51,647.01 431.71,647.64 431.92,648.96 432.12,649.42 432.32,649.11 432.53,647.62 432.73,647.39 432.93,646.17 433.14,644.39 433.34,646.06 433.54,646.75 433.74,645.74 433.95,645.17 434.15,648.28 434.35,647.24 434.56,645.78 434.76,644.44 434.96,645.24 435.17,646.09 435.37,642.14 435.57,647.44 435.77,643.15 435.98,644.22 436.18,644.06 436.38,643.33 436.59,642.4 436.79,643.59 436.99,644.37 437.2,642.17 437.4,639.94 437.6,640.93 437.8,637.66 438.01,640.9 438.21,638.98 438.41,638.45 438.62,636.85 438.82,639.16 439.02,637.34 439.23,637.36 439.43,639.89 439.63,638 439.83,638.3 440.04,636.62 440.24,634.37 440.44,634.16 440.65,631.16 440.85,631.28 441.05,632.64 441.25,632.42 441.46,631.02 441.66,631.66 441.86,629.83 442.07,628.81 442.27,627.61 442.47,627.89 442.68,627.71 442.88,629.04 443.08,627.41 443.29,627.02 443.49,626.19 443.69,625.34 443.89,626.25 444.1,625.95 444.3,626.03 444.5,626.46 444.71,627.27 444.91,626.4 445.11,623.96 445.32,626.63 445.52,623.8 445.72,622.42 445.92,621.63 446.13,622.93 446.33,623.37 446.53,621.71 446.74,621.54 446.94,620.27 447.14,622.62 447.35,623.58 447.55,622 447.75,623.51 447.95,623.87 448.16,622.31 448.36,622.62 448.56,624.51 448.77,624.17 448.97,625.13 449.17,624.34 449.38,625.33 449.58,627.64 449.78,625.55 449.98,627.67 450.19,628.81 450.39,630.68 450.59,631.14 450.8,632.42 451,632.26 451.2,632.89 451.41,632.84 451.61,633.93 451.81,636.53 452.01,638.24 452.22,639.52 452.42,639.22 452.62,640.06 452.83,640.9 453.03,641.73 453.23,642.57 453.44,643.4 453.64,644.24 453.84,645.07 454.04,645.91 454.25,646.75 454.45,647.59 454.65,648.43 454.86,649.27 455.06,650.12 455.26,650.97 455.47,651.82 455.67,652.68 455.87,653.55 456.07,654.45 456.28,655.37 456.48,656.3 456.68,657.25 456.89,658.21 457.09,659.18 457.29,660.14 457.5,661.1 457.7,662.06 457.9,663.01 458.1,663.94 458.31,664.85 458.51,665.74 458.71,666.61 458.92,667.45 459.12,668.25 459.32,669.01 459.53,669.74 459.73,670.41 459.93,671.04 460.13,671.61 460.34,672.12 460.54,672.58 460.74,672.99 460.95,673.35 461.15,673.68 461.35,673.97 461.56,674.23 461.76,674.46 461.96,674.67 462.16,674.86 462.37,675.05 462.57,675.22 462.77,675.39 462.98,675.56 463.18,675.74 463.38,675.93 463.59,676.14 463.79,676.34 463.99,676.52 464.19,676.68 464.4,676.83 464.6,676.95 464.8,677.06 465.01,677.15 465.21,677.24 465.41,677.31 465.62,677.38 465.82,677.44 466.02,677.5 466.22,677.5 466.43,677.5 466.63,677.5 466.83,677.5 467.04,677.5 467.24,677.5 467.44,677.5 467.65,677.5 467.85,677.5 468.05,677.5 468.25,677.5 468.46,677.5 468.66,677.5 468.86,677.5 469.07,677.5 469.27,677.5 469.47,677.5 469.68,677.5 469.88,677.5 470.08,677.5 470.28,677.5 470.49,677.5 470.69,677.5 470.89,677.5 471.1,677.5 471.3,677.5 471.5,677.5 471.71,677.5 471.91,677.5 472.11,677.5 472.31,677.5 472.52,677.5 472.72,677.5 472.92,677.5 473.13,677.5 473.33,677.5 473.53,677.5 473.74,677.5 473.94,677.5 474.14,677.5 474.34,677.5 474.55,677.5 474.75,677.5 474.95,677.5 475.16,677.5 475.36,677.5 475.56,677.5 475.77,677.5 475.97,677.5 476.17,677.5 476.37,677.5 476.58,677.5 476.78,677.5 476.98,677.5 477.19,677.5 477.39,677.5 477.59,677.5 477.8,677.5 478,677.5 478.2,677.5 478.4,677.5 478.61,677.5 478.81,677.5 479.01,677.5 479.22,677.5 479.42,677.5 479.62,677.5 479.83,677.5 480.03,677.5 480.23,677.5 480.43,677.5 480.64,677.5 480.84,677.5 481.04,677.5 481.25,677.5 481.45,677.5 481.65,677.5 481.86,677.5 482.06,677.5 482.26,677.5 482.46,677.5 482.67,677.5 482.87,677.5 483.07,677.5 483.28,677.5 483.48,677.5 483.68,677.5 483.89,677.5 484.09,677.5 484.29,677.5 484.49,677.5 484.7,677.5 484.9,677.5 485.1,677.5 485.31,677.5 485.51,677.5 485.71,677.5 485.92,677.5 486.12,677.5 486.32,677.5 486.52,677.5 486.73,677.5 486.93,677.5 487.13,677.5 487.34,677.5 487.54,677.5 487.74,677.5 487.95,677.5 488.15,677.5 488.35,677.5 488.55,677.5 488.76,677.5 488.96,677.5 489.16,677.5 489.37,677.5 489.57,677.5 489.77,677.5 489.98,677.5 490.18,677.5 490.38,677.5 490.58,677.5 490.79,677.5 490.99,677.5 491.19,677.5 491.4,677.5 491.6,677.5 491.8,677.5 492,677.5 492.21,677.5 492.41,677.5 492.61,677.5 492.82,677.5 493.02,677.5 493.22,677.5 493.43,677.5 493.63,677.5 493.83,677.5 494.04,677.5 494.24,677.5 494.44,677.5 494.64,677.5 494.85,677.5" fill="none" stroke="#ff1cff" stroke-width="1.7" stroke-linejoin="round"/>
<text x="449" y="556" text-anchor="start" fill="#111" style="font-size:7.8px;stroke-width:0.12px">RMS: 2.30</text>
<text x="449" y="565.3" text-anchor="start" fill="#111" style="font-size:7.8px;stroke-width:0.12px">% G0/G1 : 29.1</text>
<text x="449" y="574.6" text-anchor="start" fill="#111" style="font-size:7.8px;stroke-width:0.12px">% S : 59.8</text>
<text x="449" y="583.9" text-anchor="start" fill="#111" style="font-size:7.8px;stroke-width:0.12px">% G2/M : 13.0</text>
<text x="449" y="593.2" text-anchor="start" fill="#111" style="font-size:7.8px;stroke-width:0.12px">G2/G1 = 2.0</text>
<text x="449" y="602.5" text-anchor="start" fill="#111" style="font-size:7.8px;stroke-width:0.12px">G1 CV : 7.64</text>
<text x="449" y="611.8" text-anchor="start" fill="#111" style="font-size:7.8px;stroke-width:0.12px">G2 CV : 7.65</text>
<line x1="46.6" y1="693.7" x2="504.2" y2="693.7" stroke="#000" stroke-width="1.8"/>
<text x="280.8" y="708.4" text-anchor="middle" fill="#000" style="font-size:11.5px">FL2-H</text>
<text x="1.1" y="741.2" text-anchor="start" fill="#000" style="font-size:16px">H</text>
<text x="125.4" y="742.3" text-anchor="middle" fill="#000" style="font-size:12.2px">WT U251</text>
<text x="277.3" y="742.3" text-anchor="middle" fill="#000" style="font-size:12.2px"><tspan style="font-style:italic">RIPK1</tspan><tspan dy="-4.6" style="font-size:7.6px;font-style:italic">-/-</tspan><tspan dy="4.6"> U251</tspan></text>
<text x="18" y="814.6" text-anchor="middle" fill="#000" style="font-size:10.6px" transform="rotate(-90 18 814.6)">Count</text>
<g style="isolation:isolate">
<path d="M92.22 884.5 L92.22 883.4 L92.42 881.82 L92.63 879.98 L92.83 878.07 L93.04 876.32 L93.24 874.92 L93.44 873.74 L93.65 872.52 L93.85 871.31 L94.06 870.12 L94.26 868.98 L94.46 867.93 L94.67 866.98 L94.87 866.18 L95.08 865.53 L95.28 865.08 L95.48 864.85 L95.69 864.9 L95.89 865.23 L96.1 865.79 L96.3 866.53 L96.5 867.4 L96.71 868.35 L96.91 869.32 L97.12 870.28 L97.32 871.16 L97.52 871.93 L97.73 872.52 L97.93 873 L98.14 873.47 L98.34 873.91 L98.54 874.34 L98.75 874.74 L98.95 875.12 L99.16 875.47 L99.36 875.8 L99.56 876.1 L99.77 876.36 L99.97 876.59 L100.18 876.79 L100.38 876.95 L100.58 877.07 L100.79 877.17 L100.99 877.26 L101.2 877.35 L101.4 877.43 L101.6 877.51 L101.81 877.58 L102.01 877.65 L102.22 877.71 L102.42 877.76 L102.62 877.81 L102.83 877.86 L103.03 877.9 L103.24 877.94 L103.44 877.97 L103.64 878.01 L103.85 878.03 L104.05 878.06 L104.26 878.08 L104.46 878.09 L104.66 878.11 L104.87 878.12 L105.07 878.13 L105.28 878.13 L105.48 878.14 L105.68 878.14 L105.89 878.14 L106.09 878.14 L106.3 878.13 L106.5 878.13 L106.7 878.12 L106.91 878.12 L107.11 878.11 L107.32 878.1 L107.52 878.09 L107.72 878.08 L107.93 878.07 L108.13 878.06 L108.34 878.05 L108.54 878.04 L108.74 878.03 L108.95 878.02 L109.15 878 L109.36 877.98 L109.56 877.96 L109.76 877.93 L109.97 877.9 L110.17 877.87 L110.38 877.83 L110.58 877.79 L110.78 877.74 L110.99 877.7 L111.19 877.65 L111.4 877.6 L111.6 877.55 L111.8 877.49 L112.01 877.44 L112.21 877.38 L112.42 877.33 L112.62 877.27 L112.82 877.21 L113.03 877.16 L113.23 877.1 L113.44 877.04 L113.64 876.99 L113.84 876.93 L114.05 876.88 L114.25 876.82 L114.46 876.77 L114.66 876.72 L114.86 876.67 L115.07 876.63 L115.27 876.58 L115.48 876.54 L115.68 876.51 L115.88 876.47 L116.09 876.44 L116.29 876.41 L116.5 876.39 L116.7 876.37 L116.9 876.35 L117.11 876.34 L117.31 876.33 L117.52 876.32 L117.72 876.31 L117.92 876.31 L118.13 876.3 L118.33 876.3 L118.54 876.3 L118.74 876.3 L118.94 876.3 L119.15 876.31 L119.35 876.31 L119.56 876.32 L119.76 876.34 L119.96 876.35 L120.17 876.37 L120.37 876.39 L120.58 876.41 L120.78 876.44 L120.98 876.47 L121.19 876.5 L121.39 876.53 L121.6 876.57 L121.8 876.61 L122 876.66 L122.21 876.71 L122.41 876.76 L122.62 876.81 L122.82 876.87 L123.02 876.93 L123.23 877 L123.43 877.07 L123.64 877.15 L123.84 877.23 L124.04 877.32 L124.25 877.42 L124.45 877.52 L124.66 877.63 L124.86 877.75 L125.06 877.87 L125.27 878 L125.47 878.13 L125.68 878.27 L125.88 878.41 L126.08 878.56 L126.29 878.71 L126.49 878.87 L126.7 879.03 L126.9 879.19 L127.1 879.36 L127.31 879.53 L127.51 879.7 L127.72 879.88 L127.92 880.06 L128.12 880.24 L128.33 880.43 L128.53 880.63 L128.74 880.86 L128.94 881.11 L129.14 881.39 L129.35 881.67 L129.55 881.97 L129.76 882.28 L129.96 882.58 L130.16 882.88 L130.37 883.17 L130.57 883.45 L130.78 883.72 L130.98 883.96 L131.18 884.17 L131.39 884.35 L131.39 884.5Z" fill="#dfe4a0" style="mix-blend-mode:multiply"/>
<path d="M79.16 884.5 L79.16 884.49 L79.37 884.48 L79.57 884.48 L79.78 884.47 L79.98 884.46 L80.18 884.44 L80.39 884.42 L80.59 884.39 L80.8 884.36 L81 884.31 L81.2 884.25 L81.41 884.17 L81.61 884.07 L81.82 883.95 L82.02 883.79 L82.22 883.59 L82.43 883.35 L82.63 883.04 L82.84 882.67 L83.04 882.21 L83.24 881.66 L83.45 881 L83.65 880.21 L83.86 879.26 L84.06 878.15 L84.26 876.85 L84.47 875.34 L84.67 873.59 L84.88 871.59 L85.08 869.31 L85.28 866.73 L85.49 863.84 L85.69 860.61 L85.9 857.05 L86.1 853.14 L86.3 848.89 L86.51 844.29 L86.71 839.37 L86.92 834.15 L87.12 828.66 L87.32 822.93 L87.53 817.02 L87.73 810.98 L87.94 804.86 L88.14 798.75 L88.34 792.71 L88.55 786.83 L88.75 781.18 L88.96 775.85 L89.16 770.92 L89.36 766.46 L89.57 762.56 L89.77 759.27 L89.98 756.65 L90.18 754.74 L90.38 753.59 L90.59 753.2 L90.79 753.53 L91 754.53 L91.2 756.18 L91.4 758.45 L91.61 761.31 L91.81 764.72 L92.02 768.63 L92.22 772.98 L92.42 777.71 L92.63 782.76 L92.83 788.07 L93.04 793.57 L93.24 799.18 L93.44 804.86 L93.65 810.54 L93.85 816.16 L94.06 821.68 L94.26 827.05 L94.46 832.22 L94.67 837.17 L94.87 841.87 L95.08 846.3 L95.28 850.44 L95.48 854.29 L95.69 857.84 L95.89 861.09 L96.1 864.05 L96.3 866.73 L96.5 869.14 L96.71 871.28 L96.91 873.19 L97.12 874.87 L97.32 876.34 L97.52 877.62 L97.73 878.73 L97.93 879.69 L98.14 880.5 L98.34 881.2 L98.54 881.79 L98.75 882.28 L98.95 882.7 L99.16 883.04 L99.36 883.33 L99.56 883.56 L99.77 883.75 L99.97 883.91 L100.18 884.03 L100.38 884.13 L100.58 884.21 L100.79 884.28 L100.99 884.33 L101.2 884.37 L101.4 884.4 L101.6 884.42 L101.81 884.44 L102.01 884.46 L102.22 884.47 L102.42 884.48 L102.62 884.48 L102.83 884.49 L102.83 884.5Z" fill="#a9a9f5" style="mix-blend-mode:multiply"/>
<path d="M117.11 884.5 L117.11 884.42 L117.31 884.41 L117.52 884.4 L117.72 884.38 L117.92 884.37 L118.13 884.35 L118.33 884.33 L118.54 884.31 L118.74 884.29 L118.94 884.26 L119.15 884.24 L119.35 884.21 L119.56 884.17 L119.76 884.14 L119.96 884.1 L120.17 884.06 L120.37 884.01 L120.58 883.96 L120.78 883.91 L120.98 883.85 L121.19 883.79 L121.39 883.73 L121.6 883.66 L121.8 883.58 L122 883.5 L122.21 883.42 L122.41 883.34 L122.62 883.24 L122.82 883.15 L123.02 883.05 L123.23 882.94 L123.43 882.84 L123.64 882.72 L123.84 882.61 L124.04 882.49 L124.25 882.37 L124.45 882.24 L124.66 882.12 L124.86 881.99 L125.06 881.86 L125.27 881.73 L125.47 881.59 L125.68 881.46 L125.88 881.33 L126.08 881.2 L126.29 881.07 L126.49 880.94 L126.7 880.82 L126.9 880.7 L127.1 880.59 L127.31 880.48 L127.51 880.37 L127.72 880.27 L127.92 880.18 L128.12 880.09 L128.33 880.01 L128.53 879.94 L128.74 879.88 L128.94 879.83 L129.14 879.79 L129.35 879.75 L129.55 879.73 L129.76 879.71 L129.96 879.71 L130.16 879.72 L130.37 879.75 L130.57 879.8 L130.78 879.88 L130.98 879.97 L131.18 880.08 L131.39 880.2 L131.59 880.34 L131.8 880.5 L132 880.66 L132.2 880.84 L132.41 881.02 L132.61 881.21 L132.82 881.4 L133.02 881.59 L133.22 881.79 L133.43 881.98 L133.63 882.17 L133.84 882.35 L134.04 882.53 L134.24 882.7 L134.45 882.87 L134.65 883.02 L134.86 883.17 L135.06 883.31 L135.26 883.43 L135.47 883.55 L135.67 883.66 L135.88 883.76 L136.08 883.85 L136.28 883.93 L136.49 884.01 L136.69 884.07 L136.9 884.13 L137.1 884.19 L137.3 884.23 L137.51 884.27 L137.71 884.31 L137.92 884.34 L138.12 884.36 L138.32 884.39 L138.32 884.5Z" fill="#a4f2a0" style="mix-blend-mode:multiply"/>
</g>
<line x1="50.4" y1="746.3" x2="50.4" y2="885.1" stroke="#4a4a4a" stroke-width="1.3"/>
<line x1="49.8" y1="884.5" x2="180" y2="884.5" stroke="#4a4a4a" stroke-width="1.3"/>
<line x1="48.6" y1="884.5" x2="50.4" y2="884.5" stroke="#4a4a4a" stroke-width="0.9"/>
<line x1="48.6" y1="878.51" x2="50.4" y2="878.51" stroke="#4a4a4a" stroke-width="0.9"/>
<line x1="48.6" y1="872.52" x2="50.4" y2="872.52" stroke="#4a4a4a" stroke-width="0.9"/>
<line x1="48.6" y1="866.53" x2="50.4" y2="866.53" stroke="#4a4a4a" stroke-width="0.9"/>
<line x1="48.6" y1="860.54" x2="50.4" y2="860.54" stroke="#4a4a4a" stroke-width="0.9"/>
<line x1="48.6" y1="854.55" x2="50.4" y2="854.55" stroke="#4a4a4a" stroke-width="0.9"/>
<line x1="48.6" y1="848.56" x2="50.4" y2="848.56" stroke="#4a4a4a" stroke-width="0.9"/>
<line x1="48.6" y1="842.57" x2="50.4" y2="842.57" stroke="#4a4a4a" stroke-width="0.9"/>
<line x1="48.6" y1="836.58" x2="50.4" y2="836.58" stroke="#4a4a4a" stroke-width="0.9"/>
<line x1="48.6" y1="830.59" x2="50.4" y2="830.59" stroke="#4a4a4a" stroke-width="0.9"/>
<line x1="48.6" y1="824.6" x2="50.4" y2="824.6" stroke="#4a4a4a" stroke-width="0.9"/>
<line x1="48.6" y1="818.61" x2="50.4" y2="818.61" stroke="#4a4a4a" stroke-width="0.9"/>
<line x1="48.6" y1="812.62" x2="50.4" y2="812.62" stroke="#4a4a4a" stroke-width="0.9"/>
<line x1="48.6" y1="806.63" x2="50.4" y2="806.63" stroke="#4a4a4a" stroke-width="0.9"/>
<line x1="48.6" y1="800.64" x2="50.4" y2="800.64" stroke="#4a4a4a" stroke-width="0.9"/>
<line x1="48.6" y1="794.65" x2="50.4" y2="794.65" stroke="#4a4a4a" stroke-width="0.9"/>
<line x1="48.6" y1="788.66" x2="50.4" y2="788.66" stroke="#4a4a4a" stroke-width="0.9"/>
<line x1="48.6" y1="782.67" x2="50.4" y2="782.67" stroke="#4a4a4a" stroke-width="0.9"/>
<line x1="48.6" y1="776.68" x2="50.4" y2="776.68" stroke="#4a4a4a" stroke-width="0.9"/>
<line x1="48.6" y1="770.69" x2="50.4" y2="770.69" stroke="#4a4a4a" stroke-width="0.9"/>
<line x1="48.6" y1="764.7" x2="50.4" y2="764.7" stroke="#4a4a4a" stroke-width="0.9"/>
<line x1="48.6" y1="758.71" x2="50.4" y2="758.71" stroke="#4a4a4a" stroke-width="0.9"/>
<line x1="48.6" y1="752.72" x2="50.4" y2="752.72" stroke="#4a4a4a" stroke-width="0.9"/>
<line x1="48.6" y1="746.73" x2="50.4" y2="746.73" stroke="#4a4a4a" stroke-width="0.9"/>
<line x1="46" y1="884.5" x2="50.4" y2="884.5" stroke="#4a4a4a" stroke-width="1.1"/>
<text x="45" y="887.4" text-anchor="end" fill="#111" style="font-size:7.8px;stroke-width:0.12px">0</text>
<line x1="46" y1="860.54" x2="50.4" y2="860.54" stroke="#4a4a4a" stroke-width="1.1"/>
<text x="45" y="863.44" text-anchor="end" fill="#111" style="font-size:7.8px;stroke-width:0.12px">100</text>
<line x1="46" y1="836.58" x2="50.4" y2="836.58" stroke="#4a4a4a" stroke-width="1.1"/>
<text x="45" y="839.48" text-anchor="end" fill="#111" style="font-size:7.8px;stroke-width:0.12px">200</text>
<line x1="46" y1="812.62" x2="50.4" y2="812.62" stroke="#4a4a4a" stroke-width="1.1"/>
<text x="45" y="815.52" text-anchor="end" fill="#111" style="font-size:7.8px;stroke-width:0.12px">300</text>
<line x1="46" y1="788.66" x2="50.4" y2="788.66" stroke="#4a4a4a" stroke-width="1.1"/>
<text x="45" y="791.56" text-anchor="end" fill="#111" style="font-size:7.8px;stroke-width:0.12px">400</text>
<line x1="46" y1="764.7" x2="50.4" y2="764.7" stroke="#4a4a4a" stroke-width="1.1"/>
<text x="45" y="767.6" text-anchor="end" fill="#111" style="font-size:7.8px;stroke-width:0.12px">500</text>
<line x1="50.4" y1="884.5" x2="50.4" y2="888.1" stroke="#4a4a4a" stroke-width="1.1"/>
<text x="50.4" y="895.9" text-anchor="middle" fill="#111" style="font-size:7.8px;stroke-width:0.12px">0</text>
<line x1="60.6" y1="884.5" x2="60.6" y2="886.3" stroke="#4a4a4a" stroke-width="0.9"/>
<line x1="70.8" y1="884.5" x2="70.8" y2="886.3" stroke="#4a4a4a" stroke-width="0.9"/>
<line x1="81" y1="884.5" x2="81" y2="886.3" stroke="#4a4a4a" stroke-width="0.9"/>
<line x1="91.2" y1="884.5" x2="91.2" y2="888.1" stroke="#4a4a4a" stroke-width="1.1"/>
<text x="91.2" y="895.9" text-anchor="middle" fill="#111" style="font-size:7.8px;stroke-width:0.12px">200</text>
<line x1="101.4" y1="884.5" x2="101.4" y2="886.3" stroke="#4a4a4a" stroke-width="0.9"/>
<line x1="111.6" y1="884.5" x2="111.6" y2="886.3" stroke="#4a4a4a" stroke-width="0.9"/>
<line x1="121.8" y1="884.5" x2="121.8" y2="886.3" stroke="#4a4a4a" stroke-width="0.9"/>
<line x1="132" y1="884.5" x2="132" y2="888.1" stroke="#4a4a4a" stroke-width="1.1"/>
<text x="132" y="895.9" text-anchor="middle" fill="#111" style="font-size:7.8px;stroke-width:0.12px">400</text>
<line x1="142.2" y1="884.5" x2="142.2" y2="886.3" stroke="#4a4a4a" stroke-width="0.9"/>
<line x1="152.4" y1="884.5" x2="152.4" y2="886.3" stroke="#4a4a4a" stroke-width="0.9"/>
<line x1="162.6" y1="884.5" x2="162.6" y2="886.3" stroke="#4a4a4a" stroke-width="0.9"/>
<line x1="172.8" y1="884.5" x2="172.8" y2="888.1" stroke="#4a4a4a" stroke-width="1.1"/>
<text x="172.8" y="895.9" text-anchor="middle" fill="#111" style="font-size:7.8px;stroke-width:0.12px">600</text>
<polyline points="50.4,884.5 50.6,884.5 50.81,884.5 51.01,884.5 51.22,884.5 51.42,884.5 51.62,884.5 51.83,884.5 52.03,884.5 52.24,884.5 52.44,884.5 52.64,884.5 52.85,884.5 53.05,884.5 53.26,884.5 53.46,884.5 53.66,884.5 53.87,884.5 54.07,884.5 54.28,884.5 54.48,884.5 54.68,884.5 54.89,884.5 55.09,884.5 55.3,884.5 55.5,884.5 55.7,884.5 55.91,884.5 56.11,884.5 56.32,884.5 56.52,884.5 56.72,884.5 56.93,884.5 57.13,884.5 57.34,884.5 57.54,884.5 57.74,884.5 57.95,884.5 58.15,884.5 58.36,884.5 58.56,884.5 58.76,884.5 58.97,884.5 59.17,884.5 59.38,884.5 59.58,884.5 59.78,884.5 59.99,884.5 60.19,884.5 60.4,884.5 60.6,884.5 60.8,884.5 61.01,884.5 61.21,884.5 61.42,884.5 61.62,884.5 61.82,884.5 62.03,884.5 62.23,884.5 62.44,884.5 62.64,884.5 62.84,884.5 63.05,884.5 63.25,884.5 63.46,884.5 63.66,884.5 63.86,884.5 64.07,884.49 64.27,884.46 64.48,884.43 64.68,884.38 64.88,884.32 65.09,884.27 65.29,884.21 65.5,884.16 65.7,884.1 65.9,884.05 66.11,883.99 66.31,883.94 66.52,883.88 66.72,883.83 66.92,883.77 67.13,883.71 67.33,883.65 67.54,883.59 67.74,883.53 67.94,883.47 68.15,883.4 68.35,883.34 68.56,883.27 68.76,883.19 68.96,883.12 69.17,883.04 69.37,882.96 69.58,882.88 69.78,882.79 69.98,882.7 70.19,882.6 70.39,882.5 70.6,882.4 70.8,882.29 71,882.18 71.21,882.06 71.41,881.93 71.62,881.8 71.82,881.65 72.02,881.49 72.23,881.32 72.43,881.14 72.64,880.96 72.84,880.76 73.04,880.56 73.25,880.35 73.45,880.14 73.66,879.91 73.86,879.68 74.06,879.45 74.27,879.21 74.47,878.96 74.68,878.71 74.88,878.45 75.08,878.18 75.29,877.91 75.49,877.63 75.7,877.35 75.9,877.05 76.1,876.75 76.31,876.44 76.51,876.12 76.72,875.79 76.92,875.44 77.12,875.08 77.33,874.71 77.53,874.33 77.74,873.92 77.94,873.51 78.14,873.1 78.35,872.67 78.55,872.23 78.76,871.78 78.96,871.3 79.16,870.79 79.37,870.25 79.57,869.68 79.78,869.06 79.98,868.39 80.18,867.66 80.39,866.88 80.59,866.03 80.8,865.11 81,864.12 81.2,863.07 81.41,861.96 81.61,860.79 81.82,859.55 82.02,858.24 82.22,856.85 82.43,855.39 82.63,853.83 82.84,852.19 83.04,850.46 83.24,848.62 83.45,846.69 83.65,844.66 83.86,842.53 84.06,840.29 84.26,837.95 84.47,835.51 84.67,832.98 84.88,830.36 85.08,827.67 85.28,824.9 85.49,822.07 85.69,819.19 85.9,816.25 86.1,813.28 86.3,810.28 86.51,807.27 86.71,804.25 86.92,801.17 87.12,798.12 87.32,795.09 87.53,792.11 87.73,789.19 87.94,786.32 88.14,783.53 88.34,780.83 88.55,778.23 88.75,775.74 88.96,773.36 89.16,771.12 89.36,769.01 89.57,767.05 89.77,765.26 89.98,763.62 90.18,762.16 90.38,760.88 90.59,759.79 90.79,758.89 91,758.19 91.2,757.68 91.4,757.37 91.61,757.27 91.81,757.49 92.02,758.15 92.22,759.24 92.42,760.75 92.63,762.66 92.83,764.95 93.04,767.61 93.24,770.61 93.44,773.91 93.65,777.49 93.85,781.3 94.06,785.33 94.26,789.53 94.46,793.86 94.67,798.3 94.87,802.8 95.08,807.33 95.28,811.87 95.48,816.37 95.69,820.82 95.89,825.18 96.1,829.43 96.3,833.55 96.5,837.53 96.71,840.85 96.91,843.82 97.12,846.47 97.32,848.83 97.52,850.92 97.73,852.79 97.93,854.47 98.14,856 98.34,857.41 98.54,858.75 98.75,860.07 98.95,861.4 99.16,862.76 99.36,864.11 99.56,865.44 99.77,866.73 99.97,867.98 100.18,869.17 100.38,870.28 100.58,871.3 100.79,872.23 100.99,873.03 101.2,873.7 101.4,874.23 101.6,874.65 101.81,875.01 102.01,875.33 102.22,875.6 102.42,875.83 102.62,876.03 102.83,876.21 103.03,876.36 103.24,876.48 103.44,876.59 103.64,876.68 103.85,876.76 104.05,876.82 104.26,876.87 104.46,876.92 104.66,876.95 104.87,876.98 105.07,877.01 105.28,877.03 105.48,877.04 105.68,877.05 105.89,877.06 106.09,877.07 106.3,877.07 106.5,877.07 106.7,877.07 106.91,877.07 107.11,877.07 107.32,877.06 107.52,877.05 107.72,877.04 107.93,877.03 108.13,877.01 108.34,876.99 108.54,876.96 108.74,876.94 108.95,876.91 109.15,876.88 109.36,876.84 109.56,876.81 109.76,876.78 109.97,876.74 110.17,876.7 110.38,876.66 110.58,876.63 110.78,876.59 110.99,876.55 111.19,876.51 111.4,876.47 111.6,876.43 111.8,876.39 112.01,876.35 112.21,876.31 112.42,876.27 112.62,876.23 112.82,876.19 113.03,876.14 113.23,876.09 113.44,876.04 113.64,875.99 113.84,875.93 114.05,875.88 114.25,875.83 114.46,875.77 114.66,875.72 114.86,875.66 115.07,875.6 115.27,875.55 115.48,875.49 115.68,875.44 115.88,875.38 116.09,875.33 116.29,875.27 116.5,875.22 116.7,875.17 116.9,875.12 117.11,875.08 117.31,875.03 117.52,874.99 117.72,874.94 117.92,874.91 118.13,874.87 118.33,874.83 118.54,874.8 118.74,874.77 118.94,874.75 119.15,874.73 119.35,874.71 119.56,874.7 119.76,874.69 119.96,874.68 120.17,874.68 120.37,874.68 120.58,874.7 120.78,874.72 120.98,874.75 121.19,874.79 121.39,874.84 121.6,874.9 121.8,874.96 122,875.03 122.21,875.1 122.41,875.18 122.62,875.26 122.82,875.35 123.02,875.43 123.23,875.52 123.43,875.62 123.64,875.71 123.84,875.81 124.04,875.9 124.25,875.99 124.45,876.09 124.66,876.18 124.86,876.27 125.06,876.35 125.27,876.44 125.47,876.53 125.68,876.61 125.88,876.7 126.08,876.79 126.29,876.88 126.49,876.97 126.7,877.06 126.9,877.16 127.1,877.25 127.31,877.35 127.51,877.45 127.72,877.55 127.92,877.65 128.12,877.75 128.33,877.85 128.53,877.96 128.74,878.07 128.94,878.18 129.14,878.29 129.35,878.4 129.55,878.51 129.76,878.63 129.96,878.75 130.16,878.87 130.37,879 130.57,879.13 130.78,879.26 130.98,879.4 131.18,879.54 131.39,879.69 131.59,879.83 131.8,879.98 132,880.13 132.2,880.28 132.41,880.43 132.61,880.58 132.82,880.73 133.02,880.87 133.22,881.02 133.43,881.17 133.63,881.31 133.84,881.45 134.04,881.59 134.24,881.72 134.45,881.85 134.65,881.98 134.86,882.1 135.06,882.22 135.26,882.34 135.47,882.47 135.67,882.59 135.88,882.71 136.08,882.83 136.28,882.95 136.49,883.06 136.69,883.18 136.9,883.29 137.1,883.4 137.3,883.51 137.51,883.62 137.71,883.72 137.92,883.82 138.12,883.91 138.32,884.01 138.53,884.09 138.73,884.17 138.94,884.25 139.14,884.32 139.34,884.39 139.55,884.45 139.75,884.5 139.96,884.5 140.16,884.5 140.36,884.5 140.57,884.5 140.77,884.5 140.98,884.5 141.18,884.5 141.38,884.5 141.59,884.5 141.79,884.5 142,884.5 142.2,884.5 142.4,884.5 142.61,884.5 142.81,884.5 143.02,884.5 143.22,884.5 143.42,884.5 143.63,884.5 143.83,884.5 144.04,884.5 144.24,884.5 144.44,884.5 144.65,884.5 144.85,884.5 145.06,884.5 145.26,884.5 145.46,884.5 145.67,884.5 145.87,884.5 146.08,884.5 146.28,884.5 146.48,884.5 146.69,884.5 146.89,884.5 147.1,884.5 147.3,884.5 147.5,884.5 147.71,884.5 147.91,884.5 148.12,884.5 148.32,884.5 148.52,884.5 148.73,884.5 148.93,884.5 149.14,884.5 149.34,884.5 149.54,884.5 149.75,884.5 149.95,884.5 150.16,884.5 150.36,884.5 150.56,884.5 150.77,884.5 150.97,884.5 151.18,884.5 151.38,884.5 151.58,884.5 151.79,884.5 151.99,884.5 152.2,884.5 152.4,884.5 152.6,884.5 152.81,884.5 153.01,884.5 153.22,884.5 153.42,884.5 153.62,884.5 153.83,884.5 154.03,884.5 154.24,884.5 154.44,884.5 154.64,884.5 154.85,884.5 155.05,884.5 155.26,884.5 155.46,884.5 155.66,884.5 155.87,884.5 156.07,884.5 156.28,884.5 156.48,884.5 156.68,884.5 156.89,884.5 157.09,884.5 157.3,884.5 157.5,884.5 157.7,884.5 157.91,884.5 158.11,884.5 158.32,884.5 158.52,884.5 158.72,884.5 158.93,884.5 159.13,884.5 159.34,884.5 159.54,884.5 159.74,884.5 159.95,884.5 160.15,884.5 160.36,884.5 160.56,884.5 160.76,884.5 160.97,884.5 161.17,884.5 161.38,884.5 161.58,884.5 161.78,884.5 161.99,884.5 162.19,884.5 162.4,884.5 162.6,884.5 162.8,884.5 163.01,884.5 163.21,884.5 163.42,884.5 163.62,884.5 163.82,884.5 164.03,884.5 164.23,884.5 164.44,884.5 164.64,884.5 164.84,884.5 165.05,884.5 165.25,884.5 165.46,884.5 165.66,884.5 165.86,884.5 166.07,884.5 166.27,884.5 166.48,884.5 166.68,884.5 166.88,884.5 167.09,884.5 167.29,884.5 167.5,884.5 167.7,884.5 167.9,884.5 168.11,884.5 168.31,884.5 168.52,884.5 168.72,884.5 168.92,884.5 169.13,884.5 169.33,884.5 169.54,884.5 169.74,884.5 169.94,884.5 170.15,884.5 170.35,884.5 170.56,884.5 170.76,884.5 170.96,884.5 171.17,884.5 171.37,884.5 171.58,884.5 171.78,884.5 171.98,884.5 172.19,884.5 172.39,884.5 172.6,884.5 172.8,884.5 173,884.5 173.21,884.5 173.41,884.5 173.62,884.5 173.82,884.5 174.02,884.5 174.23,884.5 174.43,884.5 174.64,884.5 174.84,884.5 175.04,884.5 175.25,884.5 175.45,884.5 175.66,884.5 175.86,884.5 176.06,884.5 176.27,884.5 176.47,884.5 176.68,884.5 176.88,884.5 177.08,884.5 177.29,884.5 177.49,884.5 177.7,884.5 177.9,884.5 178.1,884.5 178.31,884.5 178.51,884.5 178.72,884.5 178.92,884.5 179.12,884.5 179.33,884.5 179.53,884.5 179.74,884.5 179.94,884.5" fill="none" stroke="#111" stroke-width="1.1" stroke-linejoin="round"/>
<polyline points="50.4,884.5 50.6,884.5 50.81,884.5 51.01,884.5 51.22,884.5 51.42,884.5 51.62,884.5 51.83,884.5 52.03,884.5 52.24,884.5 52.44,884.5 52.64,884.5 52.85,884.5 53.05,884.5 53.26,884.5 53.46,884.5 53.66,884.5 53.87,884.5 54.07,884.5 54.28,884.5 54.48,884.5 54.68,884.5 54.89,884.5 55.09,884.5 55.3,884.5 55.5,884.5 55.7,884.5 55.91,884.5 56.11,884.5 56.32,884.5 56.52,884.5 56.72,884.5 56.93,884.5 57.13,884.5 57.34,884.5 57.54,884.5 57.74,884.5 57.95,884.5 58.15,884.5 58.36,884.5 58.56,884.5 58.76,884.5 58.97,884.5 59.17,884.5 59.38,884.5 59.58,884.5 59.78,884.5 59.99,884.5 60.19,884.5 60.4,884.5 60.6,884.5 60.8,884.5 61.01,884.5 61.21,884.5 61.42,884.5 61.62,884.5 61.82,884.5 62.03,884.5 62.23,884.5 62.44,884.5 62.64,884.5 62.84,884.5 63.05,884.5 63.25,884.5 63.46,884.5 63.66,884.5 63.86,884.5 64.07,884.5 64.27,884.5 64.48,884.5 64.68,884.5 64.88,884.5 65.09,884.5 65.29,884.5 65.5,884.5 65.7,884.5 65.9,884.5 66.11,884.5 66.31,884.5 66.52,884.5 66.72,884.5 66.92,884.5 67.13,884.5 67.33,884.5 67.54,884.5 67.74,884.5 67.94,884.5 68.15,884.5 68.35,884.5 68.56,884.5 68.76,884.5 68.96,884.5 69.17,884.5 69.37,884.5 69.58,884.5 69.78,884.5 69.98,884.5 70.19,884.5 70.39,884.5 70.6,884.5 70.8,884.5 71,884.5 71.21,884.5 71.41,884.5 71.62,884.5 71.82,884.5 72.02,884.5 72.23,884.5 72.43,884.5 72.64,884.5 72.84,884.5 73.04,884.5 73.25,884.5 73.45,884.5 73.66,884.5 73.86,884.5 74.06,884.5 74.27,884.5 74.47,884.5 74.68,884.5 74.88,884.5 75.08,884.5 75.29,884.5 75.49,884.5 75.7,884.5 75.9,884.5 76.1,884.5 76.31,884.5 76.51,884.5 76.72,884.5 76.92,884.5 77.12,884.5 77.33,884.5 77.53,884.5 77.74,884.5 77.94,884.5 78.14,884.49 78.35,884.49 78.55,884.49 78.76,884.48 78.96,884.48 79.16,884.47 79.37,884.45 79.57,884.44 79.78,884.42 79.98,884.39 80.18,884.35 80.39,884.3 80.59,884.24 80.8,884.16 81,884.06 81.2,883.93 81.41,883.77 81.61,883.57 81.82,883.32 82.02,883 82.22,882.62 82.43,882.15 82.63,881.59 82.84,880.91 83.04,880.1 83.24,879.13 83.45,877.99 83.65,876.66 83.86,875.11 84.06,873.32 84.26,871.26 84.47,868.92 84.67,866.28 84.88,863.31 85.08,860 85.28,856.35 85.49,852.34 85.69,847.98 85.9,843.27 86.1,838.22 86.3,832.87 86.51,827.24 86.71,821.36 86.92,815.3 87.12,809.1 87.32,802.83 87.53,796.56 87.73,790.37 87.94,784.33 88.14,778.54 88.34,773.07 88.55,768.02 88.75,763.45 88.96,759.45 89.16,756.07 89.36,753.38 89.57,751.43 89.77,750.24 89.98,749.84 90.18,750.14 90.38,751.04 90.59,752.51 90.79,754.55 91,757.12 91.2,760.2 91.4,763.74 91.61,767.7 91.81,772.03 92.02,776.68 92.22,781.59 92.42,786.72 92.63,792 92.83,797.39 93.04,802.83 93.24,808.26 93.44,813.65 93.65,818.96 93.85,824.13 94.06,829.14 94.26,833.96 94.46,838.57 94.67,842.94 94.87,847.06 95.08,850.92 95.28,854.52 95.48,857.85 95.69,860.92 95.89,863.72 96.1,866.28 96.3,868.59 96.5,870.67 96.71,872.15 96.91,873.31 97.12,874.17 97.32,874.78 97.52,875.18 97.73,875.41 97.93,875.52 98.14,875.53 98.34,875.5 98.54,875.46 98.75,875.44 98.95,875.49 99.16,875.58 99.36,875.68 99.56,875.62 99.77,875.75 99.97,875.92 100.18,876.03 100.38,876.31 100.58,876.55 100.79,877.07 100.99,877.09 101.2,876.27 101.4,876.48 101.6,876.79 101.81,877.03 102.01,877.02 102.22,876.88 102.42,877.2 102.62,876.97 102.83,876.84 103.03,877.16 103.24,877.25 103.44,877.34 103.64,877.37 103.85,876.58 104.05,877.54 104.26,877.03 104.46,876.95 104.66,876.89 104.87,876.56 105.07,876 105.28,876.18 105.48,876.3 105.68,876.49 105.89,876.33 106.09,875.84 106.3,876.14 106.5,876.51 106.7,876.65 106.91,876.61 107.11,876.68 107.32,875.71 107.52,875.63 107.72,875.81 107.93,875.19 108.13,875.78 108.34,875.41 108.54,875.25 108.74,876.09 108.95,876.38 109.15,876.23 109.36,875.45 109.56,875.02 109.76,875.85 109.97,875.25 110.17,875.59 110.38,875.71 110.58,875.82 110.78,875.77 110.99,876.34 111.19,876.22 111.4,876.27 111.6,875.62 111.8,874.78 112.01,874.24 112.21,875.25 112.42,876.15 112.62,875.96 112.82,876.1 113.03,875.02 113.23,875.19 113.44,875.77 113.64,875.32 113.84,875.32 114.05,876.17 114.25,876.04 114.46,875.88 114.66,875.72 114.86,875.62 115.07,875.77 115.27,875.6 115.48,875.84 115.68,876.03 115.88,875.14 116.09,875.27 116.29,875.26 116.5,876.03 116.7,875.72 116.9,875.2 117.11,875.82 117.31,875.08 117.52,875.38 117.72,875.15 117.92,875.26 118.13,875.14 118.33,874.7 118.54,875.16 118.74,874.54 118.94,875.22 119.15,875.52 119.35,874.98 119.56,875.48 119.76,875.39 119.96,874.88 120.17,874.59 120.37,875.68 120.58,875.19 120.78,874.5 120.98,874.55 121.19,875.15 121.39,875.53 121.6,875.57 121.8,875.94 122,875.76 122.21,875.69 122.41,875.68 122.62,875.2 122.82,875.61 123.02,876.27 123.23,875.56 123.43,876.18 123.64,876.19 123.84,876.12 124.04,876.22 124.25,876.55 124.45,876.42 124.66,875.48 124.86,876.28 125.06,876.43 125.27,876.04 125.47,876.11 125.68,876.18 125.88,876.22 126.08,877.39 126.29,877.43 126.49,877.12 126.7,876.93 126.9,876.62 127.1,876.9 127.31,877.35 127.51,877.48 127.72,877.71 127.92,877.7 128.12,877.62 128.33,878.08 128.53,878.52 128.74,878.79 128.94,878.22 129.14,878.05 129.35,878.2 129.55,878.41 129.76,878.59 129.96,879.08 130.16,879.1 130.37,879.87 130.57,879.9 130.78,880.22 130.98,879.85 131.18,880.33 131.39,880.4 131.59,880.31 131.8,879.99 132,880.69 132.2,880.82 132.41,880.94 132.61,881.07 132.82,881.2 133.02,881.33 133.22,881.45 133.43,881.58 133.63,881.7 133.84,881.83 134.04,881.95 134.24,882.07 134.45,882.19 134.65,882.31 134.86,882.43 135.06,882.54 135.26,882.66 135.47,882.77 135.67,882.88 135.88,882.99 136.08,883.09 136.28,883.2 136.49,883.3 136.69,883.4 136.9,883.5 137.1,883.6 137.3,883.69 137.51,883.78 137.71,883.87 137.92,883.95 138.12,884.03 138.32,884.11 138.53,884.18 138.73,884.24 138.94,884.3 139.14,884.36 139.34,884.41 139.55,884.46 139.75,884.5 139.96,884.5 140.16,884.5 140.36,884.5 140.57,884.5 140.77,884.5 140.98,884.5 141.18,884.5 141.38,884.5 141.59,884.5 141.79,884.5 142,884.5 142.2,884.5 142.4,884.5 142.61,884.5 142.81,884.5 143.02,884.5 143.22,884.5 143.42,884.5 143.63,884.5 143.83,884.5 144.04,884.5 144.24,884.5 144.44,884.5 144.65,884.5 144.85,884.5 145.06,884.5 145.26,884.5 145.46,884.5 145.67,884.5 145.87,884.5 146.08,884.5 146.28,884.5 146.48,884.5 146.69,884.5 146.89,884.5 147.1,884.5 147.3,884.5 147.5,884.5 147.71,884.5 147.91,884.5 148.12,884.5 148.32,884.5 148.52,884.5 148.73,884.5 148.93,884.5 149.14,884.5 149.34,884.5 149.54,884.5 149.75,884.5 149.95,884.5 150.16,884.5 150.36,884.5 150.56,884.5 150.77,884.5 150.97,884.5 151.18,884.5 151.38,884.5 151.58,884.5 151.79,884.5 151.99,884.5 152.2,884.5 152.4,884.5 152.6,884.5 152.81,884.5 153.01,884.5 153.22,884.5 153.42,884.5 153.62,884.5 153.83,884.5 154.03,884.5 154.24,884.5 154.44,884.5 154.64,884.5 154.85,884.5 155.05,884.5 155.26,884.5 155.46,884.5 155.66,884.5 155.87,884.5 156.07,884.5 156.28,884.5 156.48,884.5 156.68,884.5 156.89,884.5 157.09,884.5 157.3,884.5 157.5,884.5 157.7,884.5 157.91,884.5 158.11,884.5 158.32,884.5 158.52,884.5 158.72,884.5 158.93,884.5 159.13,884.5 159.34,884.5 159.54,884.5 159.74,884.5 159.95,884.5 160.15,884.5 160.36,884.5 160.56,884.5 160.76,884.5 160.97,884.5 161.17,884.5 161.38,884.5 161.58,884.5 161.78,884.5 161.99,884.5 162.19,884.5 162.4,884.5 162.6,884.5 162.8,884.5 163.01,884.5 163.21,884.5 163.42,884.5 163.62,884.5 163.82,884.5 164.03,884.5 164.23,884.5 164.44,884.5 164.64,884.5 164.84,884.5 165.05,884.5 165.25,884.5 165.46,884.5 165.66,884.5 165.86,884.5 166.07,884.5 166.27,884.5 166.48,884.5 166.68,884.5 166.88,884.5 167.09,884.5 167.29,884.5 167.5,884.5 167.7,884.5 167.9,884.5 168.11,884.5 168.31,884.5 168.52,884.5 168.72,884.5 168.92,884.5 169.13,884.5 169.33,884.5 169.54,884.5 169.74,884.5 169.94,884.5 170.15,884.5 170.35,884.5 170.56,884.5 170.76,884.5 170.96,884.5 171.17,884.5 171.37,884.5 171.58,884.5 171.78,884.5 171.98,884.5 172.19,884.5 172.39,884.5 172.6,884.5 172.8,884.5 173,884.5 173.21,884.5 173.41,884.5 173.62,884.5 173.82,884.5 174.02,884.5 174.23,884.5 174.43,884.5 174.64,884.5 174.84,884.5 175.04,884.5 175.25,884.5 175.45,884.5 175.66,884.5 175.86,884.5 176.06,884.5 176.27,884.5 176.47,884.5 176.68,884.5 176.88,884.5 177.08,884.5 177.29,884.5 177.49,884.5 177.7,884.5 177.9,884.5 178.1,884.5 178.31,884.5 178.51,884.5 178.72,884.5 178.92,884.5 179.12,884.5 179.33,884.5 179.53,884.5 179.74,884.5 179.94,884.5" fill="none" stroke="#ff1cff" stroke-width="1.7" stroke-linejoin="round"/>
<text x="125.6" y="756" text-anchor="start" fill="#111" style="font-size:7.8px;stroke-width:0.12px">RMS: 7.22</text>
<text x="125.6" y="765.4" text-anchor="start" fill="#111" style="font-size:7.8px;stroke-width:0.12px">% G0/G1 : 54.8</text>
<text x="125.6" y="774.8" text-anchor="start" fill="#111" style="font-size:7.8px;stroke-width:0.12px">% S : 21.4</text>
<text x="125.6" y="784.2" text-anchor="start" fill="#111" style="font-size:7.8px;stroke-width:0.12px">% G2/M : 4.03</text>
<text x="125.6" y="793.6" text-anchor="start" fill="#111" style="font-size:7.8px;stroke-width:0.12px">G2/G1 = 2.0</text>
<text x="125.6" y="803" text-anchor="start" fill="#111" style="font-size:7.8px;stroke-width:0.12px">G1 CV : 9.80</text>
<text x="125.6" y="812.4" text-anchor="start" fill="#111" style="font-size:7.8px;stroke-width:0.12px">G2 CV : 9.80</text>
<g style="isolation:isolate">
<path d="M241.96 884.2 L241.96 882.96 L242.17 881.22 L242.37 879.17 L242.57 876.95 L242.77 874.75 L242.97 872.72 L243.17 871.04 L243.37 869.61 L243.58 868.21 L243.78 866.87 L243.98 865.59 L244.18 864.37 L244.38 863.22 L244.58 862.16 L244.78 861.18 L244.99 860.3 L245.19 859.53 L245.39 859.02 L245.59 858.87 L245.79 858.96 L245.99 859.18 L246.2 859.4 L246.4 859.53 L246.6 859.56 L246.8 859.6 L247 859.65 L247.2 859.71 L247.4 859.77 L247.61 859.84 L247.81 859.91 L248.01 859.98 L248.21 860.05 L248.41 860.12 L248.61 860.2 L248.81 860.27 L249.02 860.33 L249.22 860.4 L249.42 860.46 L249.62 860.51 L249.82 860.56 L250.02 860.59 L250.23 860.62 L250.43 860.65 L250.63 860.66 L250.83 860.65 L251.03 860.64 L251.23 860.61 L251.43 860.57 L251.64 860.51 L251.84 860.44 L252.04 860.36 L252.24 860.27 L252.44 860.17 L252.64 860.06 L252.84 859.95 L253.05 859.83 L253.25 859.7 L253.45 859.56 L253.65 859.41 L253.85 859.26 L254.05 859.11 L254.26 858.94 L254.46 858.78 L254.66 858.6 L254.86 858.43 L255.06 858.25 L255.26 858.06 L255.46 857.87 L255.67 857.68 L255.87 857.49 L256.07 857.3 L256.27 857.1 L256.47 856.9 L256.67 856.7 L256.88 856.5 L257.08 856.3 L257.28 856.1 L257.48 855.91 L257.68 855.71 L257.88 855.5 L258.08 855.29 L258.29 855.08 L258.49 854.87 L258.69 854.65 L258.89 854.43 L259.09 854.21 L259.29 853.98 L259.49 853.76 L259.7 853.52 L259.9 853.29 L260.1 853.05 L260.3 852.82 L260.5 852.57 L260.7 852.33 L260.9 852.08 L261.11 851.84 L261.31 851.59 L261.51 851.34 L261.71 851.08 L261.91 850.83 L262.11 850.57 L262.32 850.31 L262.52 850.05 L262.72 849.79 L262.92 849.53 L263.12 849.26 L263.32 849 L263.52 848.71 L263.73 848.4 L263.93 848.06 L264.13 847.7 L264.33 847.33 L264.53 846.93 L264.73 846.53 L264.94 846.12 L265.14 845.71 L265.34 845.31 L265.54 844.91 L265.74 844.52 L265.94 844.14 L266.14 843.78 L266.35 843.45 L266.55 843.14 L266.75 842.87 L266.95 842.63 L267.15 842.42 L267.35 842.26 L267.55 842.15 L267.76 842.09 L267.96 842.09 L268.16 842.15 L268.36 842.27 L268.56 842.45 L268.76 842.69 L268.97 842.98 L269.17 843.32 L269.37 843.71 L269.57 844.14 L269.77 844.61 L269.97 845.11 L270.17 845.65 L270.38 846.21 L270.58 846.8 L270.78 847.41 L270.98 848.04 L271.18 848.68 L271.38 849.33 L271.58 849.98 L271.79 850.68 L271.99 851.44 L272.19 852.25 L272.39 853.11 L272.59 854.02 L272.79 854.96 L273 855.92 L273.2 856.9 L273.4 857.89 L273.6 858.87 L273.8 859.85 L274 860.82 L274.2 861.76 L274.41 862.67 L274.61 863.53 L274.81 864.35 L275.01 865.12 L275.21 865.83 L275.41 866.52 L275.61 867.17 L275.82 867.8 L276.02 868.4 L276.22 868.99 L276.42 869.55 L276.62 870.11 L276.82 870.65 L277.02 871.19 L277.23 871.73 L277.43 872.26 L277.63 872.8 L277.83 873.34 L278.03 873.9 L278.23 874.46 L278.44 875.04 L278.64 875.65 L278.84 876.28 L279.04 876.95 L279.24 877.64 L279.44 878.35 L279.64 879.06 L279.85 879.77 L280.05 880.46 L280.25 881.13 L280.45 881.76 L280.65 882.35 L280.85 882.88 L281.06 883.32 L281.26 883.62 L281.46 883.84 L281.66 883.98 L281.86 884.1 L281.86 884.2Z" fill="#dfe4a0" style="mix-blend-mode:multiply"/>
<path d="M231.89 884.2 L231.89 884.18 L232.09 884.17 L232.29 884.16 L232.49 884.15 L232.69 884.13 L232.9 884.1 L233.1 884.06 L233.3 884.02 L233.5 883.95 L233.7 883.87 L233.9 883.76 L234.11 883.63 L234.31 883.45 L234.51 883.23 L234.71 882.95 L234.91 882.6 L235.11 882.16 L235.31 881.63 L235.52 880.98 L235.72 880.19 L235.92 879.24 L236.12 878.11 L236.32 876.78 L236.52 875.22 L236.72 873.41 L236.93 871.32 L237.13 868.93 L237.33 866.22 L237.53 863.18 L237.73 859.8 L237.93 856.06 L238.14 851.98 L238.34 847.56 L238.54 842.83 L238.74 837.81 L238.94 832.53 L239.14 827.06 L239.34 821.45 L239.55 815.75 L239.75 810.06 L239.95 804.46 L240.15 799.02 L240.35 793.84 L240.55 789.01 L240.75 784.61 L240.96 780.74 L241.16 777.45 L241.36 774.82 L241.56 772.91 L241.76 771.74 L241.96 771.35 L242.17 771.82 L242.37 773.2 L242.57 775.47 L242.77 778.57 L242.97 782.43 L243.17 786.95 L243.37 792.04 L243.58 797.58 L243.78 803.45 L243.98 809.55 L244.18 815.75 L244.38 821.96 L244.58 828.07 L244.78 833.99 L244.99 839.66 L245.19 845.02 L245.39 850.01 L245.59 854.62 L245.79 858.81 L245.99 862.59 L246.2 865.96 L246.4 868.93 L246.6 871.52 L246.8 873.76 L247 875.67 L247.2 877.29 L247.4 878.65 L247.61 879.78 L247.81 880.71 L248.01 881.46 L248.21 882.07 L248.41 882.56 L248.61 882.95 L248.81 883.25 L249.02 883.49 L249.22 883.67 L249.42 883.81 L249.62 883.91 L249.82 883.99 L250.02 884.05 L250.23 884.09 L250.43 884.12 L250.63 884.15 L250.83 884.16 L251.03 884.17 L251.23 884.18 L251.23 884.2Z" fill="#a9a9f5" style="mix-blend-mode:multiply"/>
<path d="M263.52 884.2 L263.52 884.07 L263.73 884.05 L263.93 884.03 L264.13 884.01 L264.33 883.98 L264.53 883.94 L264.73 883.9 L264.94 883.86 L265.14 883.81 L265.34 883.76 L265.54 883.7 L265.74 883.63 L265.94 883.55 L266.14 883.47 L266.35 883.38 L266.55 883.27 L266.75 883.16 L266.95 883.03 L267.15 882.89 L267.35 882.74 L267.55 882.57 L267.76 882.39 L267.96 882.19 L268.16 881.97 L268.36 881.73 L268.56 881.48 L268.76 881.21 L268.97 880.91 L269.17 880.59 L269.37 880.25 L269.57 879.89 L269.77 879.51 L269.97 879.1 L270.17 878.66 L270.38 878.2 L270.58 877.72 L270.78 877.21 L270.98 876.68 L271.18 876.13 L271.38 875.55 L271.58 874.95 L271.79 874.33 L271.99 873.68 L272.19 873.02 L272.39 872.34 L272.59 871.65 L272.79 870.94 L273 870.23 L273.2 869.5 L273.4 868.77 L273.6 868.04 L273.8 867.3 L274 866.57 L274.2 865.85 L274.41 865.13 L274.61 864.43 L274.81 863.74 L275.01 863.08 L275.21 862.44 L275.41 861.82 L275.61 861.23 L275.82 860.68 L276.02 860.17 L276.22 859.69 L276.42 859.26 L276.62 858.87 L276.82 858.52 L277.02 858.23 L277.23 857.99 L277.43 857.8 L277.63 857.66 L277.83 857.58 L278.03 857.55 L278.23 857.58 L278.44 857.66 L278.64 857.8 L278.84 857.99 L279.04 858.23 L279.24 858.52 L279.44 858.87 L279.64 859.26 L279.85 859.69 L280.05 860.17 L280.25 860.68 L280.45 861.23 L280.65 861.82 L280.85 862.44 L281.06 863.08 L281.26 863.74 L281.46 864.43 L281.66 865.13 L281.86 865.85 L282.06 866.57 L282.26 867.3 L282.47 868.04 L282.67 868.77 L282.87 869.5 L283.07 870.23 L283.27 870.94 L283.47 871.65 L283.67 872.34 L283.88 873.02 L284.08 873.68 L284.28 874.33 L284.48 874.95 L284.68 875.55 L284.88 876.13 L285.09 876.68 L285.29 877.21 L285.49 877.72 L285.69 878.2 L285.89 878.66 L286.09 879.1 L286.29 879.51 L286.5 879.89 L286.7 880.25 L286.9 880.59 L287.1 880.91 L287.3 881.21 L287.5 881.48 L287.7 881.73 L287.91 881.97 L288.11 882.19 L288.31 882.39 L288.51 882.57 L288.71 882.74 L288.91 882.89 L289.12 883.03 L289.32 883.16 L289.32 884.2Z" fill="#a4f2a0" style="mix-blend-mode:multiply"/>
</g>
<line x1="206.5" y1="748.4" x2="206.5" y2="884.8" stroke="#4a4a4a" stroke-width="1.3"/>
<line x1="205.9" y1="884.2" x2="334.7" y2="884.2" stroke="#4a4a4a" stroke-width="1.3"/>
<line x1="204.7" y1="884.2" x2="206.5" y2="884.2" stroke="#4a4a4a" stroke-width="0.9"/>
<line x1="204.7" y1="875.98" x2="206.5" y2="875.98" stroke="#4a4a4a" stroke-width="0.9"/>
<line x1="204.7" y1="867.75" x2="206.5" y2="867.75" stroke="#4a4a4a" stroke-width="0.9"/>
<line x1="204.7" y1="859.53" x2="206.5" y2="859.53" stroke="#4a4a4a" stroke-width="0.9"/>
<line x1="204.7" y1="851.3" x2="206.5" y2="851.3" stroke="#4a4a4a" stroke-width="0.9"/>
<line x1="204.7" y1="843.08" x2="206.5" y2="843.08" stroke="#4a4a4a" stroke-width="0.9"/>
<line x1="204.7" y1="834.85" x2="206.5" y2="834.85" stroke="#4a4a4a" stroke-width="0.9"/>
<line x1="204.7" y1="826.62" x2="206.5" y2="826.62" stroke="#4a4a4a" stroke-width="0.9"/>
<line x1="204.7" y1="818.4" x2="206.5" y2="818.4" stroke="#4a4a4a" stroke-width="0.9"/>
<line x1="204.7" y1="810.18" x2="206.5" y2="810.18" stroke="#4a4a4a" stroke-width="0.9"/>
<line x1="204.7" y1="801.95" x2="206.5" y2="801.95" stroke="#4a4a4a" stroke-width="0.9"/>
<line x1="204.7" y1="793.73" x2="206.5" y2="793.73" stroke="#4a4a4a" stroke-width="0.9"/>
<line x1="204.7" y1="785.5" x2="206.5" y2="785.5" stroke="#4a4a4a" stroke-width="0.9"/>
<line x1="204.7" y1="777.28" x2="206.5" y2="777.28" stroke="#4a4a4a" stroke-width="0.9"/>
<line x1="204.7" y1="769.05" x2="206.5" y2="769.05" stroke="#4a4a4a" stroke-width="0.9"/>
<line x1="204.7" y1="760.83" x2="206.5" y2="760.83" stroke="#4a4a4a" stroke-width="0.9"/>
<line x1="204.7" y1="752.6" x2="206.5" y2="752.6" stroke="#4a4a4a" stroke-width="0.9"/>
<line x1="202.1" y1="884.2" x2="206.5" y2="884.2" stroke="#4a4a4a" stroke-width="1.1"/>
<text x="201.1" y="887.1" text-anchor="end" fill="#111" style="font-size:7.8px;stroke-width:0.12px">0</text>
<line x1="202.1" y1="851.3" x2="206.5" y2="851.3" stroke="#4a4a4a" stroke-width="1.1"/>
<text x="201.1" y="854.2" text-anchor="end" fill="#111" style="font-size:7.8px;stroke-width:0.12px">100</text>
<line x1="202.1" y1="818.4" x2="206.5" y2="818.4" stroke="#4a4a4a" stroke-width="1.1"/>
<text x="201.1" y="821.3" text-anchor="end" fill="#111" style="font-size:7.8px;stroke-width:0.12px">200</text>
<line x1="202.1" y1="785.5" x2="206.5" y2="785.5" stroke="#4a4a4a" stroke-width="1.1"/>
<text x="201.1" y="788.4" text-anchor="end" fill="#111" style="font-size:7.8px;stroke-width:0.12px">300</text>
<line x1="202.1" y1="752.6" x2="206.5" y2="752.6" stroke="#4a4a4a" stroke-width="1.1"/>
<text x="201.1" y="755.5" text-anchor="end" fill="#111" style="font-size:7.8px;stroke-width:0.12px">400</text>
<line x1="206.5" y1="884.2" x2="206.5" y2="887.8" stroke="#4a4a4a" stroke-width="1.1"/>
<text x="206.5" y="895.6" text-anchor="middle" fill="#111" style="font-size:7.8px;stroke-width:0.12px">0</text>
<line x1="216.57" y1="884.2" x2="216.57" y2="886" stroke="#4a4a4a" stroke-width="0.9"/>
<line x1="226.65" y1="884.2" x2="226.65" y2="886" stroke="#4a4a4a" stroke-width="0.9"/>
<line x1="236.72" y1="884.2" x2="236.72" y2="886" stroke="#4a4a4a" stroke-width="0.9"/>
<line x1="246.8" y1="884.2" x2="246.8" y2="887.8" stroke="#4a4a4a" stroke-width="1.1"/>
<text x="246.8" y="895.6" text-anchor="middle" fill="#111" style="font-size:7.8px;stroke-width:0.12px">200</text>
<line x1="256.88" y1="884.2" x2="256.88" y2="886" stroke="#4a4a4a" stroke-width="0.9"/>
<line x1="266.95" y1="884.2" x2="266.95" y2="886" stroke="#4a4a4a" stroke-width="0.9"/>
<line x1="277.02" y1="884.2" x2="277.02" y2="886" stroke="#4a4a4a" stroke-width="0.9"/>
<line x1="287.1" y1="884.2" x2="287.1" y2="887.8" stroke="#4a4a4a" stroke-width="1.1"/>
<text x="287.1" y="895.6" text-anchor="middle" fill="#111" style="font-size:7.8px;stroke-width:0.12px">400</text>
<line x1="297.18" y1="884.2" x2="297.18" y2="886" stroke="#4a4a4a" stroke-width="0.9"/>
<line x1="307.25" y1="884.2" x2="307.25" y2="886" stroke="#4a4a4a" stroke-width="0.9"/>
<line x1="317.32" y1="884.2" x2="317.32" y2="886" stroke="#4a4a4a" stroke-width="0.9"/>
<line x1="327.4" y1="884.2" x2="327.4" y2="887.8" stroke="#4a4a4a" stroke-width="1.1"/>
<text x="327.4" y="895.6" text-anchor="middle" fill="#111" style="font-size:7.8px;stroke-width:0.12px">600</text>
<polyline points="206.5,884.2 206.7,884.2 206.9,884.2 207.1,884.2 207.31,884.2 207.51,884.2 207.71,884.2 207.91,884.2 208.11,884.2 208.31,884.2 208.51,884.2 208.72,884.2 208.92,884.2 209.12,884.2 209.32,884.2 209.52,884.2 209.72,884.2 209.93,884.2 210.13,884.2 210.33,884.2 210.53,884.2 210.73,884.2 210.93,884.2 211.13,884.2 211.34,884.2 211.54,884.2 211.74,884.2 211.94,884.2 212.14,884.2 212.34,884.2 212.54,884.2 212.75,884.2 212.95,884.2 213.15,884.2 213.35,884.2 213.55,884.2 213.75,884.2 213.96,884.2 214.16,884.2 214.36,884.2 214.56,884.2 214.76,884.2 214.96,884.2 215.16,884.2 215.37,884.2 215.57,884.2 215.77,884.2 215.97,884.2 216.17,884.2 216.37,884.2 216.57,884.2 216.78,884.2 216.98,884.2 217.18,884.2 217.38,884.2 217.58,884.2 217.78,884.2 217.99,884.2 218.19,884.2 218.39,884.2 218.59,884.2 218.79,884.2 218.99,884.2 219.19,884.2 219.4,884.2 219.6,884.2 219.8,884.2 220,884.2 220.2,884.2 220.4,884.2 220.6,884.2 220.81,884.2 221.01,884.2 221.21,884.2 221.41,884.2 221.61,884.2 221.81,884.2 222.02,884.2 222.22,884.2 222.42,884.2 222.62,884.2 222.82,884.2 223.02,884.19 223.22,884.19 223.43,884.19 223.63,884.19 223.83,884.19 224.03,884.18 224.23,884.18 224.43,884.18 224.63,884.17 224.84,884.17 225.04,884.16 225.24,884.15 225.44,884.14 225.64,884.13 225.84,884.11 226.05,884.1 226.25,884.08 226.45,884.06 226.65,884.03 226.85,884 227.05,883.97 227.25,883.93 227.46,883.88 227.66,883.83 227.86,883.76 228.06,883.69 228.26,883.61 228.46,883.52 228.66,883.41 228.87,883.29 229.07,883.15 229.27,882.99 229.47,882.81 229.67,882.61 229.87,882.39 230.08,882.13 230.28,881.85 230.48,881.53 230.68,881.18 230.88,880.78 231.08,880.34 231.28,879.85 231.49,879.32 231.69,878.72 231.89,878.07 232.09,877.35 232.29,876.57 232.49,875.71 232.69,874.78 232.9,873.76 233.1,872.66 233.3,871.47 233.5,870.19 233.7,868.81 233.9,867.32 234.11,865.74 234.31,864.04 234.51,862.24 234.71,860.32 234.91,858.29 235.11,856.15 235.31,853.89 235.52,851.51 235.72,849.02 235.92,846.43 236.12,843.72 236.32,840.91 236.52,838 236.72,834.99 236.93,831.9 237.13,828.73 237.33,825.48 237.53,822.18 237.73,818.82 237.93,815.43 238.14,812.01 238.34,808.57 238.54,805.14 238.74,801.72 238.94,798.32 239.14,794.98 239.34,791.69 239.55,788.48 239.75,785.37 239.95,782.36 240.15,779.48 240.35,776.74 240.55,774.16 240.75,771.75 240.96,769.52 241.16,767.49 241.36,765.66 241.56,764.06 241.76,762.69 241.96,761.55 242.17,760.66 242.37,760.02 242.57,759.64 242.77,759.51 242.97,759.47 243.17,760.48 243.37,762.52 243.58,765.51 243.78,769.38 243.98,774 244.18,779.24 244.38,784.95 244.58,791 244.78,797.24 244.99,803.53 245.19,809.76 245.39,815.83 245.59,821.58 245.79,826.85 245.99,831.61 246.2,835.82 246.4,839.5 246.6,842.64 246.8,845.28 247,847.46 247.2,849.24 247.4,850.66 247.61,851.78 247.81,852.67 248.01,853.38 248.21,853.96 248.41,854.46 248.61,854.89 248.81,855.27 249.02,855.62 249.22,855.95 249.42,856.27 249.62,856.58 249.82,856.89 250.02,857.19 250.23,857.49 250.43,857.78 250.63,858.05 250.83,858.29 251.03,858.51 251.23,858.68 251.43,858.8 251.64,858.86 251.84,858.89 252.04,858.91 252.24,858.93 252.44,858.95 252.64,858.97 252.84,858.98 253.05,858.99 253.25,859 253.45,859 253.65,859 253.85,858.99 254.05,858.97 254.26,858.95 254.46,858.93 254.66,858.89 254.86,858.85 255.06,858.8 255.26,858.75 255.46,858.68 255.67,858.61 255.87,858.52 256.07,858.43 256.27,858.32 256.47,858.21 256.67,858.08 256.88,857.92 257.08,857.74 257.28,857.53 257.48,857.31 257.68,857.06 257.88,856.79 258.08,856.49 258.29,856.17 258.49,855.83 258.69,855.47 258.89,855.09 259.09,854.69 259.29,854.26 259.49,853.82 259.7,853.37 259.9,852.91 260.1,852.44 260.3,851.96 260.5,851.47 260.7,850.97 260.9,850.47 261.11,849.96 261.31,849.44 261.51,848.92 261.71,848.4 261.91,847.87 262.11,847.33 262.32,846.79 262.52,846.25 262.72,845.7 262.92,845.16 263.12,844.61 263.32,844.06 263.52,843.51 263.73,842.96 263.93,842.41 264.13,841.86 264.33,841.32 264.53,840.77 264.73,840.2 264.94,839.59 265.14,838.94 265.34,838.26 265.54,837.56 265.74,836.86 265.94,836.15 266.14,835.45 266.35,834.76 266.55,834.1 266.75,833.47 266.95,832.89 267.15,832.35 267.35,831.88 267.55,831.47 267.76,831.15 267.96,830.9 268.16,830.74 268.36,830.64 268.56,830.61 268.76,830.63 268.97,830.7 269.17,830.82 269.37,830.97 269.57,831.17 269.77,831.39 269.97,831.63 270.17,831.9 270.38,832.18 270.58,832.47 270.78,832.76 270.98,833.05 271.18,833.34 271.38,833.61 271.58,833.86 271.79,834.11 271.99,834.37 272.19,834.63 272.39,834.91 272.59,835.19 272.79,835.48 273,835.79 273.2,836.1 273.4,836.42 273.6,836.76 273.8,837.11 274,837.47 274.2,837.84 274.41,838.22 274.61,838.62 274.81,839.03 275.01,839.46 275.21,839.9 275.41,840.35 275.61,840.81 275.82,841.29 276.02,841.78 276.22,842.28 276.42,842.79 276.62,843.31 276.82,843.85 277.02,844.39 277.23,844.94 277.43,845.5 277.63,846.06 277.83,846.64 278.03,847.22 278.23,847.8 278.44,848.4 278.64,849 278.84,849.61 279.04,850.24 279.24,850.89 279.44,851.55 279.64,852.23 279.85,852.91 280.05,853.6 280.25,854.3 280.45,855.01 280.65,855.71 280.85,856.42 281.06,857.12 281.26,857.82 281.46,858.51 281.66,859.19 281.86,859.86 282.06,860.51 282.26,861.15 282.47,861.78 282.67,862.39 282.87,862.99 283.07,863.58 283.27,864.17 283.47,864.75 283.67,865.34 283.88,865.93 284.08,866.52 284.28,867.12 284.48,867.73 284.68,868.36 284.88,869 285.09,869.66 285.29,870.34 285.49,871.04 285.69,871.93 285.89,873.07 286.09,874.3 286.29,875.46 286.5,876.4 286.7,876.96 286.9,877.25 287.1,877.5 287.3,877.71 287.5,877.89 287.7,878.03 287.91,878.15 288.11,878.24 288.31,878.3 288.51,878.35 288.71,878.39 288.91,878.42 289.12,878.43 289.32,878.45 289.52,878.47 289.72,878.49 289.92,878.51 290.12,878.55 290.32,878.61 290.53,878.67 290.73,878.73 290.93,878.79 291.13,878.85 291.33,878.9 291.53,878.96 291.73,879.02 291.94,879.07 292.14,879.12 292.34,879.18 292.54,879.23 292.74,879.28 292.94,879.33 293.14,879.38 293.35,879.43 293.55,879.48 293.75,879.52 293.95,879.57 294.15,879.62 294.35,879.66 294.56,879.71 294.76,879.76 294.96,879.8 295.16,879.85 295.36,879.89 295.56,879.94 295.76,879.98 295.97,880.03 296.17,880.07 296.37,880.12 296.57,880.16 296.77,880.21 296.97,880.25 297.18,880.3 297.38,880.35 297.58,880.39 297.78,880.44 297.98,880.49 298.18,880.53 298.38,880.58 298.59,880.63 298.79,880.68 298.99,880.72 299.19,880.77 299.39,880.81 299.59,880.86 299.79,880.9 300,880.95 300.2,880.99 300.4,881.04 300.6,881.08 300.8,881.13 301,881.17 301.21,881.21 301.41,881.26 301.61,881.3 301.81,881.35 302.01,881.39 302.21,881.43 302.41,881.48 302.62,881.52 302.82,881.57 303.02,881.62 303.22,881.66 303.42,881.71 303.62,881.76 303.82,881.81 304.03,881.86 304.23,881.91 304.43,881.96 304.63,882.01 304.83,882.06 305.03,882.12 305.24,882.17 305.44,882.23 305.64,882.28 305.84,882.35 306.04,882.41 306.24,882.48 306.44,882.55 306.65,882.62 306.85,882.7 307.05,882.78 307.25,882.85 307.45,882.93 307.65,883.01 307.85,883.09 308.06,883.17 308.26,883.25 308.46,883.33 308.66,883.41 308.86,883.49 309.06,883.57 309.26,883.64 309.47,883.71 309.67,883.78 309.87,883.85 310.07,883.91 310.27,883.97 310.47,884.02 310.68,884.07 310.88,884.12 311.08,884.16 311.28,884.2 311.48,884.2 311.68,884.2 311.88,884.2 312.09,884.2 312.29,884.2 312.49,884.2 312.69,884.2 312.89,884.2 313.09,884.2 313.3,884.2 313.5,884.2 313.7,884.2 313.9,884.2 314.1,884.2 314.3,884.2 314.5,884.2 314.71,884.2 314.91,884.2 315.11,884.2 315.31,884.2 315.51,884.2 315.71,884.2 315.91,884.2 316.12,884.2 316.32,884.2 316.52,884.2 316.72,884.2 316.92,884.2 317.12,884.2 317.32,884.2 317.53,884.2 317.73,884.2 317.93,884.2 318.13,884.2 318.33,884.2 318.53,884.2 318.74,884.2 318.94,884.2 319.14,884.2 319.34,884.2 319.54,884.2 319.74,884.2 319.94,884.2 320.15,884.2 320.35,884.2 320.55,884.2 320.75,884.2 320.95,884.2 321.15,884.2 321.36,884.2 321.56,884.2 321.76,884.2 321.96,884.2 322.16,884.2 322.36,884.2 322.56,884.2 322.77,884.2 322.97,884.2 323.17,884.2 323.37,884.2 323.57,884.2 323.77,884.2 323.97,884.2 324.18,884.2 324.38,884.2 324.58,884.2 324.78,884.2 324.98,884.2 325.18,884.2 325.38,884.2 325.59,884.2 325.79,884.2 325.99,884.2 326.19,884.2 326.39,884.2 326.59,884.2 326.8,884.2 327,884.2 327.2,884.2 327.4,884.2 327.6,884.2 327.8,884.2 328,884.2 328.21,884.2 328.41,884.2 328.61,884.2 328.81,884.2 329.01,884.2 329.21,884.2 329.42,884.2 329.62,884.2 329.82,884.2 330.02,884.2 330.22,884.2 330.42,884.2 330.62,884.2 330.83,884.2 331.03,884.2 331.23,884.2 331.43,884.2 331.63,884.2 331.83,884.2 332.03,884.2 332.24,884.2 332.44,884.2 332.64,884.2 332.84,884.2 333.04,884.2 333.24,884.2 333.44,884.2 333.65,884.2 333.85,884.2 334.05,884.2 334.25,884.2 334.45,884.2 334.65,884.2" fill="none" stroke="#111" stroke-width="1.1" stroke-linejoin="round"/>
<polyline points="206.5,884.2 206.7,884.2 206.9,884.2 207.1,884.2 207.31,884.2 207.51,884.2 207.71,884.2 207.91,884.2 208.11,884.2 208.31,884.2 208.51,884.2 208.72,884.2 208.92,884.2 209.12,884.2 209.32,884.2 209.52,884.2 209.72,884.2 209.93,884.2 210.13,884.2 210.33,884.2 210.53,884.2 210.73,884.2 210.93,884.2 211.13,884.2 211.34,884.2 211.54,884.2 211.74,884.2 211.94,884.2 212.14,884.2 212.34,884.2 212.54,884.2 212.75,884.2 212.95,884.2 213.15,884.2 213.35,884.2 213.55,884.2 213.75,884.2 213.96,884.2 214.16,884.2 214.36,884.2 214.56,884.2 214.76,884.2 214.96,884.2 215.16,884.2 215.37,884.2 215.57,884.2 215.77,884.2 215.97,884.2 216.17,884.2 216.37,884.2 216.57,884.2 216.78,884.2 216.98,884.2 217.18,884.2 217.38,884.2 217.58,884.2 217.78,884.2 217.99,884.2 218.19,884.2 218.39,884.2 218.59,884.2 218.79,884.2 218.99,884.2 219.19,884.2 219.4,884.2 219.6,884.2 219.8,884.2 220,884.2 220.2,884.2 220.4,884.2 220.6,884.2 220.81,884.2 221.01,884.2 221.21,884.2 221.41,884.2 221.61,884.2 221.81,884.2 222.02,884.2 222.22,884.2 222.42,884.2 222.62,884.2 222.82,884.2 223.02,884.2 223.22,884.2 223.43,884.2 223.63,884.2 223.83,884.2 224.03,884.2 224.23,884.2 224.43,884.2 224.63,884.2 224.84,884.2 225.04,884.2 225.24,884.2 225.44,884.2 225.64,884.2 225.84,884.2 226.05,884.2 226.25,884.2 226.45,884.2 226.65,884.2 226.85,884.2 227.05,884.2 227.25,884.2 227.46,884.2 227.66,884.2 227.86,884.2 228.06,884.2 228.26,884.2 228.46,884.2 228.66,884.2 228.87,884.2 229.07,884.2 229.27,884.2 229.47,884.2 229.67,884.19 229.87,884.19 230.08,884.19 230.28,884.18 230.48,884.18 230.68,884.17 230.88,884.16 231.08,884.15 231.28,884.13 231.49,884.11 231.69,884.08 231.89,884.05 232.09,884 232.29,883.95 232.49,883.88 232.69,883.79 232.9,883.68 233.1,883.54 233.3,883.37 233.5,883.17 233.7,882.92 233.9,882.61 234.11,882.25 234.31,881.82 234.51,881.3 234.71,880.69 234.91,879.97 235.11,879.13 235.31,878.15 235.52,877.02 235.72,875.73 235.92,874.25 236.12,872.57 236.32,870.69 236.52,868.57 236.72,866.22 236.93,863.61 237.13,860.75 237.33,857.63 237.53,854.25 237.73,850.6 237.93,846.71 238.14,842.58 238.34,838.22 238.54,833.67 238.74,828.95 238.94,824.1 239.14,819.15 239.34,814.16 239.55,809.16 239.75,804.22 239.95,799.39 240.15,794.72 240.35,790.28 240.55,786.12 240.75,782.29 240.96,778.85 241.16,775.86 241.36,773.34 241.56,771.34 241.76,769.89 241.96,769.02 242.17,768.72 242.37,769.2 242.57,770.61 242.77,772.94 242.97,776.11 243.17,780.06 243.37,784.14 243.58,788.68 243.78,793.58 243.98,798.73 244.18,804.02 244.38,809.36 244.58,814.65 244.78,819.8 244.99,824.73 245.19,829.39 245.39,833.72 245.59,837.7 245.79,841.17 245.99,844.03 246.2,846.34 246.4,848.16 246.6,849.58 246.8,850.69 247,851.57 247.2,852.33 247.4,853.05 247.61,853.85 247.81,854.64 248.01,855.31 248.21,855.88 248.41,856.37 248.61,856.79 248.81,857.17 249.02,856.51 249.22,856.28 249.42,857.62 249.62,858.45 249.82,856.84 250.02,858.4 250.23,859 250.43,858.57 250.63,859.23 250.83,860.99 251.03,858.29 251.23,859.6 251.43,858.09 251.64,859.02 251.84,860.95 252.04,859 252.24,860.28 252.44,861.56 252.64,861.18 252.84,863.46 253.05,861.55 253.25,862.22 253.45,862.03 253.65,862.76 253.85,861.39 254.05,861.35 254.26,860.64 254.46,859.83 254.66,861.15 254.86,861.88 255.06,861.97 255.26,863.29 255.46,863.5 255.67,862.18 255.87,863.51 256.07,865.17 256.27,864 256.47,862.91 256.67,861.15 256.88,862.88 257.08,863.6 257.28,862.51 257.48,862.13 257.68,861.24 257.88,861.42 258.08,860.32 258.29,860.4 258.49,858.33 258.69,858 258.89,857.2 259.09,857.71 259.29,858.69 259.49,857.18 259.7,856.46 259.9,854.68 260.1,853.94 260.3,854.52 260.5,854.48 260.7,855.24 260.9,854.22 261.11,853.33 261.31,853.45 261.51,853.97 261.71,851.31 261.91,852.53 262.11,849.87 262.32,849.19 262.52,848.28 262.72,850.29 262.92,849.1 263.12,850.58 263.32,849.68 263.52,850.32 263.73,849.33 263.93,848.39 264.13,846.1 264.33,844.8 264.53,845.55 264.73,845.33 264.94,845.58 265.14,845.5 265.34,845.79 265.54,843.8 265.74,841.84 265.94,842.27 266.14,840.82 266.35,841.62 266.55,841.4 266.75,840.49 266.95,838.33 267.15,838.83 267.35,837.33 267.55,837.79 267.76,838.56 267.96,839.62 268.16,838.22 268.36,838.25 268.56,836.28 268.76,836.2 268.97,838.57 269.17,836.89 269.37,836.83 269.57,840.75 269.77,840.31 269.97,838.96 270.17,840.65 270.38,840.44 270.58,839.14 270.78,839.12 270.98,839.02 271.18,838.95 271.38,840.67 271.58,837.88 271.79,839.06 271.99,837.87 272.19,840.21 272.39,840.3 272.59,840.74 272.79,841.61 273,842.1 273.2,842.4 273.4,842.73 273.6,843.08 273.8,843.44 274,843.81 274.2,844.2 274.41,844.6 274.61,845.01 274.81,845.43 275.01,845.86 275.21,846.31 275.41,846.76 275.61,847.22 275.82,847.7 276.02,848.18 276.22,848.68 276.42,849.18 276.62,849.7 276.82,850.22 277.02,850.76 277.23,851.3 277.43,851.86 277.63,852.43 277.83,853.02 278.03,853.63 278.23,854.25 278.44,854.88 278.64,855.52 278.84,856.17 279.04,856.83 279.24,857.49 279.44,858.16 279.64,858.83 279.85,859.5 280.05,860.17 280.25,860.84 280.45,861.5 280.65,862.16 280.85,862.82 281.06,863.47 281.26,864.13 281.46,864.79 281.66,865.46 281.86,866.13 282.06,866.8 282.26,867.47 282.47,868.15 282.67,868.82 282.87,869.49 283.07,870.16 283.27,870.82 283.47,871.48 283.67,872.13 283.88,872.78 284.08,873.41 284.28,874.04 284.48,874.66 284.68,875.28 284.88,875.9 285.09,876.53 285.29,877.15 285.49,877.75 285.69,878.33 285.89,878.87 286.09,879.38 286.29,879.84 286.5,880.24 286.7,880.58 286.9,880.87 287.1,881.14 287.3,881.39 287.5,881.61 287.7,881.81 287.91,882 288.11,882.17 288.31,882.33 288.51,882.47 288.71,882.6 288.91,882.73 289.12,882.85 289.32,882.97 289.52,883.08 289.72,883.19 289.92,883.3 290.12,883.42 290.32,883.54 290.53,883.66 290.73,883.76 290.93,883.84 291.13,883.91 291.33,883.97 291.53,884.03 291.73,884.07 291.94,884.11 292.14,884.14 292.34,884.17 292.54,884.2 292.74,884.2 292.94,884.2 293.14,884.2 293.35,884.2 293.55,884.2 293.75,884.2 293.95,884.2 294.15,884.2 294.35,884.2 294.56,884.2 294.76,884.2 294.96,884.2 295.16,884.2 295.36,884.2 295.56,884.2 295.76,884.2 295.97,884.2 296.17,884.2 296.37,884.2 296.57,884.2 296.77,884.2 296.97,884.2 297.18,884.2 297.38,884.2 297.58,884.2 297.78,884.2 297.98,884.2 298.18,884.2 298.38,884.2 298.59,884.2 298.79,884.2 298.99,884.2 299.19,884.2 299.39,884.2 299.59,884.2 299.79,884.2 300,884.2 300.2,884.2 300.4,884.2 300.6,884.2 300.8,884.2 301,884.2 301.21,884.2 301.41,884.2 301.61,884.2 301.81,884.2 302.01,884.2 302.21,884.2 302.41,884.2 302.62,884.2 302.82,884.2 303.02,884.2 303.22,884.2 303.42,884.2 303.62,884.2 303.82,884.2 304.03,884.2 304.23,884.2 304.43,884.2 304.63,884.2 304.83,884.2 305.03,884.2 305.24,884.2 305.44,884.2 305.64,884.2 305.84,884.2 306.04,884.2 306.24,884.2 306.44,884.2 306.65,884.2 306.85,884.2 307.05,884.2 307.25,884.2 307.45,884.2 307.65,884.2 307.85,884.2 308.06,884.2 308.26,884.2 308.46,884.2 308.66,884.2 308.86,884.2 309.06,884.2 309.26,884.2 309.47,884.2 309.67,884.2 309.87,884.2 310.07,884.2 310.27,884.2 310.47,884.2 310.68,884.2 310.88,884.2 311.08,884.2 311.28,884.2 311.48,884.2 311.68,884.2 311.88,884.2 312.09,884.2 312.29,884.2 312.49,884.2 312.69,884.2 312.89,884.2 313.09,884.2 313.3,884.2 313.5,884.2 313.7,884.2 313.9,884.2 314.1,884.2 314.3,884.2 314.5,884.2 314.71,884.2 314.91,884.2 315.11,884.2 315.31,884.2 315.51,884.2 315.71,884.2 315.91,884.2 316.12,884.2 316.32,884.2 316.52,884.2 316.72,884.2 316.92,884.2 317.12,884.2 317.32,884.2 317.53,884.2 317.73,884.2 317.93,884.2 318.13,884.2 318.33,884.2 318.53,884.2 318.74,884.2 318.94,884.2 319.14,884.2 319.34,884.2 319.54,884.2 319.74,884.2 319.94,884.2 320.15,884.2 320.35,884.2 320.55,884.2 320.75,884.2 320.95,884.2 321.15,884.2 321.36,884.2 321.56,884.2 321.76,884.2 321.96,884.2 322.16,884.2 322.36,884.2 322.56,884.2 322.77,884.2 322.97,884.2 323.17,884.2 323.37,884.2 323.57,884.2 323.77,884.2 323.97,884.2 324.18,884.2 324.38,884.2 324.58,884.2 324.78,884.2 324.98,884.2 325.18,884.2 325.38,884.2 325.59,884.2 325.79,884.2 325.99,884.2 326.19,884.2 326.39,884.2 326.59,884.2 326.8,884.2 327,884.2 327.2,884.2 327.4,884.2 327.6,884.2 327.8,884.2 328,884.2 328.21,884.2 328.41,884.2 328.61,884.2 328.81,884.2 329.01,884.2 329.21,884.2 329.42,884.2 329.62,884.2 329.82,884.2 330.02,884.2 330.22,884.2 330.42,884.2 330.62,884.2 330.83,884.2 331.03,884.2 331.23,884.2 331.43,884.2 331.63,884.2 331.83,884.2 332.03,884.2 332.24,884.2 332.44,884.2 332.64,884.2 332.84,884.2 333.04,884.2 333.24,884.2 333.44,884.2 333.65,884.2 333.85,884.2 334.05,884.2 334.25,884.2 334.45,884.2 334.65,884.2" fill="none" stroke="#ff1cff" stroke-width="1.7" stroke-linejoin="round"/>
<text x="277.7" y="756" text-anchor="start" fill="#111" style="font-size:7.8px;stroke-width:0.12px">RMS: 3.38</text>
<text x="277.7" y="765.4" text-anchor="start" fill="#111" style="font-size:7.8px;stroke-width:0.12px">% G0/G1 : 30.5</text>
<text x="277.7" y="774.8" text-anchor="start" fill="#111" style="font-size:7.8px;stroke-width:0.12px">% S : 44.1</text>
<text x="277.7" y="784.2" text-anchor="start" fill="#111" style="font-size:7.8px;stroke-width:0.12px">% G2/M : 14.8</text>
<text x="277.7" y="793.6" text-anchor="start" fill="#111" style="font-size:7.8px;stroke-width:0.12px">G2/G1 = 2.0</text>
<text x="277.7" y="803" text-anchor="start" fill="#111" style="font-size:7.8px;stroke-width:0.12px">G1 CV : 9.81</text>
<text x="277.7" y="812.4" text-anchor="start" fill="#111" style="font-size:7.8px;stroke-width:0.12px">G2 CV : 9.80</text>
<line x1="48.4" y1="899.6" x2="332" y2="899.6" stroke="#000" stroke-width="1.8"/>
<text x="198.4" y="916.4" text-anchor="middle" fill="#000" style="font-size:11.5px">FL2-H</text>
<text x="595.2" y="565.7" text-anchor="middle" fill="#000" style="font-size:11px">A172</text>
<line x1="537" y1="581.5" x2="537" y2="677" stroke="#000" stroke-width="1.4"/>
<line x1="536.4" y1="676.4" x2="653.4" y2="676.4" stroke="#000" stroke-width="1.4"/>
<line x1="533" y1="676.4" x2="537" y2="676.4" stroke="#000" stroke-width="1.3"/>
<text x="531.6" y="680.5" text-anchor="end" fill="#000" style="font-size:11.4px">0</text>
<line x1="533" y1="652.85" x2="537" y2="652.85" stroke="#000" stroke-width="1.3"/>
<text x="531.6" y="656.95" text-anchor="end" fill="#000" style="font-size:11.4px">20</text>
<line x1="533" y1="629.3" x2="537" y2="629.3" stroke="#000" stroke-width="1.3"/>
<text x="531.6" y="633.4" text-anchor="end" fill="#000" style="font-size:11.4px">40</text>
<line x1="533" y1="605.75" x2="537" y2="605.75" stroke="#000" stroke-width="1.3"/>
<text x="531.6" y="609.85" text-anchor="end" fill="#000" style="font-size:11.4px">60</text>
<line x1="533" y1="582.2" x2="537" y2="582.2" stroke="#000" stroke-width="1.3"/>
<text x="531.6" y="586.3" text-anchor="end" fill="#000" style="font-size:11.4px">80</text>
<text x="515.3" y="627.3" text-anchor="middle" fill="#000" style="font-size:10.3px" transform="rotate(-90 515.3 627.3)">% of cells</text>
<rect x="540.85" y="613.4" width="6.7" height="63" fill="#d8dcf8" stroke="#2424f4" stroke-width="1.2"/>
<circle cx="545.34" cy="614.14" r="1.7" fill="#1616f0" stroke="none" stroke-width="1"/>
<circle cx="543.41" cy="613.83" r="1.7" fill="#1616f0" stroke="none" stroke-width="1"/>
<circle cx="544.11" cy="612.62" r="1.7" fill="#1616f0" stroke="none" stroke-width="1"/>
<circle cx="544.53" cy="612.04" r="1.7" fill="#1616f0" stroke="none" stroke-width="1"/>
<circle cx="545.83" cy="612.94" r="1.7" fill="#1616f0" stroke="none" stroke-width="1"/>
<circle cx="544.22" cy="612.56" r="1.7" fill="#1616f0" stroke="none" stroke-width="1"/>
<rect x="551.85" y="639.9" width="6.7" height="36.5" fill="#f4c2c2" stroke="#f26a6a" stroke-width="1.2"/>
<circle cx="555.81" cy="638.08" r="1.7" fill="#f07c7c" stroke="none" stroke-width="1"/>
<circle cx="556.35" cy="640.65" r="1.7" fill="#f07c7c" stroke="none" stroke-width="1"/>
<circle cx="553.58" cy="640.35" r="1.7" fill="#f07c7c" stroke="none" stroke-width="1"/>
<circle cx="553.31" cy="638.52" r="1.7" fill="#f07c7c" stroke="none" stroke-width="1"/>
<circle cx="556.54" cy="639.38" r="1.7" fill="#f07c7c" stroke="none" stroke-width="1"/>
<circle cx="554.93" cy="639.22" r="1.7" fill="#f07c7c" stroke="none" stroke-width="1"/>
<rect x="562.85" y="642.25" width="6.7" height="34.15" fill="#ecc27a" stroke="#a8682c" stroke-width="1.2"/>
<circle cx="566.88" cy="643.39" r="1.7" fill="#9a5818" stroke="none" stroke-width="1"/>
<circle cx="565.43" cy="643.36" r="1.7" fill="#9a5818" stroke="none" stroke-width="1"/>
<circle cx="566.62" cy="640.16" r="1.7" fill="#9a5818" stroke="none" stroke-width="1"/>
<circle cx="566.63" cy="640.26" r="1.7" fill="#9a5818" stroke="none" stroke-width="1"/>
<circle cx="566.52" cy="642.96" r="1.7" fill="#9a5818" stroke="none" stroke-width="1"/>
<circle cx="564.83" cy="642.6" r="1.7" fill="#9a5818" stroke="none" stroke-width="1"/>
<line x1="555.2" y1="676.4" x2="555.2" y2="681.2" stroke="#000" stroke-width="1.3"/>
<text x="555.2" y="690.6" text-anchor="middle" fill="#000" style="font-size:11.4px">G0/G1</text>
<rect x="581.05" y="633.07" width="6.7" height="43.33" fill="#d8dcf8" stroke="#2424f4" stroke-width="1.2"/>
<circle cx="585.01" cy="632.83" r="1.7" fill="#1616f0" stroke="none" stroke-width="1"/>
<circle cx="583.04" cy="632.31" r="1.7" fill="#1616f0" stroke="none" stroke-width="1"/>
<circle cx="584.48" cy="632.85" r="1.7" fill="#1616f0" stroke="none" stroke-width="1"/>
<circle cx="583.71" cy="631.51" r="1.7" fill="#1616f0" stroke="none" stroke-width="1"/>
<circle cx="583.4" cy="633.7" r="1.7" fill="#1616f0" stroke="none" stroke-width="1"/>
<circle cx="586.21" cy="633.73" r="1.7" fill="#1616f0" stroke="none" stroke-width="1"/>
<rect x="592.05" y="606.93" width="6.7" height="69.47" fill="#f4c2c2" stroke="#f26a6a" stroke-width="1.2"/>
<circle cx="594.14" cy="606.26" r="1.7" fill="#f07c7c" stroke="none" stroke-width="1"/>
<circle cx="595.45" cy="606.64" r="1.7" fill="#f07c7c" stroke="none" stroke-width="1"/>
<circle cx="595.92" cy="607.95" r="1.7" fill="#f07c7c" stroke="none" stroke-width="1"/>
<circle cx="596.57" cy="606.3" r="1.7" fill="#f07c7c" stroke="none" stroke-width="1"/>
<circle cx="593.78" cy="606.46" r="1.7" fill="#f07c7c" stroke="none" stroke-width="1"/>
<circle cx="594.61" cy="606.74" r="1.7" fill="#f07c7c" stroke="none" stroke-width="1"/>
<rect x="603.05" y="608.34" width="6.7" height="68.06" fill="#ecc27a" stroke="#a8682c" stroke-width="1.2"/>
<circle cx="605.5" cy="607.75" r="1.7" fill="#9a5818" stroke="none" stroke-width="1"/>
<circle cx="607.64" cy="608.41" r="1.7" fill="#9a5818" stroke="none" stroke-width="1"/>
<circle cx="607.16" cy="608.44" r="1.7" fill="#9a5818" stroke="none" stroke-width="1"/>
<circle cx="606.81" cy="606.55" r="1.7" fill="#9a5818" stroke="none" stroke-width="1"/>
<circle cx="606.63" cy="606.08" r="1.7" fill="#9a5818" stroke="none" stroke-width="1"/>
<circle cx="607.05" cy="607.39" r="1.7" fill="#9a5818" stroke="none" stroke-width="1"/>
<line x1="595.4" y1="676.4" x2="595.4" y2="681.2" stroke="#000" stroke-width="1.3"/>
<text x="595.4" y="690.6" text-anchor="middle" fill="#000" style="font-size:11.4px">S</text>
<rect x="621.35" y="663.8" width="6.7" height="12.6" fill="#d8dcf8" stroke="#2424f4" stroke-width="1.2"/>
<circle cx="626.32" cy="664.76" r="1.7" fill="#1616f0" stroke="none" stroke-width="1"/>
<circle cx="626.19" cy="663.97" r="1.7" fill="#1616f0" stroke="none" stroke-width="1"/>
<circle cx="624.99" cy="664.26" r="1.7" fill="#1616f0" stroke="none" stroke-width="1"/>
<circle cx="623.38" cy="664.76" r="1.7" fill="#1616f0" stroke="none" stroke-width="1"/>
<circle cx="624.35" cy="662.44" r="1.7" fill="#1616f0" stroke="none" stroke-width="1"/>
<circle cx="626.68" cy="663.79" r="1.7" fill="#1616f0" stroke="none" stroke-width="1"/>
<rect x="632.35" y="660.5" width="6.7" height="15.9" fill="#f4c2c2" stroke="#f26a6a" stroke-width="1.2"/>
<circle cx="636.93" cy="658.8" r="1.7" fill="#f07c7c" stroke="none" stroke-width="1"/>
<circle cx="635.75" cy="660.69" r="1.7" fill="#f07c7c" stroke="none" stroke-width="1"/>
<circle cx="635.72" cy="660.49" r="1.7" fill="#f07c7c" stroke="none" stroke-width="1"/>
<circle cx="634.64" cy="659.93" r="1.7" fill="#f07c7c" stroke="none" stroke-width="1"/>
<circle cx="633.71" cy="658.98" r="1.7" fill="#f07c7c" stroke="none" stroke-width="1"/>
<circle cx="635.18" cy="661.06" r="1.7" fill="#f07c7c" stroke="none" stroke-width="1"/>
<rect x="643.35" y="657.56" width="6.7" height="18.84" fill="#ecc27a" stroke="#a8682c" stroke-width="1.2"/>
<circle cx="647.31" cy="658.71" r="1.7" fill="#9a5818" stroke="none" stroke-width="1"/>
<circle cx="646.08" cy="655.77" r="1.7" fill="#9a5818" stroke="none" stroke-width="1"/>
<circle cx="648.26" cy="655.35" r="1.7" fill="#9a5818" stroke="none" stroke-width="1"/>
<circle cx="645.63" cy="658.86" r="1.7" fill="#9a5818" stroke="none" stroke-width="1"/>
<circle cx="648.54" cy="655.92" r="1.7" fill="#9a5818" stroke="none" stroke-width="1"/>
<circle cx="645.98" cy="655.69" r="1.7" fill="#9a5818" stroke="none" stroke-width="1"/>
<line x1="635.7" y1="676.4" x2="635.7" y2="681.2" stroke="#000" stroke-width="1.3"/>
<text x="635.7" y="690.6" text-anchor="middle" fill="#000" style="font-size:11.4px">G2/M</text>
<circle cx="554.82" cy="630" r="1.9" fill="#f07c7c" stroke="none" stroke-width="1"/>
<line x1="540.6" y1="589.1" x2="566.4" y2="589.1" stroke="#000" stroke-width="1.3"/>
<text x="553.5" y="589.08" text-anchor="middle" fill="#000" style="font-size:9.3px;font-weight:bold">****</text>
<line x1="540.6" y1="606.1" x2="557.2" y2="606.1" stroke="#000" stroke-width="1.3"/>
<text x="548.9" y="606.08" text-anchor="middle" fill="#000" style="font-size:9.3px;font-weight:bold">****</text>
<line x1="580.6" y1="580.9" x2="606.6" y2="580.9" stroke="#000" stroke-width="1.3"/>
<text x="593.6" y="580.88" text-anchor="middle" fill="#000" style="font-size:9.3px;font-weight:bold">****</text>
<line x1="580.6" y1="597.6" x2="597.2" y2="597.6" stroke="#000" stroke-width="1.3"/>
<text x="588.9" y="597.58" text-anchor="middle" fill="#000" style="font-size:9.3px;font-weight:bold">****</text>
<line x1="621.1" y1="632.3" x2="646.5" y2="632.3" stroke="#000" stroke-width="1.3"/>
<text x="633.8" y="632.28" text-anchor="middle" fill="#000" style="font-size:9.3px;font-weight:bold">****</text>
<line x1="621.1" y1="649.2" x2="637.1" y2="649.2" stroke="#000" stroke-width="1.3"/>
<text x="629.1" y="649.18" text-anchor="middle" fill="#000" style="font-size:9.3px;font-weight:bold">*</text>
<circle cx="624" cy="577.5" r="2" fill="#1616f0" stroke="none" stroke-width="1"/>
<text x="634.9" y="580.9" text-anchor="start" fill="#000" style="font-size:10px">si-NC</text>
<circle cx="624" cy="592.6" r="2" fill="#f07c7c" stroke="none" stroke-width="1"/>
<text x="634.9" y="596" text-anchor="start" fill="#000" style="font-size:10px">si-RIPK1-1</text>
<circle cx="624" cy="607.9" r="2" fill="#9a5818" stroke="none" stroke-width="1"/>
<text x="634.9" y="611.3" text-anchor="start" fill="#000" style="font-size:10px">si-RIPK1-2</text>
<text x="450.8" y="762.7" text-anchor="middle" fill="#000" style="font-size:11.2px">U251</text>
<line x1="388" y1="780" x2="388" y2="884.2" stroke="#000" stroke-width="1.4"/>
<line x1="387.4" y1="883.6" x2="515.8" y2="883.6" stroke="#000" stroke-width="1.4"/>
<line x1="383.4" y1="883.6" x2="388" y2="883.6" stroke="#000" stroke-width="1.3"/>
<text x="381.6" y="887.9" text-anchor="end" fill="#000" style="font-size:12px">0</text>
<line x1="383.4" y1="849.2" x2="388" y2="849.2" stroke="#000" stroke-width="1.3"/>
<text x="381.6" y="853.5" text-anchor="end" fill="#000" style="font-size:12px">20</text>
<line x1="383.4" y1="814.8" x2="388" y2="814.8" stroke="#000" stroke-width="1.3"/>
<text x="381.6" y="819.1" text-anchor="end" fill="#000" style="font-size:12px">40</text>
<line x1="383.4" y1="780.4" x2="388" y2="780.4" stroke="#000" stroke-width="1.3"/>
<text x="381.6" y="784.7" text-anchor="end" fill="#000" style="font-size:12px">60</text>
<text x="364.2" y="830.5" text-anchor="middle" fill="#000" style="font-size:11px" transform="rotate(-90 364.2 830.5)">% of cells</text>
<rect x="393.6" y="790.03" width="10.8" height="93.57" fill="#d8dcf8" stroke="#2424f4" stroke-width="1.3"/>
<circle cx="395.6" cy="789.42" r="1.9" fill="#1616f0" stroke="none" stroke-width="1"/>
<circle cx="399.2" cy="788.68" r="1.9" fill="#1616f0" stroke="none" stroke-width="1"/>
<circle cx="402.6" cy="789.87" r="1.9" fill="#1616f0" stroke="none" stroke-width="1"/>
<rect x="410.4" y="830.62" width="10.8" height="52.98" fill="#f4c2c2" stroke="#f26a6a" stroke-width="1.3"/>
<circle cx="412.4" cy="829.2" r="1.9" fill="#f07c7c" stroke="none" stroke-width="1"/>
<circle cx="416" cy="830.03" r="1.9" fill="#f07c7c" stroke="none" stroke-width="1"/>
<circle cx="419.4" cy="828.94" r="1.9" fill="#f07c7c" stroke="none" stroke-width="1"/>
<line x1="407" y1="883.6" x2="407" y2="888.6" stroke="#000" stroke-width="1.3"/>
<text x="407" y="899.2" text-anchor="middle" fill="#000" style="font-size:12px">G0/G1</text>
<rect x="438.5" y="847.65" width="10.8" height="35.95" fill="#d8dcf8" stroke="#2424f4" stroke-width="1.3"/>
<circle cx="440.5" cy="846.44" r="1.9" fill="#1616f0" stroke="none" stroke-width="1"/>
<circle cx="444.1" cy="847.3" r="1.9" fill="#1616f0" stroke="none" stroke-width="1"/>
<circle cx="447.5" cy="846.3" r="1.9" fill="#1616f0" stroke="none" stroke-width="1"/>
<rect x="455.3" y="808.61" width="10.8" height="74.99" fill="#f4c2c2" stroke="#f26a6a" stroke-width="1.3"/>
<circle cx="457.3" cy="807.99" r="1.9" fill="#f07c7c" stroke="none" stroke-width="1"/>
<circle cx="460.9" cy="808.19" r="1.9" fill="#f07c7c" stroke="none" stroke-width="1"/>
<circle cx="464.3" cy="809" r="1.9" fill="#f07c7c" stroke="none" stroke-width="1"/>
<line x1="451.9" y1="883.6" x2="451.9" y2="888.6" stroke="#000" stroke-width="1.3"/>
<text x="451.9" y="899.2" text-anchor="middle" fill="#000" style="font-size:12px">S</text>
<rect x="482.7" y="876.89" width="10.8" height="6.71" fill="#d8dcf8" stroke="#2424f4" stroke-width="1.3"/>
<circle cx="484.7" cy="877.6" r="1.9" fill="#1616f0" stroke="none" stroke-width="1"/>
<circle cx="488.3" cy="875.63" r="1.9" fill="#1616f0" stroke="none" stroke-width="1"/>
<circle cx="491.7" cy="876.16" r="1.9" fill="#1616f0" stroke="none" stroke-width="1"/>
<rect x="499.5" y="859.52" width="10.8" height="24.08" fill="#f4c2c2" stroke="#f26a6a" stroke-width="1.3"/>
<circle cx="501.5" cy="858.36" r="1.9" fill="#f07c7c" stroke="none" stroke-width="1"/>
<circle cx="505.1" cy="859.3" r="1.9" fill="#f07c7c" stroke="none" stroke-width="1"/>
<circle cx="508.5" cy="857.35" r="1.9" fill="#f07c7c" stroke="none" stroke-width="1"/>
<line x1="496.1" y1="883.6" x2="496.1" y2="888.6" stroke="#000" stroke-width="1.3"/>
<text x="496.1" y="899.2" text-anchor="middle" fill="#000" style="font-size:12px">G2/M</text>
<circle cx="416" cy="825" r="2" fill="#f07c7c" stroke="none" stroke-width="1"/>
<circle cx="458" cy="806" r="2" fill="#f07c7c" stroke="none" stroke-width="1"/>
<line x1="397.4" y1="781.4" x2="416.4" y2="781.4" stroke="#000" stroke-width="1.3"/>
<text x="406.9" y="781.38" text-anchor="middle" fill="#000" style="font-size:9.3px;font-weight:bold">****</text>
<line x1="442.4" y1="793.8" x2="460.1" y2="793.8" stroke="#000" stroke-width="1.3"/>
<text x="451.25" y="793.78" text-anchor="middle" fill="#000" style="font-size:9.3px;font-weight:bold">****</text>
<line x1="486.1" y1="849.5" x2="504.1" y2="849.5" stroke="#000" stroke-width="1.3"/>
<text x="495.1" y="849.48" text-anchor="middle" fill="#000" style="font-size:9.3px;font-weight:bold">****</text>
<circle cx="483" cy="786" r="2" fill="#1616f0" stroke="none" stroke-width="1"/>
<circle cx="483" cy="801.9" r="2" fill="#f07c7c" stroke="none" stroke-width="1"/>
<text x="494.6" y="789.8" text-anchor="start" fill="#000" style="font-size:11.2px">U251-WT</text>
<text x="494.6" y="808.2" text-anchor="start" fill="#000" style="font-size:11.2px"><tspan style="font-style:italic">RIPK1</tspan><tspan dy="-4.3" style="font-size:7px;font-style:italic">-/-</tspan><tspan dy="4.3"> U251</tspan></text></svg>
</body></html>
